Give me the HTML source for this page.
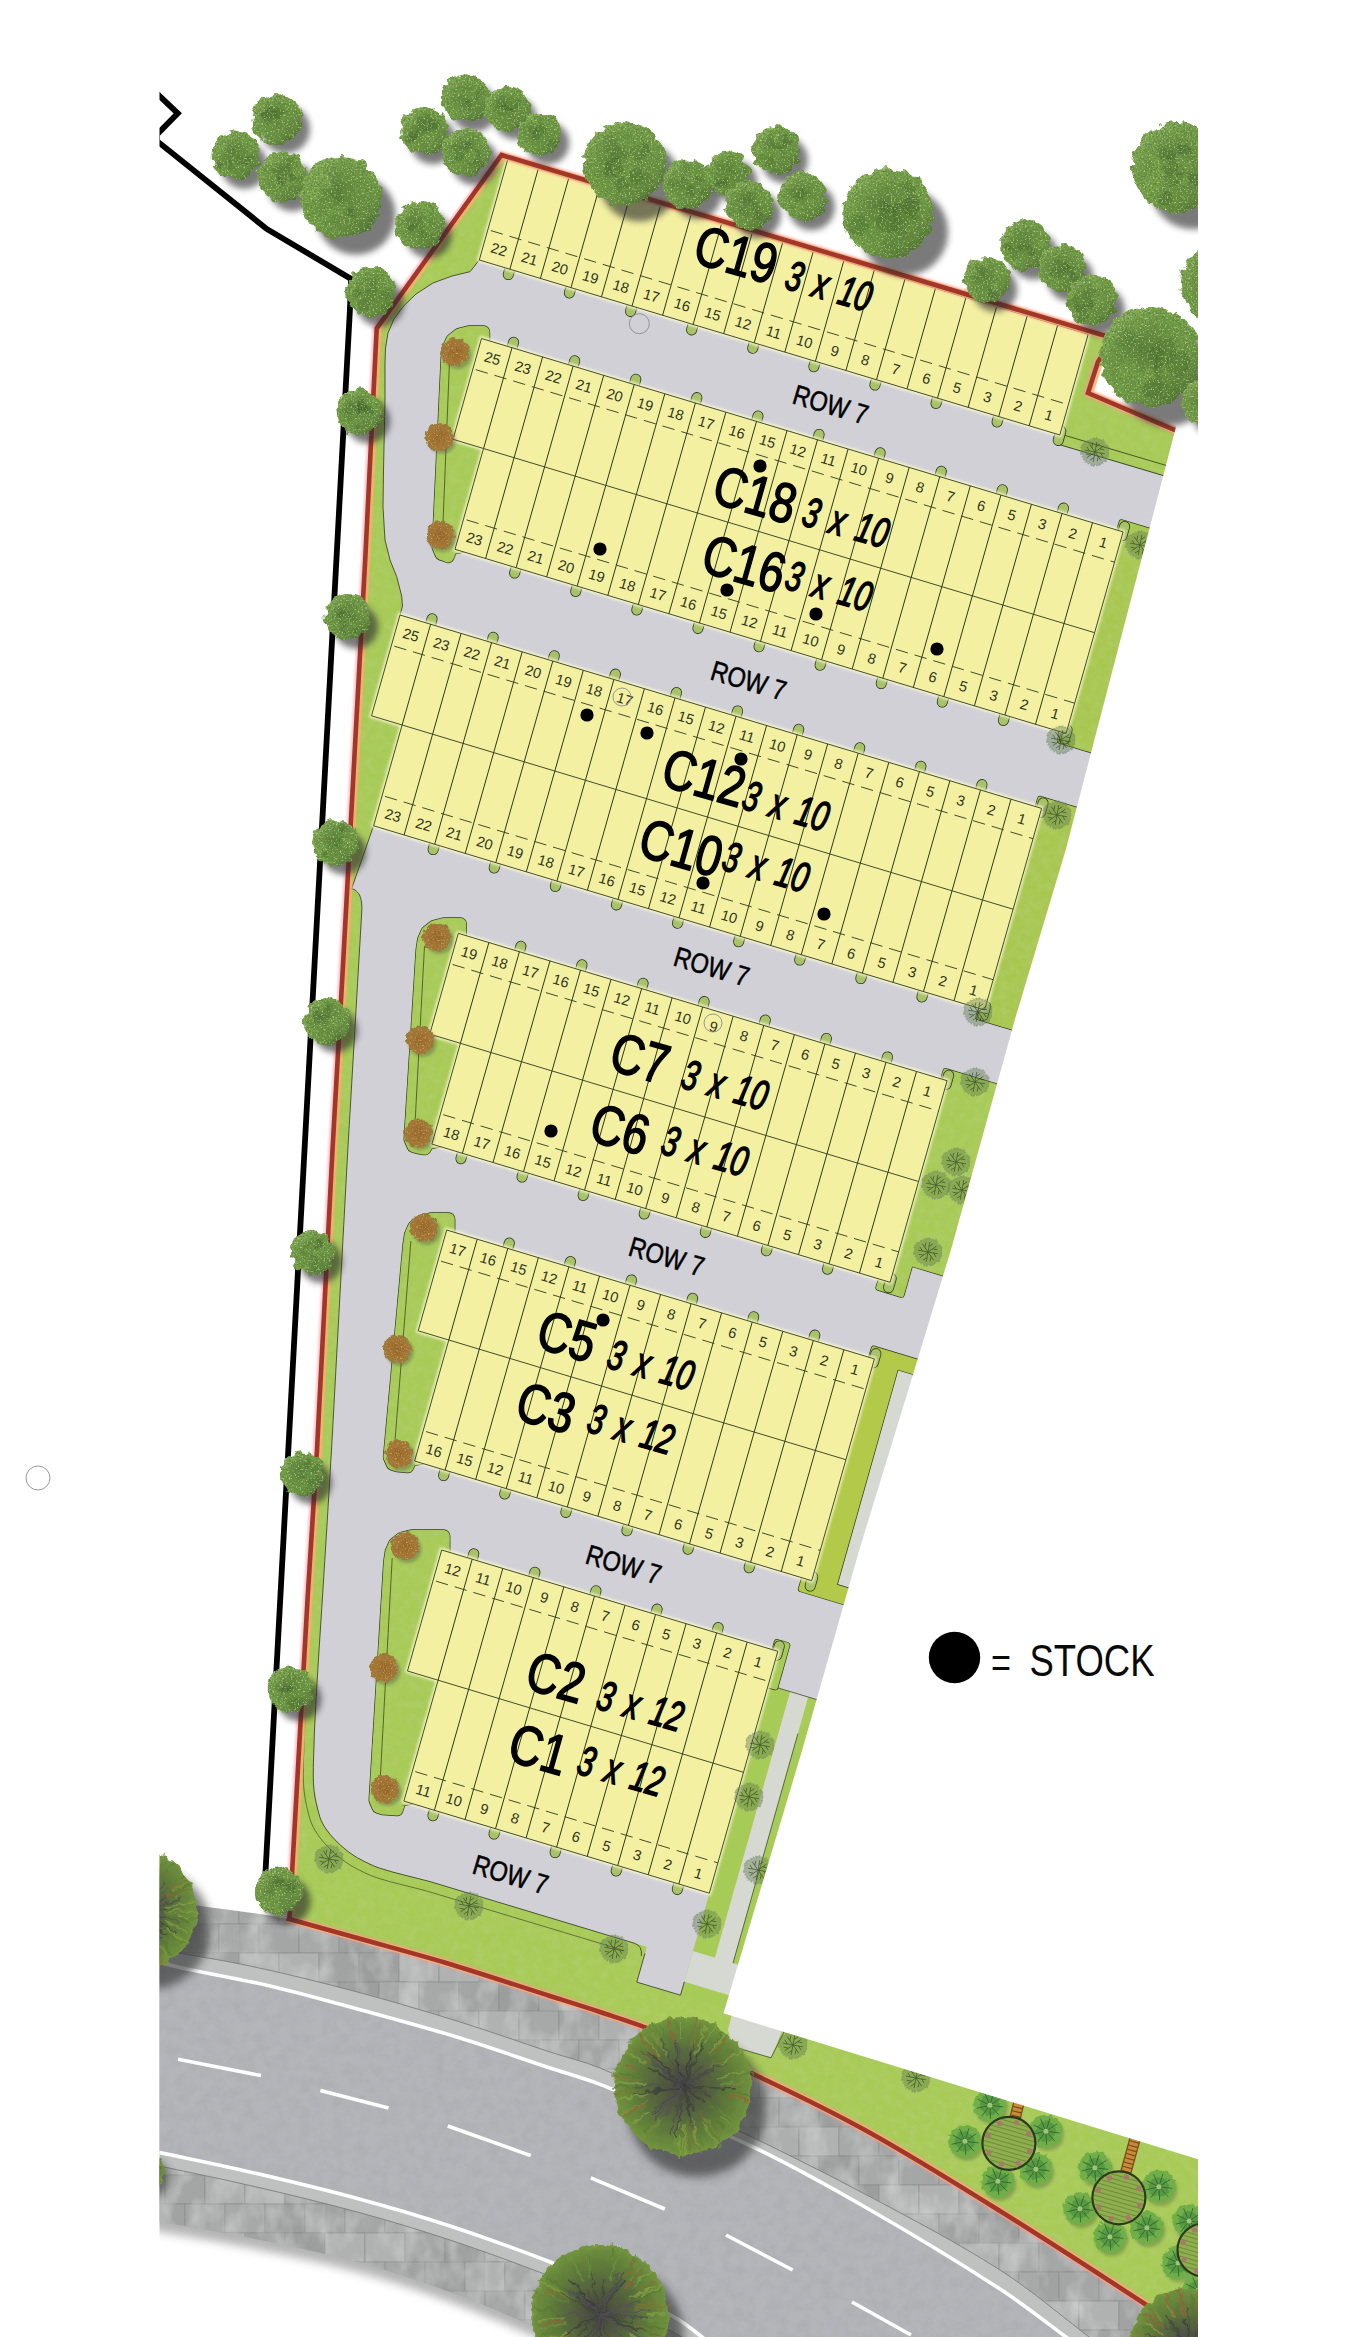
<!DOCTYPE html>
<html><head><meta charset="utf-8"><title>Site plan</title>
<style>
html,body{margin:0;padding:0;background:#fff;}
body{width:1350px;height:2337px;overflow:hidden;}
svg{display:block;}
.ln{font-family:"Liberation Sans",sans-serif;font-size:14.6px;fill:#30361b;}
</style></head><body>
<svg width="1350" height="2337" viewBox="0 0 1350 2337">
<defs>
<clipPath id="clipx"><rect x="159.5" y="0" width="1038.5" height="2337"/></clipPath>
<filter id="rough" x="-20%" y="-20%" width="140%" height="140%">
  <feTurbulence type="fractalNoise" baseFrequency="0.11" numOctaves="2" seed="3" result="n"/>
  <feDisplacementMap in="SourceGraphic" in2="n" scale="9" xChannelSelector="R" yChannelSelector="G"/>
</filter>
<filter id="rough2" x="-20%" y="-20%" width="140%" height="140%">
  <feTurbulence type="fractalNoise" baseFrequency="0.2" numOctaves="2" seed="8" result="n"/>
  <feDisplacementMap in="SourceGraphic" in2="n" scale="6" xChannelSelector="R" yChannelSelector="G"/>
</filter>
<filter id="leaf" x="-25%" y="-25%" width="150%" height="150%">
  <feTurbulence type="fractalNoise" baseFrequency="0.12" numOctaves="2" seed="3" result="n1"/>
  <feDisplacementMap in="SourceGraphic" in2="n1" scale="10" xChannelSelector="R" yChannelSelector="G" result="d"/>
  <feTurbulence type="fractalNoise" baseFrequency="0.55" numOctaves="2" seed="11" result="n2"/>
  <feColorMatrix in="n2" type="matrix" values="0 0 0 0 0.13  0 0 0 0 0.22  0 0 0 0 0.07  3.2 0 0 0 -1.35" result="dk"/>
  <feComposite in="dk" in2="d" operator="in" result="dk2"/>
  <feColorMatrix in="n2" type="matrix" values="0 0 0 0 0.56  0 0 0 0 0.74  0 0 0 0 0.32  0 2.6 0 0 -1.5" result="lt"/>
  <feComposite in="lt" in2="d" operator="in" result="lt2"/>
  <feMerge><feMergeNode in="d"/><feMergeNode in="dk2"/><feMergeNode in="lt2"/></feMerge>
</filter>
<filter id="lawn" x="-15%" y="-15%" width="130%" height="130%">
  <feTurbulence type="fractalNoise" baseFrequency="0.12" numOctaves="3" seed="21" result="n"/>
  <feColorMatrix in="n" type="matrix" values="0 0 0 0 0.45  0 0 0 0 0.62  0 0 0 0 0.16  1.1 0 0 0 -0.36" result="dk"/>
  <feComposite in="dk" in2="SourceGraphic" operator="in" result="dk2"/>
  <feColorMatrix in="n" type="matrix" values="0 0 0 0 0.74  0 0 0 0 0.86  0 0 0 0 0.40  0 1.0 0 0 -0.5" result="lt"/>
  <feComposite in="lt" in2="SourceGraphic" operator="in" result="lt2"/>
  <feMerge><feMergeNode in="SourceGraphic"/><feMergeNode in="dk2"/></feMerge>
</filter>
<filter id="bushf" x="-25%" y="-25%" width="150%" height="150%">
  <feTurbulence type="fractalNoise" baseFrequency="0.2" numOctaves="2" seed="8" result="n1"/>
  <feDisplacementMap in="SourceGraphic" in2="n1" scale="6" xChannelSelector="R" yChannelSelector="G" result="d"/>
  <feTurbulence type="fractalNoise" baseFrequency="0.6" numOctaves="2" seed="4" result="n2"/>
  <feColorMatrix in="n2" type="matrix" values="0 0 0 0 0.33  0 0 0 0 0.20  0 0 0 0 0.06  3.4 0 0 0 -1.4" result="dk"/>
  <feComposite in="dk" in2="d" operator="in" result="dk2"/>
  <feColorMatrix in="n2" type="matrix" values="0 0 0 0 0.78  0 0 0 0 0.56  0 0 0 0 0.22  0 2.4 0 0 -1.45" result="lt"/>
  <feComposite in="lt" in2="d" operator="in" result="lt2"/>
  <feMerge><feMergeNode in="d"/><feMergeNode in="dk2"/><feMergeNode in="lt2"/></feMerge>
</filter>
<filter id="marble" x="0" y="0" width="100%" height="100%">
  <feTurbulence type="fractalNoise" baseFrequency="0.045 0.03" numOctaves="3" seed="9" result="n"/>
  <feColorMatrix in="n" type="matrix" values="0 0 0 0 0.80  0 0 0 0 0.81  0 0 0 0 0.81  0.9 0 0 0 -0.36" result="lt"/>
  <feComposite in="lt" in2="SourceGraphic" operator="in" result="lt2"/>
  <feColorMatrix in="n" type="matrix" values="0 0 0 0 0.45  0 0 0 0 0.46  0 0 0 0 0.46  0 0.8 0 0 -0.36" result="dk"/>
  <feComposite in="dk" in2="SourceGraphic" operator="in" result="dk2"/>
  <feMerge><feMergeNode in="SourceGraphic"/><feMergeNode in="lt2"/><feMergeNode in="dk2"/></feMerge>
</filter>
<filter id="blur3" x="-30%" y="-30%" width="160%" height="160%"><feGaussianBlur stdDeviation="3.2"/></filter>
<filter id="blur5" x="-30%" y="-30%" width="160%" height="160%"><feGaussianBlur stdDeviation="5"/></filter>
<filter id="blur2" x="-30%" y="-30%" width="160%" height="160%"><feGaussianBlur stdDeviation="1.6"/></filter>
<filter id="blur1" x="-30%" y="-30%" width="160%" height="160%"><feGaussianBlur stdDeviation="0.9"/></filter>
<filter id="grain" x="0" y="0" width="100%" height="100%">
  <feTurbulence type="fractalNoise" baseFrequency="0.09" numOctaves="3" seed="5" result="n"/>
  <feColorMatrix in="n" type="matrix" values="0 0 0 0 0.35  0 0 0 0 0.35  0 0 0 0 0.37  0.45 0.45 0 0 -0.36" result="a"/>
  <feComposite in="a" in2="SourceGraphic" operator="in" result="b"/>
  <feMerge><feMergeNode in="SourceGraphic"/><feMergeNode in="b"/></feMerge>
</filter>
<radialGradient id="tg" cx="0.42" cy="0.40" r="0.62">
  <stop offset="0" stop-color="#527b30"/><stop offset="0.4" stop-color="#66933a"/><stop offset="0.85" stop-color="#76a544"/><stop offset="1" stop-color="#6a983c"/>
</radialGradient>
<linearGradient id="tsh" x1="0.2" y1="0.12" x2="0.85" y2="0.92">
  <stop offset="0" stop-color="#bfe486" stop-opacity="0.30"/><stop offset="0.45" stop-color="#6a983c" stop-opacity="0"/><stop offset="1" stop-color="#1c3510" stop-opacity="0.5"/>
</linearGradient>
<radialGradient id="tg2" cx="0.5" cy="0.5" r="0.55">
  <stop offset="0" stop-color="#43443f"/><stop offset="0.3" stop-color="#525c3e"/><stop offset="0.6" stop-color="#5d773a"/><stop offset="0.85" stop-color="#6c8e3c"/><stop offset="1" stop-color="#82a244"/>
</radialGradient>
<radialGradient id="bg" cx="0.5" cy="0.5" r="0.55">
  <stop offset="0" stop-color="#96601f"/><stop offset="0.7" stop-color="#a8742c"/><stop offset="1" stop-color="#927c3c"/>
</radialGradient>
</defs>
<defs><pattern id="tile" x="239" y="1895" width="160" height="116" patternUnits="userSpaceOnUse"><rect x="0.0" y="0.0" width="40" height="29" fill="#a3a6a5" stroke="#858886" stroke-width="0.6"/><rect x="40.0" y="0.0" width="40" height="29" fill="#adafae" stroke="#858886" stroke-width="0.6"/><rect x="80.0" y="0.0" width="40" height="29" fill="#b0b2b1" stroke="#858886" stroke-width="0.6"/><rect x="120.0" y="0.0" width="40" height="29" fill="#a6a9a8" stroke="#858886" stroke-width="0.6"/><rect x="160.0" y="0.0" width="40" height="29" fill="#a0a3a2" stroke="#858886" stroke-width="0.6"/><rect x="-20.0" y="29.0" width="40" height="29" fill="#a0a3a2" stroke="#858886" stroke-width="0.6"/><rect x="20.0" y="29.0" width="40" height="29" fill="#a3a6a5" stroke="#858886" stroke-width="0.6"/><rect x="60.0" y="29.0" width="40" height="29" fill="#a6a9a8" stroke="#858886" stroke-width="0.6"/><rect x="100.0" y="29.0" width="40" height="29" fill="#9b9e9d" stroke="#858886" stroke-width="0.6"/><rect x="140.0" y="29.0" width="40" height="29" fill="#a6a9a8" stroke="#858886" stroke-width="0.6"/><rect x="180.0" y="29.0" width="40" height="29" fill="#a0a3a2" stroke="#858886" stroke-width="0.6"/><rect x="0.0" y="58.0" width="40" height="29" fill="#b0b2b1" stroke="#858886" stroke-width="0.6"/><rect x="40.0" y="58.0" width="40" height="29" fill="#b0b2b1" stroke="#858886" stroke-width="0.6"/><rect x="80.0" y="58.0" width="40" height="29" fill="#a0a3a2" stroke="#858886" stroke-width="0.6"/><rect x="120.0" y="58.0" width="40" height="29" fill="#9b9e9d" stroke="#858886" stroke-width="0.6"/><rect x="160.0" y="58.0" width="40" height="29" fill="#a0a3a2" stroke="#858886" stroke-width="0.6"/><rect x="-20.0" y="87.0" width="40" height="29" fill="#b0b2b1" stroke="#858886" stroke-width="0.6"/><rect x="20.0" y="87.0" width="40" height="29" fill="#a6a9a8" stroke="#858886" stroke-width="0.6"/><rect x="60.0" y="87.0" width="40" height="29" fill="#a0a3a2" stroke="#858886" stroke-width="0.6"/><rect x="100.0" y="87.0" width="40" height="29" fill="#9b9e9d" stroke="#858886" stroke-width="0.6"/><rect x="140.0" y="87.0" width="40" height="29" fill="#a6a9a8" stroke="#858886" stroke-width="0.6"/><rect x="180.0" y="87.0" width="40" height="29" fill="#b0b2b1" stroke="#858886" stroke-width="0.6"/></pattern>
<pattern id="tile2" x="165" y="2175" width="160" height="116" patternUnits="userSpaceOnUse"><rect x="0.0" y="0.0" width="40" height="29" fill="#a3a6a5" stroke="#858886" stroke-width="0.6"/><rect x="40.0" y="0.0" width="40" height="29" fill="#adafae" stroke="#858886" stroke-width="0.6"/><rect x="80.0" y="0.0" width="40" height="29" fill="#b0b2b1" stroke="#858886" stroke-width="0.6"/><rect x="120.0" y="0.0" width="40" height="29" fill="#a6a9a8" stroke="#858886" stroke-width="0.6"/><rect x="160.0" y="0.0" width="40" height="29" fill="#a0a3a2" stroke="#858886" stroke-width="0.6"/><rect x="-20.0" y="29.0" width="40" height="29" fill="#a0a3a2" stroke="#858886" stroke-width="0.6"/><rect x="20.0" y="29.0" width="40" height="29" fill="#a3a6a5" stroke="#858886" stroke-width="0.6"/><rect x="60.0" y="29.0" width="40" height="29" fill="#a6a9a8" stroke="#858886" stroke-width="0.6"/><rect x="100.0" y="29.0" width="40" height="29" fill="#9b9e9d" stroke="#858886" stroke-width="0.6"/><rect x="140.0" y="29.0" width="40" height="29" fill="#a6a9a8" stroke="#858886" stroke-width="0.6"/><rect x="180.0" y="29.0" width="40" height="29" fill="#a0a3a2" stroke="#858886" stroke-width="0.6"/><rect x="0.0" y="58.0" width="40" height="29" fill="#b0b2b1" stroke="#858886" stroke-width="0.6"/><rect x="40.0" y="58.0" width="40" height="29" fill="#b0b2b1" stroke="#858886" stroke-width="0.6"/><rect x="80.0" y="58.0" width="40" height="29" fill="#a0a3a2" stroke="#858886" stroke-width="0.6"/><rect x="120.0" y="58.0" width="40" height="29" fill="#9b9e9d" stroke="#858886" stroke-width="0.6"/><rect x="160.0" y="58.0" width="40" height="29" fill="#a0a3a2" stroke="#858886" stroke-width="0.6"/><rect x="-20.0" y="87.0" width="40" height="29" fill="#b0b2b1" stroke="#858886" stroke-width="0.6"/><rect x="20.0" y="87.0" width="40" height="29" fill="#a6a9a8" stroke="#858886" stroke-width="0.6"/><rect x="60.0" y="87.0" width="40" height="29" fill="#a0a3a2" stroke="#858886" stroke-width="0.6"/><rect x="100.0" y="87.0" width="40" height="29" fill="#9b9e9d" stroke="#858886" stroke-width="0.6"/><rect x="140.0" y="87.0" width="40" height="29" fill="#a6a9a8" stroke="#858886" stroke-width="0.6"/><rect x="180.0" y="87.0" width="40" height="29" fill="#b0b2b1" stroke="#858886" stroke-width="0.6"/></pattern></defs>
<g clip-path="url(#clipx)">
<path d="M150.0,2170.0C183.3,2177.2 216.8,2183.8 250.0,2191.5C285.9,2199.8 321.8,2208.3 357.4,2218.0C388.5,2226.5 419.4,2235.8 450.0,2246.0C482.6,2256.8 514.9,2268.7 547.0,2281.0C568.3,2289.2 589.2,2298.1 610.0,2307.5C631.9,2317.4 653.8,2327.6 675.0,2339.0C683.9,2343.8 691.8,2350.2 700.0,2356.0C710.1,2363.2 720.0,2370.7 730.0,2378.0L600.0,2372.0C586.7,2364.7 573.4,2357.1 560.0,2350.0C549.8,2344.6 539.6,2339.0 529.0,2334.4C502.9,2323.0 476.7,2311.7 450.0,2302.0C419.5,2290.9 388.7,2280.5 357.4,2272.0C322.0,2262.4 286.0,2255.3 250.0,2248.0C216.8,2241.3 183.3,2236.0 150.0,2230.0Z" fill="#777" filter="url(#blur5)" opacity="0.55"/>
<path d="M150.0,1899.5C176.7,1903.0 203.4,1906.3 230.0,1910.0C249.7,1912.8 269.6,1914.7 289.0,1919.0C312.1,1924.1 334.6,1931.6 357.4,1938.0C387.0,1946.3 416.8,1954.1 446.3,1963.0C481.0,1973.5 515.4,1985.0 550.0,1996.0C566.7,2001.3 583.4,2006.5 600.0,2012.0C617.4,2017.8 635.0,2023.1 652.0,2030.0C685.4,2043.5 718.4,2057.7 751.0,2073.0C790.0,2091.4 829.0,2110.1 866.7,2131.0C912.0,2156.1 956.0,2183.6 1000.0,2211.0C1052.3,2243.6 1104.1,2277.2 1155.6,2311.0C1180.7,2327.5 1205.2,2345.0 1230.0,2362.0L1125.0,2366.0C1113.0,2356.3 1101.2,2346.4 1089.0,2337.0C1059.5,2314.4 1031.3,2290.0 1000.0,2270.0C957.0,2242.6 911.7,2218.9 866.7,2195.0C822.7,2171.6 778.0,2149.4 733.0,2128.0C689.1,2107.1 644.9,2086.7 600.0,2068.0C583.8,2061.3 566.6,2057.5 550.0,2052.0C520.0,2042.1 490.2,2031.4 460.0,2022.0C426.0,2011.4 391.8,2001.2 357.4,1992.0C321.8,1982.5 286.0,1973.6 250.0,1966.0C216.9,1959.0 183.3,1954.0 150.0,1948.0Z" fill="url(#tile)" filter="url(#marble)"/>
<path d="M150.0,2164.0C183.3,2171.2 216.8,2177.8 250.0,2185.5C285.9,2193.8 321.8,2202.3 357.4,2212.0C388.5,2220.5 419.4,2229.8 450.0,2240.0C482.6,2250.8 514.9,2262.7 547.0,2275.0C568.3,2283.2 589.2,2292.1 610.0,2301.5C631.9,2311.4 653.8,2321.6 675.0,2333.0C683.9,2337.8 691.8,2344.2 700.0,2350.0C710.1,2357.2 720.0,2364.7 730.0,2372.0L600.0,2362.0C586.7,2354.7 573.4,2347.1 560.0,2340.0C549.8,2334.6 539.6,2329.0 529.0,2324.4C502.9,2313.0 476.7,2301.7 450.0,2292.0C419.5,2280.9 388.7,2270.5 357.4,2262.0C322.0,2252.4 286.0,2245.3 250.0,2238.0C216.8,2231.3 183.3,2226.0 150.0,2220.0Z" fill="url(#tile2)" filter="url(#marble)"/>
<path d="M150.0,1948.0C183.3,1954.0 216.9,1959.0 250.0,1966.0C286.0,1973.6 321.8,1982.5 357.4,1992.0C391.8,2001.2 426.0,2011.4 460.0,2022.0C490.2,2031.4 520.0,2042.1 550.0,2052.0C566.6,2057.5 583.8,2061.3 600.0,2068.0C644.9,2086.7 689.1,2107.1 733.0,2128.0C778.0,2149.4 822.7,2171.6 866.7,2195.0C911.7,2218.9 957.0,2242.6 1000.0,2270.0C1031.3,2290.0 1059.5,2314.4 1089.0,2337.0C1101.2,2346.4 1113.0,2356.3 1125.0,2366.0L730.0,2372.0C720.0,2364.7 710.1,2357.2 700.0,2350.0C691.8,2344.2 683.9,2337.8 675.0,2333.0C653.8,2321.6 631.9,2311.4 610.0,2301.5C589.2,2292.1 568.3,2283.2 547.0,2275.0C514.9,2262.7 482.6,2250.8 450.0,2240.0C419.4,2229.8 388.5,2220.5 357.4,2212.0C321.8,2202.3 285.9,2193.8 250.0,2185.5C216.8,2177.8 183.3,2171.2 150.0,2164.0Z" fill="#bfc1c1" />
<path d="M150.0,1960.0C159.9,1962.5 169.7,1965.2 179.6,1967.4C209.7,1973.9 240.0,1979.0 270.0,1986.0C299.3,1992.9 328.3,2001.0 357.4,2009.0C391.7,2018.4 426.0,2027.6 460.0,2038.0C490.2,2047.3 520.0,2058.1 550.0,2068.0C566.6,2073.5 583.6,2078.1 600.0,2084.4C649.2,2103.4 698.8,2121.8 746.7,2144.0C787.8,2163.1 827.4,2185.5 866.7,2208.0C911.8,2233.8 956.4,2260.7 1000.0,2289.0C1022.8,2303.8 1044.2,2320.7 1066.0,2337.0C1077.6,2345.7 1088.7,2355.0 1100.0,2364.0L740.0,2366.0C727.3,2356.3 714.8,2346.5 702.0,2337.0C693.3,2330.5 685.2,2323.0 675.6,2317.8C654.4,2306.3 632.1,2296.8 610.0,2287.0C589.2,2277.8 568.3,2268.8 547.0,2260.7C514.9,2248.5 482.6,2236.7 450.0,2226.0C419.4,2216.0 388.5,2206.9 357.4,2198.5C321.8,2188.9 285.9,2180.3 250.0,2172.0C216.8,2164.3 183.3,2157.7 150.0,2150.5Z" fill="#b3b5b9" filter="url(#grain)"/>
<path d="M150.0,1960.0C159.9,1962.5 169.7,1965.2 179.6,1967.4C209.7,1973.9 240.0,1979.0 270.0,1986.0C299.3,1992.9 328.3,2001.0 357.4,2009.0C391.7,2018.4 426.0,2027.6 460.0,2038.0C490.2,2047.3 520.0,2058.1 550.0,2068.0C566.6,2073.5 583.6,2078.1 600.0,2084.4C649.2,2103.4 698.8,2121.8 746.7,2144.0C787.8,2163.1 827.4,2185.5 866.7,2208.0C911.8,2233.8 956.4,2260.7 1000.0,2289.0C1022.8,2303.8 1044.2,2320.7 1066.0,2337.0C1077.6,2345.7 1088.7,2355.0 1100.0,2364.0" fill="none" stroke="#fff" stroke-width="3.6"/>
<path d="M150.0,2150.5C183.3,2157.7 216.8,2164.3 250.0,2172.0C285.9,2180.3 321.8,2188.9 357.4,2198.5C388.5,2206.9 419.4,2216.0 450.0,2226.0C482.6,2236.7 514.9,2248.5 547.0,2260.7C568.3,2268.8 589.2,2277.8 610.0,2287.0C632.1,2296.8 654.4,2306.3 675.6,2317.8C685.2,2323.0 693.3,2330.5 702.0,2337.0C714.8,2346.5 727.3,2356.3 740.0,2366.0" fill="none" stroke="#fff" stroke-width="3.6"/>
<path d="M150.0,1948.0C183.3,1954.0 216.9,1959.0 250.0,1966.0C286.0,1973.6 321.8,1982.5 357.4,1992.0C391.8,2001.2 426.0,2011.4 460.0,2022.0C490.2,2031.4 520.0,2042.1 550.0,2052.0C566.6,2057.5 583.8,2061.3 600.0,2068.0C644.9,2086.7 689.1,2107.1 733.0,2128.0C778.0,2149.4 822.7,2171.6 866.7,2195.0C911.7,2218.9 957.0,2242.6 1000.0,2270.0C1031.3,2290.0 1059.5,2314.4 1089.0,2337.0C1101.2,2346.4 1113.0,2356.3 1125.0,2366.0" fill="none" stroke="#6e706f" stroke-width="0.8"/>
<path d="M150.0,2164.0C183.3,2171.2 216.8,2177.8 250.0,2185.5C285.9,2193.8 321.8,2202.3 357.4,2212.0C388.5,2220.5 419.4,2229.8 450.0,2240.0C482.6,2250.8 514.9,2262.7 547.0,2275.0C568.3,2283.2 589.2,2292.1 610.0,2301.5C631.9,2311.4 653.8,2321.6 675.0,2333.0C683.9,2337.8 691.8,2344.2 700.0,2350.0C710.1,2357.2 720.0,2364.7 730.0,2372.0" fill="none" stroke="#6e706f" stroke-width="0.8"/>
<line x1="178.0" y1="2059.3" x2="261.0" y2="2075.6" stroke="#fff" stroke-width="3.6"/>
<line x1="320.4" y1="2090.4" x2="388.5" y2="2108.0" stroke="#fff" stroke-width="3.6"/>
<line x1="447.8" y1="2126.0" x2="530.7" y2="2155.6" stroke="#fff" stroke-width="3.6"/>
<line x1="590.7" y1="2177.8" x2="664.8" y2="2209.0" stroke="#fff" stroke-width="3.6"/>
<line x1="726.0" y1="2235.0" x2="792.6" y2="2270.0" stroke="#fff" stroke-width="3.6"/>
<line x1="852.0" y1="2302.0" x2="911.0" y2="2335.0" stroke="#fff" stroke-width="3.6"/>
</g>
<g clip-path="url(#clipx)">
<path d="M501.5,155 L1113.3,338.3 L1098,361.7 L1088,393 L1175,430 L1320,470 L1320,2400 L1230,2362 L1230.0,2362.0C1205.2,2345.0 1180.7,2327.5 1155.6,2311.0C1104.1,2277.2 1052.3,2243.6 1000.0,2211.0C956.0,2183.6 912.0,2156.1 866.7,2131.0C829.0,2110.1 790.0,2091.4 751.0,2073.0C718.4,2057.7 685.4,2043.5 652.0,2030.0C635.0,2023.1 617.4,2017.8 600.0,2012.0C583.4,2006.5 566.7,2001.3 550.0,1996.0C515.4,1985.0 481.0,1973.5 446.3,1963.0C416.8,1954.1 387.0,1946.3 357.4,1938.0C334.6,1931.6 311.8,1925.3 289.0,1919.0 L289.5,1918.0 L307.5,1600.0 L317.0,1450.0 L332.5,1150.0 L343.3,960.0 L365.2,560.0 L376.7,328.3Z" fill="#d0d0d6"/>
<polygon points="501.5,155.0 507.8,159.2 479.3,260.0 470.0,271.7 452.0,276.0 433.0,283.0 416.0,294.0 403.0,306.7 394.0,319.0 388.0,333.0 385.5,348.0 385.0,363.0 385.0,400.0 383.5,470.0 383.0,507.0 385.0,540.0 390.0,560.0 396.7,576.7 401.7,596.0 402.5,606.0 400.0,615.0 371.5,715.8 402.1,725.0 373.6,825.8 351.5,889.0 347.0,889.0 365.2,560.0 376.7,328.3" fill="#a7cb57" filter="url(#lawn)"/>
<polyline points="479.3,260.0 470.0,271.7 452.0,276.0 433.0,283.0 416.0,294.0 403.0,306.7 394.0,319.0 388.0,333.0 385.5,348.0 385.0,363.0 385.0,400.0 383.5,470.0 383.0,507.0 385.0,540.0 390.0,560.0 396.7,576.7 401.7,596.0 402.5,606.0 400.0,615.0" fill="none" stroke="#2f3a1a" stroke-width="0.8"/>
<polyline points="373.6,825.8 351.5,889.0" fill="none" stroke="#2f3a1a" stroke-width="0.8"/>
<path d="M350.2,888.5 L355.0,890.0 L359.5,895.0 L361.6,903.0 L361.7,913.0 L347.8,1150.0 L331.5,1450.0 L322.3,1600.0 L316.0,1700.0 L313.5,1760.0 L314.0,1790.0 L319.9,1817.2 L326.0,1829.0 L334.9,1839.7 L345.0,1849.0 L357.3,1857.7 L379.8,1868.2 L430.0,1881.6 L1320,2150 L1320,2400 L1230,2362 L1230.0,2362.0C1205.2,2345.0 1180.7,2327.5 1155.6,2311.0C1104.1,2277.2 1052.3,2243.6 1000.0,2211.0C956.0,2183.6 912.0,2156.1 866.7,2131.0C829.0,2110.1 790.0,2091.4 751.0,2073.0C718.4,2057.7 685.4,2043.5 652.0,2030.0C635.0,2023.1 617.4,2017.8 600.0,2012.0C583.4,2006.5 566.7,2001.3 550.0,1996.0C515.4,1985.0 481.0,1973.5 446.3,1963.0C416.8,1954.1 387.0,1946.3 357.4,1938.0C334.6,1931.6 311.8,1925.3 289.0,1919.0 L307.5,1600.0 L317.0,1450.0 L332.5,1150.0 L343.3,960.0 L346.5,900.0Z" fill="#a7cb57" filter="url(#lawn)"/>
<path d="M350.2,888.5C351.8,889.0 353.6,889.0 355.0,890.0C356.8,891.3 358.5,893.0 359.5,895.0C360.7,897.5 361.3,900.3 361.6,903.0C362.0,906.3 361.9,909.7 361.7,913.0C357.3,992.0 352.2,1071.0 347.8,1150.0C342.2,1250.0 337.2,1350.0 331.5,1450.0C328.7,1500.0 325.4,1550.0 322.3,1600.0C320.2,1633.3 317.8,1666.7 316.0,1700.0C314.9,1720.0 313.9,1740.0 313.5,1760.0C313.3,1770.0 312.9,1780.1 314.0,1790.0C315.0,1799.2 317.2,1808.3 319.9,1817.2C321.2,1821.4 323.5,1825.3 326.0,1829.0C328.6,1832.9 331.7,1836.3 334.9,1839.7C338.1,1843.0 341.4,1846.1 345.0,1849.0C348.9,1852.1 352.9,1855.3 357.3,1857.7C364.5,1861.7 371.9,1865.6 379.8,1868.2C396.3,1873.6 413.3,1877.1 430.0,1881.6 L634,1943.1 Q642.8,1945.8 641.3,1956" fill="none" stroke="#2f3a1a" stroke-width="0.8"/>
<path d="M306.0,1699.6C305.2,1719.6 303.9,1739.7 303.5,1759.8C303.3,1770.2 302.9,1780.7 304.1,1791.1C305.2,1800.9 307.4,1810.7 310.3,1820.1C312.0,1825.3 314.7,1830.0 317.7,1834.5C320.5,1838.9 324.1,1842.8 327.7,1846.6C331.1,1850.2 334.8,1853.7 338.7,1856.8C343.1,1860.3 347.6,1863.8 352.5,1866.5C360.3,1870.7 368.2,1874.9 376.7,1877.7C393.2,1883.2 410.5,1886.4 427.3,1891.2C447.7,1897.1 467.9,1903.5 488.2,1909.6C508.6,1915.7 528.9,1921.9 549.3,1928.0C569.7,1934.2 590.0,1940.3 610.4,1946.4C615.0,1947.8 619.6,1949.2 624.2,1950.6" fill="none" stroke="#2f3a1a" stroke-width="0.7" opacity="0.85"/>
<polygon points="1088.2,334.2 1113.3,338.3 1098.0,361.7 1088.0,393.0 1175.0,430.0 1250.0,455.0 1250.0,500.0 1163.0,475.5 1058.0,444.0 1054.5,440.0 1054.0,435.0 1059.8,435.0" fill="#a7cb57" filter="url(#lawn)"/>
<polyline points="1250.0,489.5 1163.0,464.5 1062.0,434.5" fill="none" stroke="#2f3a1a" stroke-width="0.8"/>
<path d="M1250,500.5 L1163,475.5 L1059,444.5 Q1054,443 1054,436" fill="none" stroke="#2f3a1a" stroke-width="0.9"/>
<polygon points="1121.7,522.6 1366.1,596.3 1304.5,814.3 1060.1,740.6" fill="#2f3a1a" stroke="#2f3a1a" stroke-width="6.4" stroke-linejoin="round"/>
<polygon points="1121.7,522.6 1366.1,596.3 1304.5,814.3 1060.1,740.6" fill="#a8c750" stroke="#a8c750" stroke-width="5.0" stroke-linejoin="round" filter="url(#lawn)"/>
<polygon points="1040.2,799.1 1284.6,872.8 1223.0,1090.8 978.6,1017.1" fill="#2f3a1a" stroke="#2f3a1a" stroke-width="6.4" stroke-linejoin="round"/>
<polygon points="1040.2,799.1 1284.6,872.8 1223.0,1090.8 978.6,1017.1" fill="#a8c750" stroke="#a8c750" stroke-width="5.0" stroke-linejoin="round" filter="url(#lawn)"/>
<polygon points="945.7,1071.4 1190.1,1145.1 1141.0,1332.8 910.4,1263.3 901.5,1294.6 878.6,1287.7" fill="#2f3a1a" stroke="#2f3a1a" stroke-width="6.4" stroke-linejoin="round"/>
<polygon points="945.7,1071.4 1190.1,1145.1 1141.0,1332.8 910.4,1263.3 901.5,1294.6 878.6,1287.7" fill="#a7cb57" stroke="#a7cb57" stroke-width="5.0" stroke-linejoin="round" filter="url(#lawn)"/>
<polygon points="874.4,1358.9 1118.8,1432.6 1056.1,1654.4 811.7,1580.7" fill="#d6d8d2" />
<polygon points="873.9,1348.9 1118.3,1422.6 1118.5,1433.6 896.1,1366.5 834.0,1586.4 1056.4,1653.4 1045.5,1662.7 801.1,1589.0" fill="#2f3a1a" stroke="#2f3a1a" stroke-width="6.4" stroke-linejoin="round"/>
<polygon points="873.9,1348.9 1118.3,1422.6 1118.5,1433.6 896.1,1366.5 834.0,1586.4 1056.4,1653.4 1045.5,1662.7 801.1,1589.0" fill="#b3c94a" stroke="#b3c94a" stroke-width="5.0" stroke-linejoin="round" />
<polygon points="765.2,1684.1 1012.6,1758.7 925.0,2068.5 677.6,1993.9" fill="#a7cb57" />
<polygon points="790.2,1691.6 808.2,1697.1 732.1,1966.5 714.0,1961.1" fill="#d6d8d2" />
<polyline points="766.7,1684.5 1012.6,1758.7" fill="none" stroke="#2f3a1a" stroke-width="0.7"/>
<polyline points="797.9,1733.6 732.6,1964.6" fill="none" stroke="#2f3a1a" stroke-width="0.7"/>
<polygon points="777.0,1642.2 787.1,1645.2 775.3,1687.1 765.2,1684.1" fill="#2f3a1a" stroke="#2f3a1a" stroke-width="6.4" stroke-linejoin="round"/>
<polygon points="777.0,1642.2 787.1,1645.2 775.3,1687.1 765.2,1684.1" fill="#a7cb57" stroke="#a7cb57" stroke-width="5.0" stroke-linejoin="round" />
<polygon points="693.0,1951.0 876.3,2006.2 867.6,2037.0 684.3,1981.8" fill="#d6d8d2" />
<polygon points="709.9,1891.3 680.5,1995.2 636.8,1982.1 646.9,1946.5 642.3,1935.7 622.4,1919.2 636.6,1869.2" fill="#d0d0d6" />
<polyline points="684.3,1981.8 680.5,1995.2 636.8,1982.1 645.0,1953.2" fill="none" stroke="#2f3a1a" stroke-width="0.8"/>
<polygon points="733.0,2010.0 785.0,2024.0 771.0,2057.8 733.0,2046.7 728.0,2030.0" fill="#d6d8d2" />
<polyline points="785,2030 771,2057.8 733,2046.7" fill="none" stroke="#2f3a1a" stroke-width="0.7"/>
<polygon points="483.5,341.5 483.5,332.0 469.2,332.0 459.2,334.5 452.2,340.0 448.7,348.0 447.2,358.0 438.3,547.0 441.3,554.0 446.3,555.5 448.0,556.5 451.0,548.3 462.6,546.1 483.5,448.5 453.0,439.3" fill="#2f3a1a" stroke="#2f3a1a" stroke-width="13.4" stroke-linejoin="round"/>
<polygon points="483.5,341.5 483.5,332.0 469.2,332.0 459.2,334.5 452.2,340.0 448.7,348.0 447.2,358.0 438.3,547.0 441.3,554.0 446.3,555.5 448.0,556.5 451.0,548.3 462.6,546.1 483.5,448.5 453.0,439.3" fill="#a7cb57" stroke="#a7cb57" stroke-width="12.0" stroke-linejoin="round" filter="url(#lawn)"/>
<line x1="449.8" y1="354.0" x2="442.2" y2="543.0" stroke="#2f3a1a" stroke-width="0.7"/>
<polygon points="460.3,936.3 460.3,924.0 444.2,924.0 434.2,926.5 427.2,932.0 423.7,940.0 422.2,950.0 410.2,1139.0 413.2,1146.0 418.2,1147.5 424.9,1148.5 427.9,1143.1 439.4,1140.9 460.4,1043.3 429.8,1034.1" fill="#2f3a1a" stroke="#2f3a1a" stroke-width="13.4" stroke-linejoin="round"/>
<polygon points="460.3,936.3 460.3,924.0 444.2,924.0 434.2,926.5 427.2,932.0 423.7,940.0 422.2,950.0 410.2,1139.0 413.2,1146.0 418.2,1147.5 424.9,1148.5 427.9,1143.1 439.4,1140.9 460.4,1043.3 429.8,1034.1" fill="#a7cb57" stroke="#a7cb57" stroke-width="12.0" stroke-linejoin="round" filter="url(#lawn)"/>
<line x1="424.5" y1="946.0" x2="414.4" y2="1135.0" stroke="#2f3a1a" stroke-width="0.7"/>
<polygon points="448.7,1233.0 448.7,1219.0 431.1,1219.0 421.1,1221.5 414.1,1227.0 410.6,1235.0 409.1,1245.0 389.5,1457.0 392.5,1464.0 397.5,1465.5 407.6,1466.5 410.6,1460.0 422.1,1457.8 448.8,1340.0 418.2,1330.8" fill="#2f3a1a" stroke="#2f3a1a" stroke-width="13.4" stroke-linejoin="round"/>
<polygon points="448.7,1233.0 448.7,1219.0 431.1,1219.0 421.1,1221.5 414.1,1227.0 410.6,1235.0 409.1,1245.0 389.5,1457.0 392.5,1464.0 397.5,1465.5 407.6,1466.5 410.6,1460.0 422.1,1457.8 448.8,1340.0 418.2,1330.8" fill="#a7cb57" stroke="#a7cb57" stroke-width="12.0" stroke-linejoin="round" filter="url(#lawn)"/>
<line x1="410.9" y1="1241.0" x2="394.0" y2="1453.0" stroke="#2f3a1a" stroke-width="0.7"/>
<polygon points="443.7,1553.0 443.7,1536.0 411.8,1536.0 401.8,1538.5 394.8,1544.0 391.3,1552.0 389.8,1562.0 375.2,1800.0 378.2,1807.0 383.2,1808.5 396.9,1809.5 399.9,1800.1 411.4,1797.9 438.1,1680.2 407.5,1671.0" fill="#2f3a1a" stroke="#2f3a1a" stroke-width="13.4" stroke-linejoin="round"/>
<polygon points="443.7,1553.0 443.7,1536.0 411.8,1536.0 401.8,1538.5 394.8,1544.0 391.3,1552.0 389.8,1562.0 375.2,1800.0 378.2,1807.0 383.2,1808.5 396.9,1809.5 399.9,1800.1 411.4,1797.9 438.1,1680.2 407.5,1671.0" fill="#a7cb57" stroke="#a7cb57" stroke-width="12.0" stroke-linejoin="round" filter="url(#lawn)"/>
<line x1="392.2" y1="1558.0" x2="379.3" y2="1796.0" stroke="#2f3a1a" stroke-width="0.7"/>
<line x1="510.9" y1="265.4" x2="508.3" y2="274.6" stroke="#2f3a1a" stroke-width="11" stroke-linecap="round"/>
<line x1="510.9" y1="265.4" x2="508.3" y2="274.6" stroke="#a7c268" stroke-width="9.4" stroke-linecap="round"/>
<line x1="572.0" y1="283.8" x2="569.4" y2="293.0" stroke="#2f3a1a" stroke-width="11" stroke-linecap="round"/>
<line x1="572.0" y1="283.8" x2="569.4" y2="293.0" stroke="#a7c268" stroke-width="9.4" stroke-linecap="round"/>
<line x1="633.1" y1="302.2" x2="630.5" y2="311.4" stroke="#2f3a1a" stroke-width="11" stroke-linecap="round"/>
<line x1="633.1" y1="302.2" x2="630.5" y2="311.4" stroke="#a7c268" stroke-width="9.4" stroke-linecap="round"/>
<line x1="694.2" y1="320.6" x2="691.6" y2="329.9" stroke="#2f3a1a" stroke-width="11" stroke-linecap="round"/>
<line x1="694.2" y1="320.6" x2="691.6" y2="329.9" stroke="#a7c268" stroke-width="9.4" stroke-linecap="round"/>
<line x1="755.3" y1="339.0" x2="752.7" y2="348.3" stroke="#2f3a1a" stroke-width="11" stroke-linecap="round"/>
<line x1="755.3" y1="339.0" x2="752.7" y2="348.3" stroke="#a7c268" stroke-width="9.4" stroke-linecap="round"/>
<line x1="816.4" y1="357.5" x2="813.8" y2="366.7" stroke="#2f3a1a" stroke-width="11" stroke-linecap="round"/>
<line x1="816.4" y1="357.5" x2="813.8" y2="366.7" stroke="#a7c268" stroke-width="9.4" stroke-linecap="round"/>
<line x1="877.5" y1="375.9" x2="874.9" y2="385.1" stroke="#2f3a1a" stroke-width="11" stroke-linecap="round"/>
<line x1="877.5" y1="375.9" x2="874.9" y2="385.1" stroke="#a7c268" stroke-width="9.4" stroke-linecap="round"/>
<line x1="938.6" y1="394.3" x2="936.0" y2="403.5" stroke="#2f3a1a" stroke-width="11" stroke-linecap="round"/>
<line x1="938.6" y1="394.3" x2="936.0" y2="403.5" stroke="#a7c268" stroke-width="9.4" stroke-linecap="round"/>
<line x1="999.7" y1="412.7" x2="997.1" y2="422.0" stroke="#2f3a1a" stroke-width="11" stroke-linecap="round"/>
<line x1="999.7" y1="412.7" x2="997.1" y2="422.0" stroke="#a7c268" stroke-width="9.4" stroke-linecap="round"/>
<line x1="1060.8" y1="431.1" x2="1058.2" y2="440.4" stroke="#2f3a1a" stroke-width="11" stroke-linecap="round"/>
<line x1="1060.8" y1="431.1" x2="1058.2" y2="440.4" stroke="#a7c268" stroke-width="9.4" stroke-linecap="round"/>
<line x1="511.0" y1="351.6" x2="513.6" y2="342.3" stroke="#2f3a1a" stroke-width="11" stroke-linecap="round"/>
<line x1="511.0" y1="351.6" x2="513.6" y2="342.3" stroke="#a7c268" stroke-width="9.4" stroke-linecap="round"/>
<line x1="572.1" y1="370.0" x2="574.7" y2="360.7" stroke="#2f3a1a" stroke-width="11" stroke-linecap="round"/>
<line x1="572.1" y1="370.0" x2="574.7" y2="360.7" stroke="#a7c268" stroke-width="9.4" stroke-linecap="round"/>
<line x1="633.2" y1="388.4" x2="635.8" y2="379.2" stroke="#2f3a1a" stroke-width="11" stroke-linecap="round"/>
<line x1="633.2" y1="388.4" x2="635.8" y2="379.2" stroke="#a7c268" stroke-width="9.4" stroke-linecap="round"/>
<line x1="694.3" y1="406.8" x2="696.9" y2="397.6" stroke="#2f3a1a" stroke-width="11" stroke-linecap="round"/>
<line x1="694.3" y1="406.8" x2="696.9" y2="397.6" stroke="#a7c268" stroke-width="9.4" stroke-linecap="round"/>
<line x1="755.4" y1="425.2" x2="758.0" y2="416.0" stroke="#2f3a1a" stroke-width="11" stroke-linecap="round"/>
<line x1="755.4" y1="425.2" x2="758.0" y2="416.0" stroke="#a7c268" stroke-width="9.4" stroke-linecap="round"/>
<line x1="816.5" y1="443.7" x2="819.1" y2="434.4" stroke="#2f3a1a" stroke-width="11" stroke-linecap="round"/>
<line x1="816.5" y1="443.7" x2="819.1" y2="434.4" stroke="#a7c268" stroke-width="9.4" stroke-linecap="round"/>
<line x1="877.6" y1="462.1" x2="880.2" y2="452.8" stroke="#2f3a1a" stroke-width="11" stroke-linecap="round"/>
<line x1="877.6" y1="462.1" x2="880.2" y2="452.8" stroke="#a7c268" stroke-width="9.4" stroke-linecap="round"/>
<line x1="938.7" y1="480.5" x2="941.3" y2="471.3" stroke="#2f3a1a" stroke-width="11" stroke-linecap="round"/>
<line x1="938.7" y1="480.5" x2="941.3" y2="471.3" stroke="#a7c268" stroke-width="9.4" stroke-linecap="round"/>
<line x1="999.8" y1="498.9" x2="1002.4" y2="489.7" stroke="#2f3a1a" stroke-width="11" stroke-linecap="round"/>
<line x1="999.8" y1="498.9" x2="1002.4" y2="489.7" stroke="#a7c268" stroke-width="9.4" stroke-linecap="round"/>
<line x1="1060.9" y1="517.3" x2="1063.5" y2="508.1" stroke="#2f3a1a" stroke-width="11" stroke-linecap="round"/>
<line x1="1060.9" y1="517.3" x2="1063.5" y2="508.1" stroke="#a7c268" stroke-width="9.4" stroke-linecap="round"/>
<line x1="1122.0" y1="535.8" x2="1124.6" y2="526.5" stroke="#2f3a1a" stroke-width="11" stroke-linecap="round"/>
<line x1="1122.0" y1="535.8" x2="1124.6" y2="526.5" stroke="#a7c268" stroke-width="9.4" stroke-linecap="round"/>
<line x1="517.2" y1="563.9" x2="514.6" y2="573.1" stroke="#2f3a1a" stroke-width="11" stroke-linecap="round"/>
<line x1="517.2" y1="563.9" x2="514.6" y2="573.1" stroke="#a7c268" stroke-width="9.4" stroke-linecap="round"/>
<line x1="578.3" y1="582.3" x2="575.7" y2="591.5" stroke="#2f3a1a" stroke-width="11" stroke-linecap="round"/>
<line x1="578.3" y1="582.3" x2="575.7" y2="591.5" stroke="#a7c268" stroke-width="9.4" stroke-linecap="round"/>
<line x1="639.4" y1="600.7" x2="636.8" y2="610.0" stroke="#2f3a1a" stroke-width="11" stroke-linecap="round"/>
<line x1="639.4" y1="600.7" x2="636.8" y2="610.0" stroke="#a7c268" stroke-width="9.4" stroke-linecap="round"/>
<line x1="700.5" y1="619.1" x2="697.9" y2="628.4" stroke="#2f3a1a" stroke-width="11" stroke-linecap="round"/>
<line x1="700.5" y1="619.1" x2="697.9" y2="628.4" stroke="#a7c268" stroke-width="9.4" stroke-linecap="round"/>
<line x1="761.6" y1="637.6" x2="759.0" y2="646.8" stroke="#2f3a1a" stroke-width="11" stroke-linecap="round"/>
<line x1="761.6" y1="637.6" x2="759.0" y2="646.8" stroke="#a7c268" stroke-width="9.4" stroke-linecap="round"/>
<line x1="822.7" y1="656.0" x2="820.1" y2="665.2" stroke="#2f3a1a" stroke-width="11" stroke-linecap="round"/>
<line x1="822.7" y1="656.0" x2="820.1" y2="665.2" stroke="#a7c268" stroke-width="9.4" stroke-linecap="round"/>
<line x1="883.8" y1="674.4" x2="881.2" y2="683.6" stroke="#2f3a1a" stroke-width="11" stroke-linecap="round"/>
<line x1="883.8" y1="674.4" x2="881.2" y2="683.6" stroke="#a7c268" stroke-width="9.4" stroke-linecap="round"/>
<line x1="944.9" y1="692.8" x2="942.3" y2="702.1" stroke="#2f3a1a" stroke-width="11" stroke-linecap="round"/>
<line x1="944.9" y1="692.8" x2="942.3" y2="702.1" stroke="#a7c268" stroke-width="9.4" stroke-linecap="round"/>
<line x1="1006.0" y1="711.2" x2="1003.4" y2="720.5" stroke="#2f3a1a" stroke-width="11" stroke-linecap="round"/>
<line x1="1006.0" y1="711.2" x2="1003.4" y2="720.5" stroke="#a7c268" stroke-width="9.4" stroke-linecap="round"/>
<line x1="1067.1" y1="729.7" x2="1064.5" y2="738.9" stroke="#2f3a1a" stroke-width="11" stroke-linecap="round"/>
<line x1="1067.1" y1="729.7" x2="1064.5" y2="738.9" stroke="#a7c268" stroke-width="9.4" stroke-linecap="round"/>
<line x1="429.5" y1="628.1" x2="432.1" y2="618.8" stroke="#2f3a1a" stroke-width="11" stroke-linecap="round"/>
<line x1="429.5" y1="628.1" x2="432.1" y2="618.8" stroke="#a7c268" stroke-width="9.4" stroke-linecap="round"/>
<line x1="490.6" y1="646.5" x2="493.2" y2="637.2" stroke="#2f3a1a" stroke-width="11" stroke-linecap="round"/>
<line x1="490.6" y1="646.5" x2="493.2" y2="637.2" stroke="#a7c268" stroke-width="9.4" stroke-linecap="round"/>
<line x1="551.7" y1="664.9" x2="554.3" y2="655.7" stroke="#2f3a1a" stroke-width="11" stroke-linecap="round"/>
<line x1="551.7" y1="664.9" x2="554.3" y2="655.7" stroke="#a7c268" stroke-width="9.4" stroke-linecap="round"/>
<line x1="612.8" y1="683.3" x2="615.4" y2="674.1" stroke="#2f3a1a" stroke-width="11" stroke-linecap="round"/>
<line x1="612.8" y1="683.3" x2="615.4" y2="674.1" stroke="#a7c268" stroke-width="9.4" stroke-linecap="round"/>
<line x1="673.9" y1="701.7" x2="676.5" y2="692.5" stroke="#2f3a1a" stroke-width="11" stroke-linecap="round"/>
<line x1="673.9" y1="701.7" x2="676.5" y2="692.5" stroke="#a7c268" stroke-width="9.4" stroke-linecap="round"/>
<line x1="735.0" y1="720.2" x2="737.6" y2="710.9" stroke="#2f3a1a" stroke-width="11" stroke-linecap="round"/>
<line x1="735.0" y1="720.2" x2="737.6" y2="710.9" stroke="#a7c268" stroke-width="9.4" stroke-linecap="round"/>
<line x1="796.1" y1="738.6" x2="798.7" y2="729.3" stroke="#2f3a1a" stroke-width="11" stroke-linecap="round"/>
<line x1="796.1" y1="738.6" x2="798.7" y2="729.3" stroke="#a7c268" stroke-width="9.4" stroke-linecap="round"/>
<line x1="857.2" y1="757.0" x2="859.8" y2="747.8" stroke="#2f3a1a" stroke-width="11" stroke-linecap="round"/>
<line x1="857.2" y1="757.0" x2="859.8" y2="747.8" stroke="#a7c268" stroke-width="9.4" stroke-linecap="round"/>
<line x1="918.3" y1="775.4" x2="920.9" y2="766.2" stroke="#2f3a1a" stroke-width="11" stroke-linecap="round"/>
<line x1="918.3" y1="775.4" x2="920.9" y2="766.2" stroke="#a7c268" stroke-width="9.4" stroke-linecap="round"/>
<line x1="979.4" y1="793.8" x2="982.0" y2="784.6" stroke="#2f3a1a" stroke-width="11" stroke-linecap="round"/>
<line x1="979.4" y1="793.8" x2="982.0" y2="784.6" stroke="#a7c268" stroke-width="9.4" stroke-linecap="round"/>
<line x1="1040.5" y1="812.3" x2="1043.1" y2="803.0" stroke="#2f3a1a" stroke-width="11" stroke-linecap="round"/>
<line x1="1040.5" y1="812.3" x2="1043.1" y2="803.0" stroke="#a7c268" stroke-width="9.4" stroke-linecap="round"/>
<line x1="435.7" y1="840.4" x2="433.1" y2="849.6" stroke="#2f3a1a" stroke-width="11" stroke-linecap="round"/>
<line x1="435.7" y1="840.4" x2="433.1" y2="849.6" stroke="#a7c268" stroke-width="9.4" stroke-linecap="round"/>
<line x1="496.8" y1="858.8" x2="494.2" y2="868.0" stroke="#2f3a1a" stroke-width="11" stroke-linecap="round"/>
<line x1="496.8" y1="858.8" x2="494.2" y2="868.0" stroke="#a7c268" stroke-width="9.4" stroke-linecap="round"/>
<line x1="557.9" y1="877.2" x2="555.3" y2="886.5" stroke="#2f3a1a" stroke-width="11" stroke-linecap="round"/>
<line x1="557.9" y1="877.2" x2="555.3" y2="886.5" stroke="#a7c268" stroke-width="9.4" stroke-linecap="round"/>
<line x1="619.0" y1="895.6" x2="616.4" y2="904.9" stroke="#2f3a1a" stroke-width="11" stroke-linecap="round"/>
<line x1="619.0" y1="895.6" x2="616.4" y2="904.9" stroke="#a7c268" stroke-width="9.4" stroke-linecap="round"/>
<line x1="680.1" y1="914.1" x2="677.5" y2="923.3" stroke="#2f3a1a" stroke-width="11" stroke-linecap="round"/>
<line x1="680.1" y1="914.1" x2="677.5" y2="923.3" stroke="#a7c268" stroke-width="9.4" stroke-linecap="round"/>
<line x1="741.2" y1="932.5" x2="738.6" y2="941.7" stroke="#2f3a1a" stroke-width="11" stroke-linecap="round"/>
<line x1="741.2" y1="932.5" x2="738.6" y2="941.7" stroke="#a7c268" stroke-width="9.4" stroke-linecap="round"/>
<line x1="802.3" y1="950.9" x2="799.7" y2="960.1" stroke="#2f3a1a" stroke-width="11" stroke-linecap="round"/>
<line x1="802.3" y1="950.9" x2="799.7" y2="960.1" stroke="#a7c268" stroke-width="9.4" stroke-linecap="round"/>
<line x1="863.4" y1="969.3" x2="860.8" y2="978.6" stroke="#2f3a1a" stroke-width="11" stroke-linecap="round"/>
<line x1="863.4" y1="969.3" x2="860.8" y2="978.6" stroke="#a7c268" stroke-width="9.4" stroke-linecap="round"/>
<line x1="924.5" y1="987.7" x2="921.9" y2="997.0" stroke="#2f3a1a" stroke-width="11" stroke-linecap="round"/>
<line x1="924.5" y1="987.7" x2="921.9" y2="997.0" stroke="#a7c268" stroke-width="9.4" stroke-linecap="round"/>
<line x1="985.6" y1="1006.2" x2="983.0" y2="1015.4" stroke="#2f3a1a" stroke-width="11" stroke-linecap="round"/>
<line x1="985.6" y1="1006.2" x2="983.0" y2="1015.4" stroke="#a7c268" stroke-width="9.4" stroke-linecap="round"/>
<line x1="518.3" y1="955.6" x2="520.9" y2="946.3" stroke="#2f3a1a" stroke-width="11" stroke-linecap="round"/>
<line x1="518.3" y1="955.6" x2="520.9" y2="946.3" stroke="#a7c268" stroke-width="9.4" stroke-linecap="round"/>
<line x1="579.4" y1="974.0" x2="582.0" y2="964.8" stroke="#2f3a1a" stroke-width="11" stroke-linecap="round"/>
<line x1="579.4" y1="974.0" x2="582.0" y2="964.8" stroke="#a7c268" stroke-width="9.4" stroke-linecap="round"/>
<line x1="640.5" y1="992.4" x2="643.1" y2="983.2" stroke="#2f3a1a" stroke-width="11" stroke-linecap="round"/>
<line x1="640.5" y1="992.4" x2="643.1" y2="983.2" stroke="#a7c268" stroke-width="9.4" stroke-linecap="round"/>
<line x1="701.6" y1="1010.8" x2="704.2" y2="1001.6" stroke="#2f3a1a" stroke-width="11" stroke-linecap="round"/>
<line x1="701.6" y1="1010.8" x2="704.2" y2="1001.6" stroke="#a7c268" stroke-width="9.4" stroke-linecap="round"/>
<line x1="762.7" y1="1029.2" x2="765.3" y2="1020.0" stroke="#2f3a1a" stroke-width="11" stroke-linecap="round"/>
<line x1="762.7" y1="1029.2" x2="765.3" y2="1020.0" stroke="#a7c268" stroke-width="9.4" stroke-linecap="round"/>
<line x1="823.8" y1="1047.7" x2="826.4" y2="1038.4" stroke="#2f3a1a" stroke-width="11" stroke-linecap="round"/>
<line x1="823.8" y1="1047.7" x2="826.4" y2="1038.4" stroke="#a7c268" stroke-width="9.4" stroke-linecap="round"/>
<line x1="884.9" y1="1066.1" x2="887.5" y2="1056.9" stroke="#2f3a1a" stroke-width="11" stroke-linecap="round"/>
<line x1="884.9" y1="1066.1" x2="887.5" y2="1056.9" stroke="#a7c268" stroke-width="9.4" stroke-linecap="round"/>
<line x1="946.0" y1="1084.5" x2="948.6" y2="1075.3" stroke="#2f3a1a" stroke-width="11" stroke-linecap="round"/>
<line x1="946.0" y1="1084.5" x2="948.6" y2="1075.3" stroke="#a7c268" stroke-width="9.4" stroke-linecap="round"/>
<line x1="463.5" y1="1149.5" x2="460.9" y2="1158.7" stroke="#2f3a1a" stroke-width="11" stroke-linecap="round"/>
<line x1="463.5" y1="1149.5" x2="460.9" y2="1158.7" stroke="#a7c268" stroke-width="9.4" stroke-linecap="round"/>
<line x1="524.6" y1="1167.9" x2="522.0" y2="1177.1" stroke="#2f3a1a" stroke-width="11" stroke-linecap="round"/>
<line x1="524.6" y1="1167.9" x2="522.0" y2="1177.1" stroke="#a7c268" stroke-width="9.4" stroke-linecap="round"/>
<line x1="585.7" y1="1186.3" x2="583.1" y2="1195.5" stroke="#2f3a1a" stroke-width="11" stroke-linecap="round"/>
<line x1="585.7" y1="1186.3" x2="583.1" y2="1195.5" stroke="#a7c268" stroke-width="9.4" stroke-linecap="round"/>
<line x1="646.8" y1="1204.7" x2="644.2" y2="1214.0" stroke="#2f3a1a" stroke-width="11" stroke-linecap="round"/>
<line x1="646.8" y1="1204.7" x2="644.2" y2="1214.0" stroke="#a7c268" stroke-width="9.4" stroke-linecap="round"/>
<line x1="707.9" y1="1223.2" x2="705.3" y2="1232.4" stroke="#2f3a1a" stroke-width="11" stroke-linecap="round"/>
<line x1="707.9" y1="1223.2" x2="705.3" y2="1232.4" stroke="#a7c268" stroke-width="9.4" stroke-linecap="round"/>
<line x1="769.0" y1="1241.6" x2="766.4" y2="1250.8" stroke="#2f3a1a" stroke-width="11" stroke-linecap="round"/>
<line x1="769.0" y1="1241.6" x2="766.4" y2="1250.8" stroke="#a7c268" stroke-width="9.4" stroke-linecap="round"/>
<line x1="830.1" y1="1260.0" x2="827.5" y2="1269.2" stroke="#2f3a1a" stroke-width="11" stroke-linecap="round"/>
<line x1="830.1" y1="1260.0" x2="827.5" y2="1269.2" stroke="#a7c268" stroke-width="9.4" stroke-linecap="round"/>
<line x1="891.2" y1="1278.4" x2="888.6" y2="1287.6" stroke="#2f3a1a" stroke-width="11" stroke-linecap="round"/>
<line x1="891.2" y1="1278.4" x2="888.6" y2="1287.6" stroke="#a7c268" stroke-width="9.4" stroke-linecap="round"/>
<line x1="506.7" y1="1252.3" x2="509.3" y2="1243.0" stroke="#2f3a1a" stroke-width="11" stroke-linecap="round"/>
<line x1="506.7" y1="1252.3" x2="509.3" y2="1243.0" stroke="#a7c268" stroke-width="9.4" stroke-linecap="round"/>
<line x1="567.8" y1="1270.7" x2="570.4" y2="1261.5" stroke="#2f3a1a" stroke-width="11" stroke-linecap="round"/>
<line x1="567.8" y1="1270.7" x2="570.4" y2="1261.5" stroke="#a7c268" stroke-width="9.4" stroke-linecap="round"/>
<line x1="628.9" y1="1289.1" x2="631.5" y2="1279.9" stroke="#2f3a1a" stroke-width="11" stroke-linecap="round"/>
<line x1="628.9" y1="1289.1" x2="631.5" y2="1279.9" stroke="#a7c268" stroke-width="9.4" stroke-linecap="round"/>
<line x1="690.0" y1="1307.5" x2="692.6" y2="1298.3" stroke="#2f3a1a" stroke-width="11" stroke-linecap="round"/>
<line x1="690.0" y1="1307.5" x2="692.6" y2="1298.3" stroke="#a7c268" stroke-width="9.4" stroke-linecap="round"/>
<line x1="751.1" y1="1325.9" x2="753.7" y2="1316.7" stroke="#2f3a1a" stroke-width="11" stroke-linecap="round"/>
<line x1="751.1" y1="1325.9" x2="753.7" y2="1316.7" stroke="#a7c268" stroke-width="9.4" stroke-linecap="round"/>
<line x1="812.2" y1="1344.4" x2="814.8" y2="1335.1" stroke="#2f3a1a" stroke-width="11" stroke-linecap="round"/>
<line x1="812.2" y1="1344.4" x2="814.8" y2="1335.1" stroke="#a7c268" stroke-width="9.4" stroke-linecap="round"/>
<line x1="873.3" y1="1362.8" x2="875.9" y2="1353.6" stroke="#2f3a1a" stroke-width="11" stroke-linecap="round"/>
<line x1="873.3" y1="1362.8" x2="875.9" y2="1353.6" stroke="#a7c268" stroke-width="9.4" stroke-linecap="round"/>
<line x1="446.2" y1="1466.3" x2="443.6" y2="1475.6" stroke="#2f3a1a" stroke-width="11" stroke-linecap="round"/>
<line x1="446.2" y1="1466.3" x2="443.6" y2="1475.6" stroke="#a7c268" stroke-width="9.4" stroke-linecap="round"/>
<line x1="507.3" y1="1484.8" x2="504.7" y2="1494.0" stroke="#2f3a1a" stroke-width="11" stroke-linecap="round"/>
<line x1="507.3" y1="1484.8" x2="504.7" y2="1494.0" stroke="#a7c268" stroke-width="9.4" stroke-linecap="round"/>
<line x1="568.4" y1="1503.2" x2="565.8" y2="1512.4" stroke="#2f3a1a" stroke-width="11" stroke-linecap="round"/>
<line x1="568.4" y1="1503.2" x2="565.8" y2="1512.4" stroke="#a7c268" stroke-width="9.4" stroke-linecap="round"/>
<line x1="629.5" y1="1521.6" x2="626.9" y2="1530.8" stroke="#2f3a1a" stroke-width="11" stroke-linecap="round"/>
<line x1="629.5" y1="1521.6" x2="626.9" y2="1530.8" stroke="#a7c268" stroke-width="9.4" stroke-linecap="round"/>
<line x1="690.6" y1="1540.0" x2="688.0" y2="1549.2" stroke="#2f3a1a" stroke-width="11" stroke-linecap="round"/>
<line x1="690.6" y1="1540.0" x2="688.0" y2="1549.2" stroke="#a7c268" stroke-width="9.4" stroke-linecap="round"/>
<line x1="751.7" y1="1558.4" x2="749.1" y2="1567.7" stroke="#2f3a1a" stroke-width="11" stroke-linecap="round"/>
<line x1="751.7" y1="1558.4" x2="749.1" y2="1567.7" stroke="#a7c268" stroke-width="9.4" stroke-linecap="round"/>
<line x1="812.8" y1="1576.9" x2="810.2" y2="1586.1" stroke="#2f3a1a" stroke-width="11" stroke-linecap="round"/>
<line x1="812.8" y1="1576.9" x2="810.2" y2="1586.1" stroke="#a7c268" stroke-width="9.4" stroke-linecap="round"/>
<line x1="471.2" y1="1563.1" x2="473.8" y2="1553.8" stroke="#2f3a1a" stroke-width="11" stroke-linecap="round"/>
<line x1="471.2" y1="1563.1" x2="473.8" y2="1553.8" stroke="#a7c268" stroke-width="9.4" stroke-linecap="round"/>
<line x1="532.3" y1="1581.5" x2="534.9" y2="1572.2" stroke="#2f3a1a" stroke-width="11" stroke-linecap="round"/>
<line x1="532.3" y1="1581.5" x2="534.9" y2="1572.2" stroke="#a7c268" stroke-width="9.4" stroke-linecap="round"/>
<line x1="593.4" y1="1599.9" x2="596.0" y2="1590.7" stroke="#2f3a1a" stroke-width="11" stroke-linecap="round"/>
<line x1="593.4" y1="1599.9" x2="596.0" y2="1590.7" stroke="#a7c268" stroke-width="9.4" stroke-linecap="round"/>
<line x1="654.5" y1="1618.3" x2="657.1" y2="1609.1" stroke="#2f3a1a" stroke-width="11" stroke-linecap="round"/>
<line x1="654.5" y1="1618.3" x2="657.1" y2="1609.1" stroke="#a7c268" stroke-width="9.4" stroke-linecap="round"/>
<line x1="715.6" y1="1636.7" x2="718.2" y2="1627.5" stroke="#2f3a1a" stroke-width="11" stroke-linecap="round"/>
<line x1="715.6" y1="1636.7" x2="718.2" y2="1627.5" stroke="#a7c268" stroke-width="9.4" stroke-linecap="round"/>
<line x1="776.7" y1="1655.2" x2="779.3" y2="1645.9" stroke="#2f3a1a" stroke-width="11" stroke-linecap="round"/>
<line x1="776.7" y1="1655.2" x2="779.3" y2="1645.9" stroke="#a7c268" stroke-width="9.4" stroke-linecap="round"/>
<line x1="435.5" y1="1806.5" x2="432.9" y2="1815.7" stroke="#2f3a1a" stroke-width="11" stroke-linecap="round"/>
<line x1="435.5" y1="1806.5" x2="432.9" y2="1815.7" stroke="#a7c268" stroke-width="9.4" stroke-linecap="round"/>
<line x1="496.6" y1="1824.9" x2="494.0" y2="1834.1" stroke="#2f3a1a" stroke-width="11" stroke-linecap="round"/>
<line x1="496.6" y1="1824.9" x2="494.0" y2="1834.1" stroke="#a7c268" stroke-width="9.4" stroke-linecap="round"/>
<line x1="557.7" y1="1843.3" x2="555.1" y2="1852.6" stroke="#2f3a1a" stroke-width="11" stroke-linecap="round"/>
<line x1="557.7" y1="1843.3" x2="555.1" y2="1852.6" stroke="#a7c268" stroke-width="9.4" stroke-linecap="round"/>
<line x1="618.8" y1="1861.8" x2="616.2" y2="1871.0" stroke="#2f3a1a" stroke-width="11" stroke-linecap="round"/>
<line x1="618.8" y1="1861.8" x2="616.2" y2="1871.0" stroke="#a7c268" stroke-width="9.4" stroke-linecap="round"/>
<line x1="679.9" y1="1880.2" x2="677.3" y2="1889.4" stroke="#2f3a1a" stroke-width="11" stroke-linecap="round"/>
<line x1="679.9" y1="1880.2" x2="677.3" y2="1889.4" stroke="#a7c268" stroke-width="9.4" stroke-linecap="round"/>
<polygon points="507.8,159.2 1088.2,334.2 1059.8,435.0 479.3,260.0" fill="#fffbd0" filter="url(#blur2)" opacity="0.9" stroke="#fffbd0" stroke-width="4"/>
<polygon points="507.8,159.2 1088.2,334.2 1059.8,435.0 479.3,260.0" fill="#f3f0a2" stroke="#2f3a1a" stroke-width="0.9"/>
<line x1="538.4" y1="168.4" x2="509.9" y2="269.2" stroke="#2f3a1a" stroke-width="1"/>
<line x1="568.9" y1="177.6" x2="540.4" y2="278.4" stroke="#2f3a1a" stroke-width="1"/>
<line x1="599.5" y1="186.8" x2="571.0" y2="287.6" stroke="#2f3a1a" stroke-width="1"/>
<line x1="630.0" y1="196.0" x2="601.5" y2="296.8" stroke="#2f3a1a" stroke-width="1"/>
<line x1="660.5" y1="205.2" x2="632.0" y2="306.1" stroke="#2f3a1a" stroke-width="1"/>
<line x1="691.1" y1="214.5" x2="662.6" y2="315.3" stroke="#2f3a1a" stroke-width="1"/>
<line x1="721.6" y1="223.7" x2="693.1" y2="324.5" stroke="#2f3a1a" stroke-width="1"/>
<line x1="752.2" y1="232.9" x2="723.7" y2="333.7" stroke="#2f3a1a" stroke-width="1"/>
<line x1="782.8" y1="242.1" x2="754.2" y2="342.9" stroke="#2f3a1a" stroke-width="1"/>
<line x1="813.3" y1="251.3" x2="784.8" y2="352.1" stroke="#2f3a1a" stroke-width="1"/>
<line x1="843.9" y1="260.5" x2="815.4" y2="361.3" stroke="#2f3a1a" stroke-width="1"/>
<line x1="874.4" y1="269.7" x2="845.9" y2="370.5" stroke="#2f3a1a" stroke-width="1"/>
<line x1="905.0" y1="278.9" x2="876.5" y2="379.7" stroke="#2f3a1a" stroke-width="1"/>
<line x1="935.5" y1="288.1" x2="907.0" y2="388.9" stroke="#2f3a1a" stroke-width="1"/>
<line x1="966.0" y1="297.4" x2="937.5" y2="398.1" stroke="#2f3a1a" stroke-width="1"/>
<line x1="996.6" y1="306.6" x2="968.1" y2="407.4" stroke="#2f3a1a" stroke-width="1"/>
<line x1="1027.2" y1="315.8" x2="998.7" y2="416.6" stroke="#2f3a1a" stroke-width="1"/>
<line x1="1057.7" y1="325.0" x2="1029.2" y2="425.8" stroke="#2f3a1a" stroke-width="1"/>
<line x1="487.9" y1="229.7" x2="1068.3" y2="404.7" stroke="#2f3a1a" stroke-width="0.9" stroke-dasharray="12.5 7" stroke-dashoffset="-3"/>
<text transform="translate(498.9,249.4) rotate(16.6)" text-anchor="middle" y="5.2" class="ln">22</text>
<text transform="translate(529.4,258.7) rotate(16.6)" text-anchor="middle" y="5.2" class="ln">21</text>
<text transform="translate(560.0,267.9) rotate(16.6)" text-anchor="middle" y="5.2" class="ln">20</text>
<text transform="translate(590.5,277.1) rotate(16.6)" text-anchor="middle" y="5.2" class="ln">19</text>
<text transform="translate(621.1,286.3) rotate(16.6)" text-anchor="middle" y="5.2" class="ln">18</text>
<text transform="translate(651.6,295.5) rotate(16.6)" text-anchor="middle" y="5.2" class="ln">17</text>
<text transform="translate(682.2,304.7) rotate(16.6)" text-anchor="middle" y="5.2" class="ln">16</text>
<text transform="translate(712.7,313.9) rotate(16.6)" text-anchor="middle" y="5.2" class="ln">15</text>
<text transform="translate(743.3,323.1) rotate(16.6)" text-anchor="middle" y="5.2" class="ln">12</text>
<text transform="translate(773.8,332.3) rotate(16.6)" text-anchor="middle" y="5.2" class="ln">11</text>
<text transform="translate(804.4,341.5) rotate(16.6)" text-anchor="middle" y="5.2" class="ln">10</text>
<text transform="translate(834.9,350.8) rotate(16.6)" text-anchor="middle" y="5.2" class="ln">9</text>
<text transform="translate(865.5,360.0) rotate(16.6)" text-anchor="middle" y="5.2" class="ln">8</text>
<text transform="translate(896.0,369.2) rotate(16.6)" text-anchor="middle" y="5.2" class="ln">7</text>
<text transform="translate(926.6,378.4) rotate(16.6)" text-anchor="middle" y="5.2" class="ln">6</text>
<text transform="translate(957.1,387.6) rotate(16.6)" text-anchor="middle" y="5.2" class="ln">5</text>
<text transform="translate(987.7,396.8) rotate(16.6)" text-anchor="middle" y="5.2" class="ln">3</text>
<text transform="translate(1018.2,406.0) rotate(16.6)" text-anchor="middle" y="5.2" class="ln">2</text>
<text transform="translate(1048.8,415.2) rotate(16.6)" text-anchor="middle" y="5.2" class="ln">1</text>
<polygon points="481.5,338.5 1123.1,531.9 1094.6,632.7 1066.1,733.5 455.0,549.3 483.5,448.5 453.0,439.3" fill="#fffbd0" filter="url(#blur2)" opacity="0.9" stroke="#fffbd0" stroke-width="4"/>
<polygon points="481.5,338.5 1123.1,531.9 1094.6,632.7 1066.1,733.5 455.0,549.3 483.5,448.5 453.0,439.3" fill="#f3f0a2" stroke="#2f3a1a" stroke-width="0.9"/>
<line x1="512.0" y1="347.7" x2="483.6" y2="448.5" stroke="#2f3a1a" stroke-width="1"/>
<line x1="542.6" y1="356.9" x2="514.1" y2="457.7" stroke="#2f3a1a" stroke-width="1"/>
<line x1="573.1" y1="366.1" x2="544.6" y2="466.9" stroke="#2f3a1a" stroke-width="1"/>
<line x1="603.7" y1="375.3" x2="575.2" y2="476.1" stroke="#2f3a1a" stroke-width="1"/>
<line x1="634.2" y1="384.6" x2="605.8" y2="485.4" stroke="#2f3a1a" stroke-width="1"/>
<line x1="664.8" y1="393.8" x2="636.3" y2="494.6" stroke="#2f3a1a" stroke-width="1"/>
<line x1="695.4" y1="403.0" x2="666.9" y2="503.8" stroke="#2f3a1a" stroke-width="1"/>
<line x1="725.9" y1="412.2" x2="697.4" y2="513.0" stroke="#2f3a1a" stroke-width="1"/>
<line x1="756.5" y1="421.4" x2="728.0" y2="522.2" stroke="#2f3a1a" stroke-width="1"/>
<line x1="787.0" y1="430.6" x2="758.5" y2="531.4" stroke="#2f3a1a" stroke-width="1"/>
<line x1="817.5" y1="439.8" x2="789.0" y2="540.6" stroke="#2f3a1a" stroke-width="1"/>
<line x1="848.1" y1="449.0" x2="819.6" y2="549.8" stroke="#2f3a1a" stroke-width="1"/>
<line x1="878.7" y1="458.2" x2="850.2" y2="559.0" stroke="#2f3a1a" stroke-width="1"/>
<line x1="909.2" y1="467.4" x2="880.7" y2="568.2" stroke="#2f3a1a" stroke-width="1"/>
<line x1="939.8" y1="476.6" x2="911.2" y2="577.5" stroke="#2f3a1a" stroke-width="1"/>
<line x1="970.3" y1="485.9" x2="941.8" y2="586.7" stroke="#2f3a1a" stroke-width="1"/>
<line x1="1000.9" y1="495.1" x2="972.4" y2="595.9" stroke="#2f3a1a" stroke-width="1"/>
<line x1="1031.4" y1="504.3" x2="1002.9" y2="605.1" stroke="#2f3a1a" stroke-width="1"/>
<line x1="1062.0" y1="513.5" x2="1033.5" y2="614.3" stroke="#2f3a1a" stroke-width="1"/>
<line x1="1092.5" y1="522.7" x2="1064.0" y2="623.5" stroke="#2f3a1a" stroke-width="1"/>
<line x1="472.9" y1="368.8" x2="1114.5" y2="562.2" stroke="#2f3a1a" stroke-width="0.9" stroke-dasharray="12.5 7" stroke-dashoffset="-3"/>
<text transform="translate(492.5,358.3) rotate(16.6)" text-anchor="middle" y="5.2" class="ln">25</text>
<text transform="translate(523.0,367.5) rotate(16.6)" text-anchor="middle" y="5.2" class="ln">23</text>
<text transform="translate(553.6,376.7) rotate(16.6)" text-anchor="middle" y="5.2" class="ln">22</text>
<text transform="translate(584.1,385.9) rotate(16.6)" text-anchor="middle" y="5.2" class="ln">21</text>
<text transform="translate(614.7,395.1) rotate(16.6)" text-anchor="middle" y="5.2" class="ln">20</text>
<text transform="translate(645.2,404.3) rotate(16.6)" text-anchor="middle" y="5.2" class="ln">19</text>
<text transform="translate(675.8,413.5) rotate(16.6)" text-anchor="middle" y="5.2" class="ln">18</text>
<text transform="translate(706.3,422.7) rotate(16.6)" text-anchor="middle" y="5.2" class="ln">17</text>
<text transform="translate(736.9,431.9) rotate(16.6)" text-anchor="middle" y="5.2" class="ln">16</text>
<text transform="translate(767.4,441.2) rotate(16.6)" text-anchor="middle" y="5.2" class="ln">15</text>
<text transform="translate(798.0,450.4) rotate(16.6)" text-anchor="middle" y="5.2" class="ln">12</text>
<text transform="translate(828.5,459.6) rotate(16.6)" text-anchor="middle" y="5.2" class="ln">11</text>
<text transform="translate(859.1,468.8) rotate(16.6)" text-anchor="middle" y="5.2" class="ln">10</text>
<text transform="translate(889.6,478.0) rotate(16.6)" text-anchor="middle" y="5.2" class="ln">9</text>
<text transform="translate(920.2,487.2) rotate(16.6)" text-anchor="middle" y="5.2" class="ln">8</text>
<text transform="translate(950.7,496.4) rotate(16.6)" text-anchor="middle" y="5.2" class="ln">7</text>
<text transform="translate(981.3,505.6) rotate(16.6)" text-anchor="middle" y="5.2" class="ln">6</text>
<text transform="translate(1011.8,514.8) rotate(16.6)" text-anchor="middle" y="5.2" class="ln">5</text>
<text transform="translate(1042.4,524.0) rotate(16.6)" text-anchor="middle" y="5.2" class="ln">3</text>
<text transform="translate(1072.9,533.3) rotate(16.6)" text-anchor="middle" y="5.2" class="ln">2</text>
<text transform="translate(1103.5,542.5) rotate(16.6)" text-anchor="middle" y="5.2" class="ln">1</text>
<line x1="514.1" y1="457.7" x2="485.6" y2="558.5" stroke="#2f3a1a" stroke-width="1"/>
<line x1="544.6" y1="466.9" x2="516.1" y2="567.7" stroke="#2f3a1a" stroke-width="1"/>
<line x1="575.2" y1="476.1" x2="546.7" y2="576.9" stroke="#2f3a1a" stroke-width="1"/>
<line x1="605.8" y1="485.4" x2="577.2" y2="586.1" stroke="#2f3a1a" stroke-width="1"/>
<line x1="636.3" y1="494.6" x2="607.8" y2="595.4" stroke="#2f3a1a" stroke-width="1"/>
<line x1="666.8" y1="503.8" x2="638.3" y2="604.6" stroke="#2f3a1a" stroke-width="1"/>
<line x1="697.4" y1="513.0" x2="668.9" y2="613.8" stroke="#2f3a1a" stroke-width="1"/>
<line x1="727.9" y1="522.2" x2="699.4" y2="623.0" stroke="#2f3a1a" stroke-width="1"/>
<line x1="758.5" y1="531.4" x2="730.0" y2="632.2" stroke="#2f3a1a" stroke-width="1"/>
<line x1="789.0" y1="540.6" x2="760.5" y2="641.4" stroke="#2f3a1a" stroke-width="1"/>
<line x1="819.6" y1="549.8" x2="791.1" y2="650.6" stroke="#2f3a1a" stroke-width="1"/>
<line x1="850.1" y1="559.0" x2="821.6" y2="659.8" stroke="#2f3a1a" stroke-width="1"/>
<line x1="880.7" y1="568.2" x2="852.2" y2="669.0" stroke="#2f3a1a" stroke-width="1"/>
<line x1="911.2" y1="577.5" x2="882.8" y2="678.2" stroke="#2f3a1a" stroke-width="1"/>
<line x1="941.8" y1="586.7" x2="913.3" y2="687.5" stroke="#2f3a1a" stroke-width="1"/>
<line x1="972.3" y1="595.9" x2="943.8" y2="696.7" stroke="#2f3a1a" stroke-width="1"/>
<line x1="1002.9" y1="605.1" x2="974.4" y2="705.9" stroke="#2f3a1a" stroke-width="1"/>
<line x1="1033.4" y1="614.3" x2="1004.9" y2="715.1" stroke="#2f3a1a" stroke-width="1"/>
<line x1="1064.0" y1="623.5" x2="1035.5" y2="724.3" stroke="#2f3a1a" stroke-width="1"/>
<line x1="483.5" y1="448.5" x2="1094.6" y2="632.7" stroke="#2f3a1a" stroke-width="0.9"/>
<line x1="463.6" y1="519.0" x2="1074.6" y2="703.2" stroke="#2f3a1a" stroke-width="0.9" stroke-dasharray="12.5 7" stroke-dashoffset="-3"/>
<text transform="translate(474.6,538.8) rotate(16.6)" text-anchor="middle" y="5.2" class="ln">23</text>
<text transform="translate(505.2,548.0) rotate(16.6)" text-anchor="middle" y="5.2" class="ln">22</text>
<text transform="translate(535.7,557.2) rotate(16.6)" text-anchor="middle" y="5.2" class="ln">21</text>
<text transform="translate(566.3,566.4) rotate(16.6)" text-anchor="middle" y="5.2" class="ln">20</text>
<text transform="translate(596.8,575.6) rotate(16.6)" text-anchor="middle" y="5.2" class="ln">19</text>
<text transform="translate(627.4,584.8) rotate(16.6)" text-anchor="middle" y="5.2" class="ln">18</text>
<text transform="translate(657.9,594.0) rotate(16.6)" text-anchor="middle" y="5.2" class="ln">17</text>
<text transform="translate(688.5,603.2) rotate(16.6)" text-anchor="middle" y="5.2" class="ln">16</text>
<text transform="translate(719.0,612.4) rotate(16.6)" text-anchor="middle" y="5.2" class="ln">15</text>
<text transform="translate(749.6,621.6) rotate(16.6)" text-anchor="middle" y="5.2" class="ln">12</text>
<text transform="translate(780.1,630.9) rotate(16.6)" text-anchor="middle" y="5.2" class="ln">11</text>
<text transform="translate(810.7,640.1) rotate(16.6)" text-anchor="middle" y="5.2" class="ln">10</text>
<text transform="translate(841.2,649.3) rotate(16.6)" text-anchor="middle" y="5.2" class="ln">9</text>
<text transform="translate(871.8,658.5) rotate(16.6)" text-anchor="middle" y="5.2" class="ln">8</text>
<text transform="translate(902.3,667.7) rotate(16.6)" text-anchor="middle" y="5.2" class="ln">7</text>
<text transform="translate(932.9,676.9) rotate(16.6)" text-anchor="middle" y="5.2" class="ln">6</text>
<text transform="translate(963.4,686.1) rotate(16.6)" text-anchor="middle" y="5.2" class="ln">5</text>
<text transform="translate(994.0,695.3) rotate(16.6)" text-anchor="middle" y="5.2" class="ln">3</text>
<text transform="translate(1024.5,704.5) rotate(16.6)" text-anchor="middle" y="5.2" class="ln">2</text>
<text transform="translate(1055.1,713.7) rotate(16.6)" text-anchor="middle" y="5.2" class="ln">1</text>
<polygon points="400.0,615.0 1041.6,808.4 1013.1,909.2 984.6,1010.0 373.6,825.8 402.1,725.0 371.5,715.8" fill="#fffbd0" filter="url(#blur2)" opacity="0.9" stroke="#fffbd0" stroke-width="4"/>
<polygon points="400.0,615.0 1041.6,808.4 1013.1,909.2 984.6,1010.0 373.6,825.8 402.1,725.0 371.5,715.8" fill="#f3f0a2" stroke="#2f3a1a" stroke-width="0.9"/>
<line x1="430.6" y1="624.2" x2="402.1" y2="725.0" stroke="#2f3a1a" stroke-width="1"/>
<line x1="461.1" y1="633.4" x2="432.6" y2="734.2" stroke="#2f3a1a" stroke-width="1"/>
<line x1="491.6" y1="642.6" x2="463.1" y2="743.4" stroke="#2f3a1a" stroke-width="1"/>
<line x1="522.2" y1="651.8" x2="493.7" y2="752.6" stroke="#2f3a1a" stroke-width="1"/>
<line x1="552.8" y1="661.0" x2="524.2" y2="761.8" stroke="#2f3a1a" stroke-width="1"/>
<line x1="583.3" y1="670.3" x2="554.8" y2="771.1" stroke="#2f3a1a" stroke-width="1"/>
<line x1="613.9" y1="679.5" x2="585.4" y2="780.3" stroke="#2f3a1a" stroke-width="1"/>
<line x1="644.4" y1="688.7" x2="615.9" y2="789.5" stroke="#2f3a1a" stroke-width="1"/>
<line x1="675.0" y1="697.9" x2="646.5" y2="798.7" stroke="#2f3a1a" stroke-width="1"/>
<line x1="705.5" y1="707.1" x2="677.0" y2="807.9" stroke="#2f3a1a" stroke-width="1"/>
<line x1="736.0" y1="716.3" x2="707.5" y2="817.1" stroke="#2f3a1a" stroke-width="1"/>
<line x1="766.6" y1="725.5" x2="738.1" y2="826.3" stroke="#2f3a1a" stroke-width="1"/>
<line x1="797.2" y1="734.7" x2="768.7" y2="835.5" stroke="#2f3a1a" stroke-width="1"/>
<line x1="827.7" y1="743.9" x2="799.2" y2="844.7" stroke="#2f3a1a" stroke-width="1"/>
<line x1="858.2" y1="753.1" x2="829.8" y2="853.9" stroke="#2f3a1a" stroke-width="1"/>
<line x1="888.8" y1="762.4" x2="860.3" y2="863.2" stroke="#2f3a1a" stroke-width="1"/>
<line x1="919.4" y1="771.6" x2="890.9" y2="872.4" stroke="#2f3a1a" stroke-width="1"/>
<line x1="949.9" y1="780.8" x2="921.4" y2="881.6" stroke="#2f3a1a" stroke-width="1"/>
<line x1="980.5" y1="790.0" x2="952.0" y2="890.8" stroke="#2f3a1a" stroke-width="1"/>
<line x1="1011.0" y1="799.2" x2="982.5" y2="900.0" stroke="#2f3a1a" stroke-width="1"/>
<line x1="391.4" y1="645.3" x2="1033.0" y2="838.7" stroke="#2f3a1a" stroke-width="0.9" stroke-dasharray="12.5 7" stroke-dashoffset="-3"/>
<text transform="translate(411.0,634.8) rotate(16.6)" text-anchor="middle" y="5.2" class="ln">25</text>
<text transform="translate(441.5,644.0) rotate(16.6)" text-anchor="middle" y="5.2" class="ln">23</text>
<text transform="translate(472.1,653.2) rotate(16.6)" text-anchor="middle" y="5.2" class="ln">22</text>
<text transform="translate(502.6,662.4) rotate(16.6)" text-anchor="middle" y="5.2" class="ln">21</text>
<text transform="translate(533.2,671.6) rotate(16.6)" text-anchor="middle" y="5.2" class="ln">20</text>
<text transform="translate(563.7,680.8) rotate(16.6)" text-anchor="middle" y="5.2" class="ln">19</text>
<text transform="translate(594.3,690.0) rotate(16.6)" text-anchor="middle" y="5.2" class="ln">18</text>
<text transform="translate(624.8,699.2) rotate(16.6)" text-anchor="middle" y="5.2" class="ln">17</text>
<text transform="translate(655.4,708.4) rotate(16.6)" text-anchor="middle" y="5.2" class="ln">16</text>
<text transform="translate(685.9,717.7) rotate(16.6)" text-anchor="middle" y="5.2" class="ln">15</text>
<text transform="translate(716.5,726.9) rotate(16.6)" text-anchor="middle" y="5.2" class="ln">12</text>
<text transform="translate(747.0,736.1) rotate(16.6)" text-anchor="middle" y="5.2" class="ln">11</text>
<text transform="translate(777.6,745.3) rotate(16.6)" text-anchor="middle" y="5.2" class="ln">10</text>
<text transform="translate(808.1,754.5) rotate(16.6)" text-anchor="middle" y="5.2" class="ln">9</text>
<text transform="translate(838.7,763.7) rotate(16.6)" text-anchor="middle" y="5.2" class="ln">8</text>
<text transform="translate(869.2,772.9) rotate(16.6)" text-anchor="middle" y="5.2" class="ln">7</text>
<text transform="translate(899.8,782.1) rotate(16.6)" text-anchor="middle" y="5.2" class="ln">6</text>
<text transform="translate(930.3,791.3) rotate(16.6)" text-anchor="middle" y="5.2" class="ln">5</text>
<text transform="translate(960.9,800.5) rotate(16.6)" text-anchor="middle" y="5.2" class="ln">3</text>
<text transform="translate(991.4,809.8) rotate(16.6)" text-anchor="middle" y="5.2" class="ln">2</text>
<text transform="translate(1022.0,819.0) rotate(16.6)" text-anchor="middle" y="5.2" class="ln">1</text>
<line x1="432.6" y1="734.2" x2="404.1" y2="835.0" stroke="#2f3a1a" stroke-width="1"/>
<line x1="463.2" y1="743.4" x2="434.7" y2="844.2" stroke="#2f3a1a" stroke-width="1"/>
<line x1="493.7" y1="752.6" x2="465.2" y2="853.4" stroke="#2f3a1a" stroke-width="1"/>
<line x1="524.2" y1="761.9" x2="495.8" y2="862.6" stroke="#2f3a1a" stroke-width="1"/>
<line x1="554.8" y1="771.1" x2="526.3" y2="871.9" stroke="#2f3a1a" stroke-width="1"/>
<line x1="585.4" y1="780.3" x2="556.9" y2="881.1" stroke="#2f3a1a" stroke-width="1"/>
<line x1="615.9" y1="789.5" x2="587.4" y2="890.3" stroke="#2f3a1a" stroke-width="1"/>
<line x1="646.5" y1="798.7" x2="618.0" y2="899.5" stroke="#2f3a1a" stroke-width="1"/>
<line x1="677.0" y1="807.9" x2="648.5" y2="908.7" stroke="#2f3a1a" stroke-width="1"/>
<line x1="707.5" y1="817.1" x2="679.0" y2="917.9" stroke="#2f3a1a" stroke-width="1"/>
<line x1="738.1" y1="826.3" x2="709.6" y2="927.1" stroke="#2f3a1a" stroke-width="1"/>
<line x1="768.7" y1="835.5" x2="740.2" y2="936.3" stroke="#2f3a1a" stroke-width="1"/>
<line x1="799.2" y1="844.7" x2="770.7" y2="945.5" stroke="#2f3a1a" stroke-width="1"/>
<line x1="829.8" y1="854.0" x2="801.2" y2="954.8" stroke="#2f3a1a" stroke-width="1"/>
<line x1="860.3" y1="863.2" x2="831.8" y2="964.0" stroke="#2f3a1a" stroke-width="1"/>
<line x1="890.9" y1="872.4" x2="862.4" y2="973.2" stroke="#2f3a1a" stroke-width="1"/>
<line x1="921.4" y1="881.6" x2="892.9" y2="982.4" stroke="#2f3a1a" stroke-width="1"/>
<line x1="952.0" y1="890.8" x2="923.5" y2="991.6" stroke="#2f3a1a" stroke-width="1"/>
<line x1="982.5" y1="900.0" x2="954.0" y2="1000.8" stroke="#2f3a1a" stroke-width="1"/>
<line x1="402.1" y1="725.0" x2="1013.1" y2="909.2" stroke="#2f3a1a" stroke-width="0.9"/>
<line x1="382.1" y1="795.5" x2="993.1" y2="979.7" stroke="#2f3a1a" stroke-width="0.9" stroke-dasharray="12.5 7" stroke-dashoffset="-3"/>
<text transform="translate(393.1,815.3) rotate(16.6)" text-anchor="middle" y="5.2" class="ln">23</text>
<text transform="translate(423.7,824.5) rotate(16.6)" text-anchor="middle" y="5.2" class="ln">22</text>
<text transform="translate(454.2,833.7) rotate(16.6)" text-anchor="middle" y="5.2" class="ln">21</text>
<text transform="translate(484.8,842.9) rotate(16.6)" text-anchor="middle" y="5.2" class="ln">20</text>
<text transform="translate(515.3,852.1) rotate(16.6)" text-anchor="middle" y="5.2" class="ln">19</text>
<text transform="translate(545.9,861.3) rotate(16.6)" text-anchor="middle" y="5.2" class="ln">18</text>
<text transform="translate(576.4,870.5) rotate(16.6)" text-anchor="middle" y="5.2" class="ln">17</text>
<text transform="translate(607.0,879.7) rotate(16.6)" text-anchor="middle" y="5.2" class="ln">16</text>
<text transform="translate(637.5,888.9) rotate(16.6)" text-anchor="middle" y="5.2" class="ln">15</text>
<text transform="translate(668.1,898.1) rotate(16.6)" text-anchor="middle" y="5.2" class="ln">12</text>
<text transform="translate(698.6,907.4) rotate(16.6)" text-anchor="middle" y="5.2" class="ln">11</text>
<text transform="translate(729.2,916.6) rotate(16.6)" text-anchor="middle" y="5.2" class="ln">10</text>
<text transform="translate(759.7,925.8) rotate(16.6)" text-anchor="middle" y="5.2" class="ln">9</text>
<text transform="translate(790.3,935.0) rotate(16.6)" text-anchor="middle" y="5.2" class="ln">8</text>
<text transform="translate(820.8,944.2) rotate(16.6)" text-anchor="middle" y="5.2" class="ln">7</text>
<text transform="translate(851.4,953.4) rotate(16.6)" text-anchor="middle" y="5.2" class="ln">6</text>
<text transform="translate(881.9,962.6) rotate(16.6)" text-anchor="middle" y="5.2" class="ln">5</text>
<text transform="translate(912.5,971.8) rotate(16.6)" text-anchor="middle" y="5.2" class="ln">3</text>
<text transform="translate(943.0,981.0) rotate(16.6)" text-anchor="middle" y="5.2" class="ln">2</text>
<text transform="translate(973.6,990.2) rotate(16.6)" text-anchor="middle" y="5.2" class="ln">1</text>
<polygon points="458.3,933.3 947.1,1080.7 918.6,1181.5 890.1,1282.3 431.9,1144.1 460.4,1043.3 429.8,1034.1" fill="#fffbd0" filter="url(#blur2)" opacity="0.9" stroke="#fffbd0" stroke-width="4"/>
<polygon points="458.3,933.3 947.1,1080.7 918.6,1181.5 890.1,1282.3 431.9,1144.1 460.4,1043.3 429.8,1034.1" fill="#f3f0a2" stroke="#2f3a1a" stroke-width="0.9"/>
<line x1="488.9" y1="942.5" x2="460.4" y2="1043.3" stroke="#2f3a1a" stroke-width="1"/>
<line x1="519.4" y1="951.7" x2="490.9" y2="1052.5" stroke="#2f3a1a" stroke-width="1"/>
<line x1="550.0" y1="960.9" x2="521.5" y2="1061.7" stroke="#2f3a1a" stroke-width="1"/>
<line x1="580.5" y1="970.1" x2="552.0" y2="1070.9" stroke="#2f3a1a" stroke-width="1"/>
<line x1="611.0" y1="979.3" x2="582.5" y2="1080.1" stroke="#2f3a1a" stroke-width="1"/>
<line x1="641.6" y1="988.6" x2="613.1" y2="1089.4" stroke="#2f3a1a" stroke-width="1"/>
<line x1="672.1" y1="997.8" x2="643.6" y2="1098.6" stroke="#2f3a1a" stroke-width="1"/>
<line x1="702.7" y1="1007.0" x2="674.2" y2="1107.8" stroke="#2f3a1a" stroke-width="1"/>
<line x1="733.2" y1="1016.2" x2="704.8" y2="1117.0" stroke="#2f3a1a" stroke-width="1"/>
<line x1="763.8" y1="1025.4" x2="735.3" y2="1126.2" stroke="#2f3a1a" stroke-width="1"/>
<line x1="794.4" y1="1034.6" x2="765.9" y2="1135.4" stroke="#2f3a1a" stroke-width="1"/>
<line x1="824.9" y1="1043.8" x2="796.4" y2="1144.6" stroke="#2f3a1a" stroke-width="1"/>
<line x1="855.5" y1="1053.0" x2="827.0" y2="1153.8" stroke="#2f3a1a" stroke-width="1"/>
<line x1="886.0" y1="1062.2" x2="857.5" y2="1163.0" stroke="#2f3a1a" stroke-width="1"/>
<line x1="916.5" y1="1071.5" x2="888.0" y2="1172.2" stroke="#2f3a1a" stroke-width="1"/>
<line x1="449.7" y1="963.6" x2="938.5" y2="1111.0" stroke="#2f3a1a" stroke-width="0.9" stroke-dasharray="12.5 7" stroke-dashoffset="-3"/>
<text transform="translate(469.3,953.1) rotate(16.6)" text-anchor="middle" y="5.2" class="ln">19</text>
<text transform="translate(499.8,962.3) rotate(16.6)" text-anchor="middle" y="5.2" class="ln">18</text>
<text transform="translate(530.4,971.5) rotate(16.6)" text-anchor="middle" y="5.2" class="ln">17</text>
<text transform="translate(560.9,980.7) rotate(16.6)" text-anchor="middle" y="5.2" class="ln">16</text>
<text transform="translate(591.5,989.9) rotate(16.6)" text-anchor="middle" y="5.2" class="ln">15</text>
<text transform="translate(622.0,999.1) rotate(16.6)" text-anchor="middle" y="5.2" class="ln">12</text>
<text transform="translate(652.6,1008.3) rotate(16.6)" text-anchor="middle" y="5.2" class="ln">11</text>
<text transform="translate(683.1,1017.5) rotate(16.6)" text-anchor="middle" y="5.2" class="ln">10</text>
<text transform="translate(713.7,1026.7) rotate(16.6)" text-anchor="middle" y="5.2" class="ln">9</text>
<text transform="translate(744.2,1036.0) rotate(16.6)" text-anchor="middle" y="5.2" class="ln">8</text>
<text transform="translate(774.8,1045.2) rotate(16.6)" text-anchor="middle" y="5.2" class="ln">7</text>
<text transform="translate(805.3,1054.4) rotate(16.6)" text-anchor="middle" y="5.2" class="ln">6</text>
<text transform="translate(835.9,1063.6) rotate(16.6)" text-anchor="middle" y="5.2" class="ln">5</text>
<text transform="translate(866.4,1072.8) rotate(16.6)" text-anchor="middle" y="5.2" class="ln">3</text>
<text transform="translate(897.0,1082.0) rotate(16.6)" text-anchor="middle" y="5.2" class="ln">2</text>
<text transform="translate(927.5,1091.2) rotate(16.6)" text-anchor="middle" y="5.2" class="ln">1</text>
<line x1="490.9" y1="1052.5" x2="462.4" y2="1153.3" stroke="#2f3a1a" stroke-width="1"/>
<line x1="521.5" y1="1061.7" x2="493.0" y2="1162.5" stroke="#2f3a1a" stroke-width="1"/>
<line x1="552.0" y1="1070.9" x2="523.5" y2="1171.7" stroke="#2f3a1a" stroke-width="1"/>
<line x1="582.6" y1="1080.1" x2="554.1" y2="1180.9" stroke="#2f3a1a" stroke-width="1"/>
<line x1="613.1" y1="1089.4" x2="584.6" y2="1190.2" stroke="#2f3a1a" stroke-width="1"/>
<line x1="643.7" y1="1098.6" x2="615.2" y2="1199.4" stroke="#2f3a1a" stroke-width="1"/>
<line x1="674.2" y1="1107.8" x2="645.7" y2="1208.6" stroke="#2f3a1a" stroke-width="1"/>
<line x1="704.8" y1="1117.0" x2="676.2" y2="1217.8" stroke="#2f3a1a" stroke-width="1"/>
<line x1="735.3" y1="1126.2" x2="706.8" y2="1227.0" stroke="#2f3a1a" stroke-width="1"/>
<line x1="765.9" y1="1135.4" x2="737.4" y2="1236.2" stroke="#2f3a1a" stroke-width="1"/>
<line x1="796.4" y1="1144.6" x2="767.9" y2="1245.4" stroke="#2f3a1a" stroke-width="1"/>
<line x1="827.0" y1="1153.8" x2="798.5" y2="1254.6" stroke="#2f3a1a" stroke-width="1"/>
<line x1="857.5" y1="1163.0" x2="829.0" y2="1263.8" stroke="#2f3a1a" stroke-width="1"/>
<line x1="888.0" y1="1172.2" x2="859.5" y2="1273.0" stroke="#2f3a1a" stroke-width="1"/>
<line x1="460.4" y1="1043.3" x2="918.6" y2="1181.5" stroke="#2f3a1a" stroke-width="0.9"/>
<line x1="440.4" y1="1113.8" x2="898.7" y2="1251.9" stroke="#2f3a1a" stroke-width="0.9" stroke-dasharray="12.5 7" stroke-dashoffset="-3"/>
<text transform="translate(451.4,1133.6) rotate(16.6)" text-anchor="middle" y="5.2" class="ln">18</text>
<text transform="translate(482.0,1142.8) rotate(16.6)" text-anchor="middle" y="5.2" class="ln">17</text>
<text transform="translate(512.5,1152.0) rotate(16.6)" text-anchor="middle" y="5.2" class="ln">16</text>
<text transform="translate(543.1,1161.2) rotate(16.6)" text-anchor="middle" y="5.2" class="ln">15</text>
<text transform="translate(573.6,1170.4) rotate(16.6)" text-anchor="middle" y="5.2" class="ln">12</text>
<text transform="translate(604.2,1179.6) rotate(16.6)" text-anchor="middle" y="5.2" class="ln">11</text>
<text transform="translate(634.7,1188.8) rotate(16.6)" text-anchor="middle" y="5.2" class="ln">10</text>
<text transform="translate(665.3,1198.0) rotate(16.6)" text-anchor="middle" y="5.2" class="ln">9</text>
<text transform="translate(695.8,1207.2) rotate(16.6)" text-anchor="middle" y="5.2" class="ln">8</text>
<text transform="translate(726.4,1216.4) rotate(16.6)" text-anchor="middle" y="5.2" class="ln">7</text>
<text transform="translate(756.9,1225.7) rotate(16.6)" text-anchor="middle" y="5.2" class="ln">6</text>
<text transform="translate(787.5,1234.9) rotate(16.6)" text-anchor="middle" y="5.2" class="ln">5</text>
<text transform="translate(818.0,1244.1) rotate(16.6)" text-anchor="middle" y="5.2" class="ln">3</text>
<text transform="translate(848.6,1253.3) rotate(16.6)" text-anchor="middle" y="5.2" class="ln">2</text>
<text transform="translate(879.1,1262.5) rotate(16.6)" text-anchor="middle" y="5.2" class="ln">1</text>
<polygon points="446.7,1230.0 874.4,1358.9 845.9,1459.7 811.7,1580.7 414.6,1461.0 448.8,1340.0 418.2,1330.8" fill="#fffbd0" filter="url(#blur2)" opacity="0.9" stroke="#fffbd0" stroke-width="4"/>
<polygon points="446.7,1230.0 874.4,1358.9 845.9,1459.7 811.7,1580.7 414.6,1461.0 448.8,1340.0 418.2,1330.8" fill="#f3f0a2" stroke="#2f3a1a" stroke-width="0.9"/>
<line x1="477.2" y1="1239.2" x2="448.8" y2="1340.0" stroke="#2f3a1a" stroke-width="1"/>
<line x1="507.8" y1="1248.4" x2="479.3" y2="1349.2" stroke="#2f3a1a" stroke-width="1"/>
<line x1="538.4" y1="1257.6" x2="509.9" y2="1358.4" stroke="#2f3a1a" stroke-width="1"/>
<line x1="568.9" y1="1266.8" x2="540.4" y2="1367.6" stroke="#2f3a1a" stroke-width="1"/>
<line x1="599.5" y1="1276.0" x2="571.0" y2="1376.8" stroke="#2f3a1a" stroke-width="1"/>
<line x1="630.0" y1="1285.3" x2="601.5" y2="1386.1" stroke="#2f3a1a" stroke-width="1"/>
<line x1="660.5" y1="1294.5" x2="632.0" y2="1395.3" stroke="#2f3a1a" stroke-width="1"/>
<line x1="691.1" y1="1303.7" x2="662.6" y2="1404.5" stroke="#2f3a1a" stroke-width="1"/>
<line x1="721.6" y1="1312.9" x2="693.1" y2="1413.7" stroke="#2f3a1a" stroke-width="1"/>
<line x1="752.2" y1="1322.1" x2="723.7" y2="1422.9" stroke="#2f3a1a" stroke-width="1"/>
<line x1="782.8" y1="1331.3" x2="754.2" y2="1432.1" stroke="#2f3a1a" stroke-width="1"/>
<line x1="813.3" y1="1340.5" x2="784.8" y2="1441.3" stroke="#2f3a1a" stroke-width="1"/>
<line x1="843.9" y1="1349.7" x2="815.4" y2="1450.5" stroke="#2f3a1a" stroke-width="1"/>
<line x1="438.1" y1="1260.3" x2="865.8" y2="1389.3" stroke="#2f3a1a" stroke-width="0.9" stroke-dasharray="12.5 7" stroke-dashoffset="-3"/>
<text transform="translate(457.7,1249.8) rotate(16.6)" text-anchor="middle" y="5.2" class="ln">17</text>
<text transform="translate(488.2,1259.0) rotate(16.6)" text-anchor="middle" y="5.2" class="ln">16</text>
<text transform="translate(518.8,1268.2) rotate(16.6)" text-anchor="middle" y="5.2" class="ln">15</text>
<text transform="translate(549.3,1277.4) rotate(16.6)" text-anchor="middle" y="5.2" class="ln">12</text>
<text transform="translate(579.9,1286.6) rotate(16.6)" text-anchor="middle" y="5.2" class="ln">11</text>
<text transform="translate(610.4,1295.8) rotate(16.6)" text-anchor="middle" y="5.2" class="ln">10</text>
<text transform="translate(641.0,1305.0) rotate(16.6)" text-anchor="middle" y="5.2" class="ln">9</text>
<text transform="translate(671.5,1314.2) rotate(16.6)" text-anchor="middle" y="5.2" class="ln">8</text>
<text transform="translate(702.1,1323.4) rotate(16.6)" text-anchor="middle" y="5.2" class="ln">7</text>
<text transform="translate(732.6,1332.7) rotate(16.6)" text-anchor="middle" y="5.2" class="ln">6</text>
<text transform="translate(763.2,1341.9) rotate(16.6)" text-anchor="middle" y="5.2" class="ln">5</text>
<text transform="translate(793.7,1351.1) rotate(16.6)" text-anchor="middle" y="5.2" class="ln">3</text>
<text transform="translate(824.3,1360.3) rotate(16.6)" text-anchor="middle" y="5.2" class="ln">2</text>
<text transform="translate(854.8,1369.5) rotate(16.6)" text-anchor="middle" y="5.2" class="ln">1</text>
<line x1="479.3" y1="1349.2" x2="445.1" y2="1470.2" stroke="#2f3a1a" stroke-width="1"/>
<line x1="509.9" y1="1358.4" x2="475.7" y2="1479.4" stroke="#2f3a1a" stroke-width="1"/>
<line x1="540.4" y1="1367.6" x2="506.2" y2="1488.6" stroke="#2f3a1a" stroke-width="1"/>
<line x1="571.0" y1="1376.8" x2="536.8" y2="1497.8" stroke="#2f3a1a" stroke-width="1"/>
<line x1="601.5" y1="1386.1" x2="567.3" y2="1507.0" stroke="#2f3a1a" stroke-width="1"/>
<line x1="632.0" y1="1395.3" x2="597.9" y2="1516.2" stroke="#2f3a1a" stroke-width="1"/>
<line x1="662.6" y1="1404.5" x2="628.4" y2="1525.4" stroke="#2f3a1a" stroke-width="1"/>
<line x1="693.1" y1="1413.7" x2="659.0" y2="1534.7" stroke="#2f3a1a" stroke-width="1"/>
<line x1="723.7" y1="1422.9" x2="689.5" y2="1543.9" stroke="#2f3a1a" stroke-width="1"/>
<line x1="754.2" y1="1432.1" x2="720.0" y2="1553.1" stroke="#2f3a1a" stroke-width="1"/>
<line x1="784.8" y1="1441.3" x2="750.6" y2="1562.3" stroke="#2f3a1a" stroke-width="1"/>
<line x1="815.4" y1="1450.5" x2="781.2" y2="1571.5" stroke="#2f3a1a" stroke-width="1"/>
<line x1="448.8" y1="1340.0" x2="845.9" y2="1459.7" stroke="#2f3a1a" stroke-width="0.9"/>
<line x1="423.1" y1="1430.7" x2="820.3" y2="1550.4" stroke="#2f3a1a" stroke-width="0.9" stroke-dasharray="12.5 7" stroke-dashoffset="-3"/>
<text transform="translate(434.1,1450.4) rotate(16.6)" text-anchor="middle" y="5.2" class="ln">16</text>
<text transform="translate(464.7,1459.6) rotate(16.6)" text-anchor="middle" y="5.2" class="ln">15</text>
<text transform="translate(495.2,1468.8) rotate(16.6)" text-anchor="middle" y="5.2" class="ln">12</text>
<text transform="translate(525.8,1478.0) rotate(16.6)" text-anchor="middle" y="5.2" class="ln">11</text>
<text transform="translate(556.3,1487.3) rotate(16.6)" text-anchor="middle" y="5.2" class="ln">10</text>
<text transform="translate(586.9,1496.5) rotate(16.6)" text-anchor="middle" y="5.2" class="ln">9</text>
<text transform="translate(617.4,1505.7) rotate(16.6)" text-anchor="middle" y="5.2" class="ln">8</text>
<text transform="translate(648.0,1514.9) rotate(16.6)" text-anchor="middle" y="5.2" class="ln">7</text>
<text transform="translate(678.5,1524.1) rotate(16.6)" text-anchor="middle" y="5.2" class="ln">6</text>
<text transform="translate(709.1,1533.3) rotate(16.6)" text-anchor="middle" y="5.2" class="ln">5</text>
<text transform="translate(739.6,1542.5) rotate(16.6)" text-anchor="middle" y="5.2" class="ln">3</text>
<text transform="translate(770.2,1551.7) rotate(16.6)" text-anchor="middle" y="5.2" class="ln">2</text>
<text transform="translate(800.7,1560.9) rotate(16.6)" text-anchor="middle" y="5.2" class="ln">1</text>
<polygon points="441.7,1550.0 777.8,1651.3 743.5,1772.3 709.3,1893.2 403.9,1801.1 438.1,1680.2 407.5,1671.0" fill="#fffbd0" filter="url(#blur2)" opacity="0.9" stroke="#fffbd0" stroke-width="4"/>
<polygon points="441.7,1550.0 777.8,1651.3 743.5,1772.3 709.3,1893.2 403.9,1801.1 438.1,1680.2 407.5,1671.0" fill="#f3f0a2" stroke="#2f3a1a" stroke-width="0.9"/>
<line x1="472.2" y1="1559.2" x2="438.1" y2="1680.2" stroke="#2f3a1a" stroke-width="1"/>
<line x1="502.8" y1="1568.4" x2="468.6" y2="1689.4" stroke="#2f3a1a" stroke-width="1"/>
<line x1="533.4" y1="1577.6" x2="499.1" y2="1698.6" stroke="#2f3a1a" stroke-width="1"/>
<line x1="563.9" y1="1586.8" x2="529.7" y2="1707.8" stroke="#2f3a1a" stroke-width="1"/>
<line x1="594.5" y1="1596.0" x2="560.2" y2="1717.0" stroke="#2f3a1a" stroke-width="1"/>
<line x1="625.0" y1="1605.3" x2="590.8" y2="1726.2" stroke="#2f3a1a" stroke-width="1"/>
<line x1="655.5" y1="1614.5" x2="621.4" y2="1735.4" stroke="#2f3a1a" stroke-width="1"/>
<line x1="686.1" y1="1623.7" x2="651.9" y2="1744.6" stroke="#2f3a1a" stroke-width="1"/>
<line x1="716.6" y1="1632.9" x2="682.5" y2="1753.9" stroke="#2f3a1a" stroke-width="1"/>
<line x1="747.2" y1="1642.1" x2="713.0" y2="1763.1" stroke="#2f3a1a" stroke-width="1"/>
<line x1="433.1" y1="1580.3" x2="769.2" y2="1681.6" stroke="#2f3a1a" stroke-width="0.9" stroke-dasharray="12.5 7" stroke-dashoffset="-3"/>
<text transform="translate(452.7,1569.8) rotate(16.6)" text-anchor="middle" y="5.2" class="ln">12</text>
<text transform="translate(483.2,1579.0) rotate(16.6)" text-anchor="middle" y="5.2" class="ln">11</text>
<text transform="translate(513.8,1588.2) rotate(16.6)" text-anchor="middle" y="5.2" class="ln">10</text>
<text transform="translate(544.3,1597.4) rotate(16.6)" text-anchor="middle" y="5.2" class="ln">9</text>
<text transform="translate(574.9,1606.6) rotate(16.6)" text-anchor="middle" y="5.2" class="ln">8</text>
<text transform="translate(605.4,1615.8) rotate(16.6)" text-anchor="middle" y="5.2" class="ln">7</text>
<text transform="translate(636.0,1625.0) rotate(16.6)" text-anchor="middle" y="5.2" class="ln">6</text>
<text transform="translate(666.5,1634.2) rotate(16.6)" text-anchor="middle" y="5.2" class="ln">5</text>
<text transform="translate(697.1,1643.4) rotate(16.6)" text-anchor="middle" y="5.2" class="ln">3</text>
<text transform="translate(727.6,1652.7) rotate(16.6)" text-anchor="middle" y="5.2" class="ln">2</text>
<text transform="translate(758.2,1661.9) rotate(16.6)" text-anchor="middle" y="5.2" class="ln">1</text>
<line x1="468.6" y1="1689.4" x2="434.4" y2="1810.3" stroke="#2f3a1a" stroke-width="1"/>
<line x1="499.2" y1="1698.6" x2="465.0" y2="1819.6" stroke="#2f3a1a" stroke-width="1"/>
<line x1="529.7" y1="1707.8" x2="495.5" y2="1828.8" stroke="#2f3a1a" stroke-width="1"/>
<line x1="560.2" y1="1717.0" x2="526.1" y2="1838.0" stroke="#2f3a1a" stroke-width="1"/>
<line x1="590.8" y1="1726.2" x2="556.6" y2="1847.2" stroke="#2f3a1a" stroke-width="1"/>
<line x1="621.4" y1="1735.4" x2="587.2" y2="1856.4" stroke="#2f3a1a" stroke-width="1"/>
<line x1="651.9" y1="1744.6" x2="617.7" y2="1865.6" stroke="#2f3a1a" stroke-width="1"/>
<line x1="682.5" y1="1753.9" x2="648.2" y2="1874.8" stroke="#2f3a1a" stroke-width="1"/>
<line x1="713.0" y1="1763.1" x2="678.8" y2="1884.0" stroke="#2f3a1a" stroke-width="1"/>
<line x1="438.1" y1="1680.2" x2="743.5" y2="1772.3" stroke="#2f3a1a" stroke-width="0.9"/>
<line x1="412.4" y1="1770.8" x2="717.9" y2="1862.9" stroke="#2f3a1a" stroke-width="0.9" stroke-dasharray="12.5 7" stroke-dashoffset="-3"/>
<text transform="translate(423.4,1790.6) rotate(16.6)" text-anchor="middle" y="5.2" class="ln">11</text>
<text transform="translate(454.0,1799.8) rotate(16.6)" text-anchor="middle" y="5.2" class="ln">10</text>
<text transform="translate(484.5,1809.0) rotate(16.6)" text-anchor="middle" y="5.2" class="ln">9</text>
<text transform="translate(515.1,1818.2) rotate(16.6)" text-anchor="middle" y="5.2" class="ln">8</text>
<text transform="translate(545.6,1827.4) rotate(16.6)" text-anchor="middle" y="5.2" class="ln">7</text>
<text transform="translate(576.2,1836.6) rotate(16.6)" text-anchor="middle" y="5.2" class="ln">6</text>
<text transform="translate(606.7,1845.8) rotate(16.6)" text-anchor="middle" y="5.2" class="ln">5</text>
<text transform="translate(637.3,1855.0) rotate(16.6)" text-anchor="middle" y="5.2" class="ln">3</text>
<text transform="translate(667.8,1864.3) rotate(16.6)" text-anchor="middle" y="5.2" class="ln">2</text>
<text transform="translate(698.4,1873.5) rotate(16.6)" text-anchor="middle" y="5.2" class="ln">1</text>
<g transform="translate(1095.0,452.0)" opacity="0.8">
<circle r="14.0" fill="#5d7a45" opacity="0.5" filter="url(#rough2)"/>
<circle r="13.3" fill="none" stroke="#7d8c80" stroke-width="2.2" stroke-dasharray="1.5 1.5" opacity="0.6"/>
<path d="M0,0 L9.9,1.8 M5.5,1.0 L8.1,5.1" stroke="#2f4426" stroke-width="1" fill="none" opacity="0.85"/>
<path d="M0,0 L5.8,8.3 M3.2,4.5 L2.2,9.3" stroke="#2f4426" stroke-width="1" fill="none" opacity="0.85"/>
<path d="M0,0 L-1.8,9.9 M-1.0,5.5 L-5.1,8.1" stroke="#2f4426" stroke-width="1" fill="none" opacity="0.85"/>
<path d="M0,0 L-8.3,5.8 M-4.5,3.2 L-9.3,2.2" stroke="#2f4426" stroke-width="1" fill="none" opacity="0.85"/>
<path d="M0,0 L-9.9,-1.8 M-5.5,-1.0 L-8.1,-5.1" stroke="#2f4426" stroke-width="1" fill="none" opacity="0.85"/>
<path d="M0,0 L-5.8,-8.3 M-3.2,-4.5 L-2.2,-9.3" stroke="#2f4426" stroke-width="1" fill="none" opacity="0.85"/>
<path d="M0,0 L1.8,-9.9 M1.0,-5.5 L5.1,-8.1" stroke="#2f4426" stroke-width="1" fill="none" opacity="0.85"/>
<path d="M0,0 L8.3,-5.8 M4.5,-3.2 L9.3,-2.2" stroke="#2f4426" stroke-width="1" fill="none" opacity="0.85"/>
</g>
<g transform="translate(1140.0,545.0)" opacity="0.8">
<circle r="14.0" fill="#5d7a45" opacity="0.5" filter="url(#rough2)"/>
<circle r="13.3" fill="none" stroke="#7d8c80" stroke-width="2.2" stroke-dasharray="1.5 1.5" opacity="0.6"/>
<path d="M0,0 L9.9,1.8 M5.5,1.0 L8.1,5.1" stroke="#2f4426" stroke-width="1" fill="none" opacity="0.85"/>
<path d="M0,0 L5.8,8.3 M3.2,4.5 L2.2,9.3" stroke="#2f4426" stroke-width="1" fill="none" opacity="0.85"/>
<path d="M0,0 L-1.8,9.9 M-1.0,5.5 L-5.1,8.1" stroke="#2f4426" stroke-width="1" fill="none" opacity="0.85"/>
<path d="M0,0 L-8.3,5.8 M-4.5,3.2 L-9.3,2.2" stroke="#2f4426" stroke-width="1" fill="none" opacity="0.85"/>
<path d="M0,0 L-9.9,-1.8 M-5.5,-1.0 L-8.1,-5.1" stroke="#2f4426" stroke-width="1" fill="none" opacity="0.85"/>
<path d="M0,0 L-5.8,-8.3 M-3.2,-4.5 L-2.2,-9.3" stroke="#2f4426" stroke-width="1" fill="none" opacity="0.85"/>
<path d="M0,0 L1.8,-9.9 M1.0,-5.5 L5.1,-8.1" stroke="#2f4426" stroke-width="1" fill="none" opacity="0.85"/>
<path d="M0,0 L8.3,-5.8 M4.5,-3.2 L9.3,-2.2" stroke="#2f4426" stroke-width="1" fill="none" opacity="0.85"/>
</g>
<g transform="translate(1061.0,740.0)" opacity="0.8">
<circle r="14.0" fill="#5d7a45" opacity="0.5" filter="url(#rough2)"/>
<circle r="13.3" fill="none" stroke="#7d8c80" stroke-width="2.2" stroke-dasharray="1.5 1.5" opacity="0.6"/>
<path d="M0,0 L9.9,1.8 M5.5,1.0 L8.1,5.1" stroke="#2f4426" stroke-width="1" fill="none" opacity="0.85"/>
<path d="M0,0 L5.8,8.3 M3.2,4.5 L2.2,9.3" stroke="#2f4426" stroke-width="1" fill="none" opacity="0.85"/>
<path d="M0,0 L-1.8,9.9 M-1.0,5.5 L-5.1,8.1" stroke="#2f4426" stroke-width="1" fill="none" opacity="0.85"/>
<path d="M0,0 L-8.3,5.8 M-4.5,3.2 L-9.3,2.2" stroke="#2f4426" stroke-width="1" fill="none" opacity="0.85"/>
<path d="M0,0 L-9.9,-1.8 M-5.5,-1.0 L-8.1,-5.1" stroke="#2f4426" stroke-width="1" fill="none" opacity="0.85"/>
<path d="M0,0 L-5.8,-8.3 M-3.2,-4.5 L-2.2,-9.3" stroke="#2f4426" stroke-width="1" fill="none" opacity="0.85"/>
<path d="M0,0 L1.8,-9.9 M1.0,-5.5 L5.1,-8.1" stroke="#2f4426" stroke-width="1" fill="none" opacity="0.85"/>
<path d="M0,0 L8.3,-5.8 M4.5,-3.2 L9.3,-2.2" stroke="#2f4426" stroke-width="1" fill="none" opacity="0.85"/>
</g>
<g transform="translate(1057.0,815.0)" opacity="0.8">
<circle r="14.0" fill="#5d7a45" opacity="0.5" filter="url(#rough2)"/>
<circle r="13.3" fill="none" stroke="#7d8c80" stroke-width="2.2" stroke-dasharray="1.5 1.5" opacity="0.6"/>
<path d="M0,0 L9.9,1.8 M5.5,1.0 L8.1,5.1" stroke="#2f4426" stroke-width="1" fill="none" opacity="0.85"/>
<path d="M0,0 L5.8,8.3 M3.2,4.5 L2.2,9.3" stroke="#2f4426" stroke-width="1" fill="none" opacity="0.85"/>
<path d="M0,0 L-1.8,9.9 M-1.0,5.5 L-5.1,8.1" stroke="#2f4426" stroke-width="1" fill="none" opacity="0.85"/>
<path d="M0,0 L-8.3,5.8 M-4.5,3.2 L-9.3,2.2" stroke="#2f4426" stroke-width="1" fill="none" opacity="0.85"/>
<path d="M0,0 L-9.9,-1.8 M-5.5,-1.0 L-8.1,-5.1" stroke="#2f4426" stroke-width="1" fill="none" opacity="0.85"/>
<path d="M0,0 L-5.8,-8.3 M-3.2,-4.5 L-2.2,-9.3" stroke="#2f4426" stroke-width="1" fill="none" opacity="0.85"/>
<path d="M0,0 L1.8,-9.9 M1.0,-5.5 L5.1,-8.1" stroke="#2f4426" stroke-width="1" fill="none" opacity="0.85"/>
<path d="M0,0 L8.3,-5.8 M4.5,-3.2 L9.3,-2.2" stroke="#2f4426" stroke-width="1" fill="none" opacity="0.85"/>
</g>
<g transform="translate(978.0,1012.0)" opacity="0.8">
<circle r="14.0" fill="#5d7a45" opacity="0.5" filter="url(#rough2)"/>
<circle r="13.3" fill="none" stroke="#7d8c80" stroke-width="2.2" stroke-dasharray="1.5 1.5" opacity="0.6"/>
<path d="M0,0 L9.9,1.8 M5.5,1.0 L8.1,5.1" stroke="#2f4426" stroke-width="1" fill="none" opacity="0.85"/>
<path d="M0,0 L5.8,8.3 M3.2,4.5 L2.2,9.3" stroke="#2f4426" stroke-width="1" fill="none" opacity="0.85"/>
<path d="M0,0 L-1.8,9.9 M-1.0,5.5 L-5.1,8.1" stroke="#2f4426" stroke-width="1" fill="none" opacity="0.85"/>
<path d="M0,0 L-8.3,5.8 M-4.5,3.2 L-9.3,2.2" stroke="#2f4426" stroke-width="1" fill="none" opacity="0.85"/>
<path d="M0,0 L-9.9,-1.8 M-5.5,-1.0 L-8.1,-5.1" stroke="#2f4426" stroke-width="1" fill="none" opacity="0.85"/>
<path d="M0,0 L-5.8,-8.3 M-3.2,-4.5 L-2.2,-9.3" stroke="#2f4426" stroke-width="1" fill="none" opacity="0.85"/>
<path d="M0,0 L1.8,-9.9 M1.0,-5.5 L5.1,-8.1" stroke="#2f4426" stroke-width="1" fill="none" opacity="0.85"/>
<path d="M0,0 L8.3,-5.8 M4.5,-3.2 L9.3,-2.2" stroke="#2f4426" stroke-width="1" fill="none" opacity="0.85"/>
</g>
<g transform="translate(975.0,1082.0)" opacity="0.8">
<circle r="14.0" fill="#5d7a45" opacity="0.5" filter="url(#rough2)"/>
<circle r="13.3" fill="none" stroke="#7d8c80" stroke-width="2.2" stroke-dasharray="1.5 1.5" opacity="0.6"/>
<path d="M0,0 L9.9,1.8 M5.5,1.0 L8.1,5.1" stroke="#2f4426" stroke-width="1" fill="none" opacity="0.85"/>
<path d="M0,0 L5.8,8.3 M3.2,4.5 L2.2,9.3" stroke="#2f4426" stroke-width="1" fill="none" opacity="0.85"/>
<path d="M0,0 L-1.8,9.9 M-1.0,5.5 L-5.1,8.1" stroke="#2f4426" stroke-width="1" fill="none" opacity="0.85"/>
<path d="M0,0 L-8.3,5.8 M-4.5,3.2 L-9.3,2.2" stroke="#2f4426" stroke-width="1" fill="none" opacity="0.85"/>
<path d="M0,0 L-9.9,-1.8 M-5.5,-1.0 L-8.1,-5.1" stroke="#2f4426" stroke-width="1" fill="none" opacity="0.85"/>
<path d="M0,0 L-5.8,-8.3 M-3.2,-4.5 L-2.2,-9.3" stroke="#2f4426" stroke-width="1" fill="none" opacity="0.85"/>
<path d="M0,0 L1.8,-9.9 M1.0,-5.5 L5.1,-8.1" stroke="#2f4426" stroke-width="1" fill="none" opacity="0.85"/>
<path d="M0,0 L8.3,-5.8 M4.5,-3.2 L9.3,-2.2" stroke="#2f4426" stroke-width="1" fill="none" opacity="0.85"/>
</g>
<g transform="translate(956.0,1162.0)" opacity="0.8">
<circle r="14.0" fill="#5d7a45" opacity="0.5" filter="url(#rough2)"/>
<circle r="13.3" fill="none" stroke="#7d8c80" stroke-width="2.2" stroke-dasharray="1.5 1.5" opacity="0.6"/>
<path d="M0,0 L9.9,1.8 M5.5,1.0 L8.1,5.1" stroke="#2f4426" stroke-width="1" fill="none" opacity="0.85"/>
<path d="M0,0 L5.8,8.3 M3.2,4.5 L2.2,9.3" stroke="#2f4426" stroke-width="1" fill="none" opacity="0.85"/>
<path d="M0,0 L-1.8,9.9 M-1.0,5.5 L-5.1,8.1" stroke="#2f4426" stroke-width="1" fill="none" opacity="0.85"/>
<path d="M0,0 L-8.3,5.8 M-4.5,3.2 L-9.3,2.2" stroke="#2f4426" stroke-width="1" fill="none" opacity="0.85"/>
<path d="M0,0 L-9.9,-1.8 M-5.5,-1.0 L-8.1,-5.1" stroke="#2f4426" stroke-width="1" fill="none" opacity="0.85"/>
<path d="M0,0 L-5.8,-8.3 M-3.2,-4.5 L-2.2,-9.3" stroke="#2f4426" stroke-width="1" fill="none" opacity="0.85"/>
<path d="M0,0 L1.8,-9.9 M1.0,-5.5 L5.1,-8.1" stroke="#2f4426" stroke-width="1" fill="none" opacity="0.85"/>
<path d="M0,0 L8.3,-5.8 M4.5,-3.2 L9.3,-2.2" stroke="#2f4426" stroke-width="1" fill="none" opacity="0.85"/>
</g>
<g transform="translate(936.0,1185.0)" opacity="0.8">
<circle r="14.0" fill="#5d7a45" opacity="0.5" filter="url(#rough2)"/>
<circle r="13.3" fill="none" stroke="#7d8c80" stroke-width="2.2" stroke-dasharray="1.5 1.5" opacity="0.6"/>
<path d="M0,0 L9.9,1.8 M5.5,1.0 L8.1,5.1" stroke="#2f4426" stroke-width="1" fill="none" opacity="0.85"/>
<path d="M0,0 L5.8,8.3 M3.2,4.5 L2.2,9.3" stroke="#2f4426" stroke-width="1" fill="none" opacity="0.85"/>
<path d="M0,0 L-1.8,9.9 M-1.0,5.5 L-5.1,8.1" stroke="#2f4426" stroke-width="1" fill="none" opacity="0.85"/>
<path d="M0,0 L-8.3,5.8 M-4.5,3.2 L-9.3,2.2" stroke="#2f4426" stroke-width="1" fill="none" opacity="0.85"/>
<path d="M0,0 L-9.9,-1.8 M-5.5,-1.0 L-8.1,-5.1" stroke="#2f4426" stroke-width="1" fill="none" opacity="0.85"/>
<path d="M0,0 L-5.8,-8.3 M-3.2,-4.5 L-2.2,-9.3" stroke="#2f4426" stroke-width="1" fill="none" opacity="0.85"/>
<path d="M0,0 L1.8,-9.9 M1.0,-5.5 L5.1,-8.1" stroke="#2f4426" stroke-width="1" fill="none" opacity="0.85"/>
<path d="M0,0 L8.3,-5.8 M4.5,-3.2 L9.3,-2.2" stroke="#2f4426" stroke-width="1" fill="none" opacity="0.85"/>
</g>
<g transform="translate(962.0,1190.0)" opacity="0.8">
<circle r="14.0" fill="#5d7a45" opacity="0.5" filter="url(#rough2)"/>
<circle r="13.3" fill="none" stroke="#7d8c80" stroke-width="2.2" stroke-dasharray="1.5 1.5" opacity="0.6"/>
<path d="M0,0 L9.9,1.8 M5.5,1.0 L8.1,5.1" stroke="#2f4426" stroke-width="1" fill="none" opacity="0.85"/>
<path d="M0,0 L5.8,8.3 M3.2,4.5 L2.2,9.3" stroke="#2f4426" stroke-width="1" fill="none" opacity="0.85"/>
<path d="M0,0 L-1.8,9.9 M-1.0,5.5 L-5.1,8.1" stroke="#2f4426" stroke-width="1" fill="none" opacity="0.85"/>
<path d="M0,0 L-8.3,5.8 M-4.5,3.2 L-9.3,2.2" stroke="#2f4426" stroke-width="1" fill="none" opacity="0.85"/>
<path d="M0,0 L-9.9,-1.8 M-5.5,-1.0 L-8.1,-5.1" stroke="#2f4426" stroke-width="1" fill="none" opacity="0.85"/>
<path d="M0,0 L-5.8,-8.3 M-3.2,-4.5 L-2.2,-9.3" stroke="#2f4426" stroke-width="1" fill="none" opacity="0.85"/>
<path d="M0,0 L1.8,-9.9 M1.0,-5.5 L5.1,-8.1" stroke="#2f4426" stroke-width="1" fill="none" opacity="0.85"/>
<path d="M0,0 L8.3,-5.8 M4.5,-3.2 L9.3,-2.2" stroke="#2f4426" stroke-width="1" fill="none" opacity="0.85"/>
</g>
<g transform="translate(928.0,1252.0)" opacity="0.8">
<circle r="14.0" fill="#5d7a45" opacity="0.5" filter="url(#rough2)"/>
<circle r="13.3" fill="none" stroke="#7d8c80" stroke-width="2.2" stroke-dasharray="1.5 1.5" opacity="0.6"/>
<path d="M0,0 L9.9,1.8 M5.5,1.0 L8.1,5.1" stroke="#2f4426" stroke-width="1" fill="none" opacity="0.85"/>
<path d="M0,0 L5.8,8.3 M3.2,4.5 L2.2,9.3" stroke="#2f4426" stroke-width="1" fill="none" opacity="0.85"/>
<path d="M0,0 L-1.8,9.9 M-1.0,5.5 L-5.1,8.1" stroke="#2f4426" stroke-width="1" fill="none" opacity="0.85"/>
<path d="M0,0 L-8.3,5.8 M-4.5,3.2 L-9.3,2.2" stroke="#2f4426" stroke-width="1" fill="none" opacity="0.85"/>
<path d="M0,0 L-9.9,-1.8 M-5.5,-1.0 L-8.1,-5.1" stroke="#2f4426" stroke-width="1" fill="none" opacity="0.85"/>
<path d="M0,0 L-5.8,-8.3 M-3.2,-4.5 L-2.2,-9.3" stroke="#2f4426" stroke-width="1" fill="none" opacity="0.85"/>
<path d="M0,0 L1.8,-9.9 M1.0,-5.5 L5.1,-8.1" stroke="#2f4426" stroke-width="1" fill="none" opacity="0.85"/>
<path d="M0,0 L8.3,-5.8 M4.5,-3.2 L9.3,-2.2" stroke="#2f4426" stroke-width="1" fill="none" opacity="0.85"/>
</g>
<g transform="translate(749.0,1797.0)" opacity="0.8">
<circle r="14.0" fill="#5d7a45" opacity="0.5" filter="url(#rough2)"/>
<circle r="13.3" fill="none" stroke="#7d8c80" stroke-width="2.2" stroke-dasharray="1.5 1.5" opacity="0.6"/>
<path d="M0,0 L9.9,1.8 M5.5,1.0 L8.1,5.1" stroke="#2f4426" stroke-width="1" fill="none" opacity="0.85"/>
<path d="M0,0 L5.8,8.3 M3.2,4.5 L2.2,9.3" stroke="#2f4426" stroke-width="1" fill="none" opacity="0.85"/>
<path d="M0,0 L-1.8,9.9 M-1.0,5.5 L-5.1,8.1" stroke="#2f4426" stroke-width="1" fill="none" opacity="0.85"/>
<path d="M0,0 L-8.3,5.8 M-4.5,3.2 L-9.3,2.2" stroke="#2f4426" stroke-width="1" fill="none" opacity="0.85"/>
<path d="M0,0 L-9.9,-1.8 M-5.5,-1.0 L-8.1,-5.1" stroke="#2f4426" stroke-width="1" fill="none" opacity="0.85"/>
<path d="M0,0 L-5.8,-8.3 M-3.2,-4.5 L-2.2,-9.3" stroke="#2f4426" stroke-width="1" fill="none" opacity="0.85"/>
<path d="M0,0 L1.8,-9.9 M1.0,-5.5 L5.1,-8.1" stroke="#2f4426" stroke-width="1" fill="none" opacity="0.85"/>
<path d="M0,0 L8.3,-5.8 M4.5,-3.2 L9.3,-2.2" stroke="#2f4426" stroke-width="1" fill="none" opacity="0.85"/>
</g>
<g transform="translate(707.0,1924.0)" opacity="0.8">
<circle r="14.0" fill="#5d7a45" opacity="0.5" filter="url(#rough2)"/>
<circle r="13.3" fill="none" stroke="#7d8c80" stroke-width="2.2" stroke-dasharray="1.5 1.5" opacity="0.6"/>
<path d="M0,0 L9.9,1.8 M5.5,1.0 L8.1,5.1" stroke="#2f4426" stroke-width="1" fill="none" opacity="0.85"/>
<path d="M0,0 L5.8,8.3 M3.2,4.5 L2.2,9.3" stroke="#2f4426" stroke-width="1" fill="none" opacity="0.85"/>
<path d="M0,0 L-1.8,9.9 M-1.0,5.5 L-5.1,8.1" stroke="#2f4426" stroke-width="1" fill="none" opacity="0.85"/>
<path d="M0,0 L-8.3,5.8 M-4.5,3.2 L-9.3,2.2" stroke="#2f4426" stroke-width="1" fill="none" opacity="0.85"/>
<path d="M0,0 L-9.9,-1.8 M-5.5,-1.0 L-8.1,-5.1" stroke="#2f4426" stroke-width="1" fill="none" opacity="0.85"/>
<path d="M0,0 L-5.8,-8.3 M-3.2,-4.5 L-2.2,-9.3" stroke="#2f4426" stroke-width="1" fill="none" opacity="0.85"/>
<path d="M0,0 L1.8,-9.9 M1.0,-5.5 L5.1,-8.1" stroke="#2f4426" stroke-width="1" fill="none" opacity="0.85"/>
<path d="M0,0 L8.3,-5.8 M4.5,-3.2 L9.3,-2.2" stroke="#2f4426" stroke-width="1" fill="none" opacity="0.85"/>
</g>
<g transform="translate(614.0,1949.0)" opacity="0.8">
<circle r="14.0" fill="#5d7a45" opacity="0.5" filter="url(#rough2)"/>
<circle r="13.3" fill="none" stroke="#7d8c80" stroke-width="2.2" stroke-dasharray="1.5 1.5" opacity="0.6"/>
<path d="M0,0 L9.9,1.8 M5.5,1.0 L8.1,5.1" stroke="#2f4426" stroke-width="1" fill="none" opacity="0.85"/>
<path d="M0,0 L5.8,8.3 M3.2,4.5 L2.2,9.3" stroke="#2f4426" stroke-width="1" fill="none" opacity="0.85"/>
<path d="M0,0 L-1.8,9.9 M-1.0,5.5 L-5.1,8.1" stroke="#2f4426" stroke-width="1" fill="none" opacity="0.85"/>
<path d="M0,0 L-8.3,5.8 M-4.5,3.2 L-9.3,2.2" stroke="#2f4426" stroke-width="1" fill="none" opacity="0.85"/>
<path d="M0,0 L-9.9,-1.8 M-5.5,-1.0 L-8.1,-5.1" stroke="#2f4426" stroke-width="1" fill="none" opacity="0.85"/>
<path d="M0,0 L-5.8,-8.3 M-3.2,-4.5 L-2.2,-9.3" stroke="#2f4426" stroke-width="1" fill="none" opacity="0.85"/>
<path d="M0,0 L1.8,-9.9 M1.0,-5.5 L5.1,-8.1" stroke="#2f4426" stroke-width="1" fill="none" opacity="0.85"/>
<path d="M0,0 L8.3,-5.8 M4.5,-3.2 L9.3,-2.2" stroke="#2f4426" stroke-width="1" fill="none" opacity="0.85"/>
</g>
<g transform="translate(469.0,1906.0)" opacity="0.8">
<circle r="14.0" fill="#5d7a45" opacity="0.5" filter="url(#rough2)"/>
<circle r="13.3" fill="none" stroke="#7d8c80" stroke-width="2.2" stroke-dasharray="1.5 1.5" opacity="0.6"/>
<path d="M0,0 L9.9,1.8 M5.5,1.0 L8.1,5.1" stroke="#2f4426" stroke-width="1" fill="none" opacity="0.85"/>
<path d="M0,0 L5.8,8.3 M3.2,4.5 L2.2,9.3" stroke="#2f4426" stroke-width="1" fill="none" opacity="0.85"/>
<path d="M0,0 L-1.8,9.9 M-1.0,5.5 L-5.1,8.1" stroke="#2f4426" stroke-width="1" fill="none" opacity="0.85"/>
<path d="M0,0 L-8.3,5.8 M-4.5,3.2 L-9.3,2.2" stroke="#2f4426" stroke-width="1" fill="none" opacity="0.85"/>
<path d="M0,0 L-9.9,-1.8 M-5.5,-1.0 L-8.1,-5.1" stroke="#2f4426" stroke-width="1" fill="none" opacity="0.85"/>
<path d="M0,0 L-5.8,-8.3 M-3.2,-4.5 L-2.2,-9.3" stroke="#2f4426" stroke-width="1" fill="none" opacity="0.85"/>
<path d="M0,0 L1.8,-9.9 M1.0,-5.5 L5.1,-8.1" stroke="#2f4426" stroke-width="1" fill="none" opacity="0.85"/>
<path d="M0,0 L8.3,-5.8 M4.5,-3.2 L9.3,-2.2" stroke="#2f4426" stroke-width="1" fill="none" opacity="0.85"/>
</g>
<g transform="translate(329.0,1859.0)" opacity="0.8">
<circle r="14.0" fill="#5d7a45" opacity="0.5" filter="url(#rough2)"/>
<circle r="13.3" fill="none" stroke="#7d8c80" stroke-width="2.2" stroke-dasharray="1.5 1.5" opacity="0.6"/>
<path d="M0,0 L9.9,1.8 M5.5,1.0 L8.1,5.1" stroke="#2f4426" stroke-width="1" fill="none" opacity="0.85"/>
<path d="M0,0 L5.8,8.3 M3.2,4.5 L2.2,9.3" stroke="#2f4426" stroke-width="1" fill="none" opacity="0.85"/>
<path d="M0,0 L-1.8,9.9 M-1.0,5.5 L-5.1,8.1" stroke="#2f4426" stroke-width="1" fill="none" opacity="0.85"/>
<path d="M0,0 L-8.3,5.8 M-4.5,3.2 L-9.3,2.2" stroke="#2f4426" stroke-width="1" fill="none" opacity="0.85"/>
<path d="M0,0 L-9.9,-1.8 M-5.5,-1.0 L-8.1,-5.1" stroke="#2f4426" stroke-width="1" fill="none" opacity="0.85"/>
<path d="M0,0 L-5.8,-8.3 M-3.2,-4.5 L-2.2,-9.3" stroke="#2f4426" stroke-width="1" fill="none" opacity="0.85"/>
<path d="M0,0 L1.8,-9.9 M1.0,-5.5 L5.1,-8.1" stroke="#2f4426" stroke-width="1" fill="none" opacity="0.85"/>
<path d="M0,0 L8.3,-5.8 M4.5,-3.2 L9.3,-2.2" stroke="#2f4426" stroke-width="1" fill="none" opacity="0.85"/>
</g>
<g transform="translate(793.0,2045.0)" opacity="0.8">
<circle r="14.0" fill="#5d7a45" opacity="0.5" filter="url(#rough2)"/>
<circle r="13.3" fill="none" stroke="#7d8c80" stroke-width="2.2" stroke-dasharray="1.5 1.5" opacity="0.6"/>
<path d="M0,0 L9.9,1.8 M5.5,1.0 L8.1,5.1" stroke="#2f4426" stroke-width="1" fill="none" opacity="0.85"/>
<path d="M0,0 L5.8,8.3 M3.2,4.5 L2.2,9.3" stroke="#2f4426" stroke-width="1" fill="none" opacity="0.85"/>
<path d="M0,0 L-1.8,9.9 M-1.0,5.5 L-5.1,8.1" stroke="#2f4426" stroke-width="1" fill="none" opacity="0.85"/>
<path d="M0,0 L-8.3,5.8 M-4.5,3.2 L-9.3,2.2" stroke="#2f4426" stroke-width="1" fill="none" opacity="0.85"/>
<path d="M0,0 L-9.9,-1.8 M-5.5,-1.0 L-8.1,-5.1" stroke="#2f4426" stroke-width="1" fill="none" opacity="0.85"/>
<path d="M0,0 L-5.8,-8.3 M-3.2,-4.5 L-2.2,-9.3" stroke="#2f4426" stroke-width="1" fill="none" opacity="0.85"/>
<path d="M0,0 L1.8,-9.9 M1.0,-5.5 L5.1,-8.1" stroke="#2f4426" stroke-width="1" fill="none" opacity="0.85"/>
<path d="M0,0 L8.3,-5.8 M4.5,-3.2 L9.3,-2.2" stroke="#2f4426" stroke-width="1" fill="none" opacity="0.85"/>
</g>
<g transform="translate(916.0,2078.0)" opacity="0.8">
<circle r="14.0" fill="#5d7a45" opacity="0.5" filter="url(#rough2)"/>
<circle r="13.3" fill="none" stroke="#7d8c80" stroke-width="2.2" stroke-dasharray="1.5 1.5" opacity="0.6"/>
<path d="M0,0 L9.9,1.8 M5.5,1.0 L8.1,5.1" stroke="#2f4426" stroke-width="1" fill="none" opacity="0.85"/>
<path d="M0,0 L5.8,8.3 M3.2,4.5 L2.2,9.3" stroke="#2f4426" stroke-width="1" fill="none" opacity="0.85"/>
<path d="M0,0 L-1.8,9.9 M-1.0,5.5 L-5.1,8.1" stroke="#2f4426" stroke-width="1" fill="none" opacity="0.85"/>
<path d="M0,0 L-8.3,5.8 M-4.5,3.2 L-9.3,2.2" stroke="#2f4426" stroke-width="1" fill="none" opacity="0.85"/>
<path d="M0,0 L-9.9,-1.8 M-5.5,-1.0 L-8.1,-5.1" stroke="#2f4426" stroke-width="1" fill="none" opacity="0.85"/>
<path d="M0,0 L-5.8,-8.3 M-3.2,-4.5 L-2.2,-9.3" stroke="#2f4426" stroke-width="1" fill="none" opacity="0.85"/>
<path d="M0,0 L1.8,-9.9 M1.0,-5.5 L5.1,-8.1" stroke="#2f4426" stroke-width="1" fill="none" opacity="0.85"/>
<path d="M0,0 L8.3,-5.8 M4.5,-3.2 L9.3,-2.2" stroke="#2f4426" stroke-width="1" fill="none" opacity="0.85"/>
</g>
<g transform="translate(760.0,1745.0)" opacity="0.8">
<circle r="14.0" fill="#5d7a45" opacity="0.5" filter="url(#rough2)"/>
<circle r="13.3" fill="none" stroke="#7d8c80" stroke-width="2.2" stroke-dasharray="1.5 1.5" opacity="0.6"/>
<path d="M0,0 L9.9,1.8 M5.5,1.0 L8.1,5.1" stroke="#2f4426" stroke-width="1" fill="none" opacity="0.85"/>
<path d="M0,0 L5.8,8.3 M3.2,4.5 L2.2,9.3" stroke="#2f4426" stroke-width="1" fill="none" opacity="0.85"/>
<path d="M0,0 L-1.8,9.9 M-1.0,5.5 L-5.1,8.1" stroke="#2f4426" stroke-width="1" fill="none" opacity="0.85"/>
<path d="M0,0 L-8.3,5.8 M-4.5,3.2 L-9.3,2.2" stroke="#2f4426" stroke-width="1" fill="none" opacity="0.85"/>
<path d="M0,0 L-9.9,-1.8 M-5.5,-1.0 L-8.1,-5.1" stroke="#2f4426" stroke-width="1" fill="none" opacity="0.85"/>
<path d="M0,0 L-5.8,-8.3 M-3.2,-4.5 L-2.2,-9.3" stroke="#2f4426" stroke-width="1" fill="none" opacity="0.85"/>
<path d="M0,0 L1.8,-9.9 M1.0,-5.5 L5.1,-8.1" stroke="#2f4426" stroke-width="1" fill="none" opacity="0.85"/>
<path d="M0,0 L8.3,-5.8 M4.5,-3.2 L9.3,-2.2" stroke="#2f4426" stroke-width="1" fill="none" opacity="0.85"/>
</g>
<g transform="translate(758.0,1870.0)" opacity="0.8">
<circle r="14.0" fill="#5d7a45" opacity="0.5" filter="url(#rough2)"/>
<circle r="13.3" fill="none" stroke="#7d8c80" stroke-width="2.2" stroke-dasharray="1.5 1.5" opacity="0.6"/>
<path d="M0,0 L9.9,1.8 M5.5,1.0 L8.1,5.1" stroke="#2f4426" stroke-width="1" fill="none" opacity="0.85"/>
<path d="M0,0 L5.8,8.3 M3.2,4.5 L2.2,9.3" stroke="#2f4426" stroke-width="1" fill="none" opacity="0.85"/>
<path d="M0,0 L-1.8,9.9 M-1.0,5.5 L-5.1,8.1" stroke="#2f4426" stroke-width="1" fill="none" opacity="0.85"/>
<path d="M0,0 L-8.3,5.8 M-4.5,3.2 L-9.3,2.2" stroke="#2f4426" stroke-width="1" fill="none" opacity="0.85"/>
<path d="M0,0 L-9.9,-1.8 M-5.5,-1.0 L-8.1,-5.1" stroke="#2f4426" stroke-width="1" fill="none" opacity="0.85"/>
<path d="M0,0 L-5.8,-8.3 M-3.2,-4.5 L-2.2,-9.3" stroke="#2f4426" stroke-width="1" fill="none" opacity="0.85"/>
<path d="M0,0 L1.8,-9.9 M1.0,-5.5 L5.1,-8.1" stroke="#2f4426" stroke-width="1" fill="none" opacity="0.85"/>
<path d="M0,0 L8.3,-5.8 M4.5,-3.2 L9.3,-2.2" stroke="#2f4426" stroke-width="1" fill="none" opacity="0.85"/>
</g>
<line x1="1011.5" y1="2132.6" x2="1022.0" y2="2090.0" stroke="#7a4a1c" stroke-width="11.5"/>
<line x1="1011.5" y1="2132.6" x2="1022.0" y2="2090.0" stroke="#c98a3a" stroke-width="9" stroke-dasharray="3.2 1.2"/>
<circle cx="991.9" cy="2108.3" r="16.5" fill="#333" opacity="0.25" filter="url(#blur2)"/>
<g filter="url(#rough2)"><circle cx="989.9" cy="2105.3" r="16.5" fill="#6fae4a"/>
<circle cx="989.9" cy="2105.3" r="10.2" fill="#4f9440" opacity="0.8"/></g>
<line x1="989.9" y1="2105.3" x2="1003.3" y2="2106.9" stroke="#2f5a2a" stroke-width="1" opacity="0.75"/>
<line x1="989.9" y1="2105.3" x2="999.1" y2="2115.2" stroke="#2f5a2a" stroke-width="1" opacity="0.75"/>
<line x1="989.9" y1="2105.3" x2="990.6" y2="2118.8" stroke="#2f5a2a" stroke-width="1" opacity="0.75"/>
<line x1="989.9" y1="2105.3" x2="981.8" y2="2116.1" stroke="#2f5a2a" stroke-width="1" opacity="0.75"/>
<line x1="989.9" y1="2105.3" x2="976.7" y2="2108.3" stroke="#2f5a2a" stroke-width="1" opacity="0.75"/>
<line x1="989.9" y1="2105.3" x2="977.8" y2="2099.2" stroke="#2f5a2a" stroke-width="1" opacity="0.75"/>
<line x1="989.9" y1="2105.3" x2="984.6" y2="2092.8" stroke="#2f5a2a" stroke-width="1" opacity="0.75"/>
<line x1="989.9" y1="2105.3" x2="993.9" y2="2092.4" stroke="#2f5a2a" stroke-width="1" opacity="0.75"/>
<line x1="989.9" y1="2105.3" x2="1001.2" y2="2097.9" stroke="#2f5a2a" stroke-width="1" opacity="0.75"/>
<circle cx="989.9" cy="2105.3" r="2.5" fill="#b7dc8a" opacity="0.8"/>
<circle cx="1047.9" cy="2134.3" r="16.5" fill="#333" opacity="0.25" filter="url(#blur2)"/>
<g filter="url(#rough2)"><circle cx="1045.9" cy="2131.3" r="16.5" fill="#6fae4a"/>
<circle cx="1045.9" cy="2131.3" r="10.2" fill="#4f9440" opacity="0.8"/></g>
<line x1="1045.9" y1="2131.3" x2="1059.3" y2="2132.9" stroke="#2f5a2a" stroke-width="1" opacity="0.75"/>
<line x1="1045.9" y1="2131.3" x2="1055.1" y2="2141.2" stroke="#2f5a2a" stroke-width="1" opacity="0.75"/>
<line x1="1045.9" y1="2131.3" x2="1046.6" y2="2144.8" stroke="#2f5a2a" stroke-width="1" opacity="0.75"/>
<line x1="1045.9" y1="2131.3" x2="1037.8" y2="2142.1" stroke="#2f5a2a" stroke-width="1" opacity="0.75"/>
<line x1="1045.9" y1="2131.3" x2="1032.7" y2="2134.3" stroke="#2f5a2a" stroke-width="1" opacity="0.75"/>
<line x1="1045.9" y1="2131.3" x2="1033.8" y2="2125.2" stroke="#2f5a2a" stroke-width="1" opacity="0.75"/>
<line x1="1045.9" y1="2131.3" x2="1040.6" y2="2118.8" stroke="#2f5a2a" stroke-width="1" opacity="0.75"/>
<line x1="1045.9" y1="2131.3" x2="1049.9" y2="2118.4" stroke="#2f5a2a" stroke-width="1" opacity="0.75"/>
<line x1="1045.9" y1="2131.3" x2="1057.2" y2="2123.9" stroke="#2f5a2a" stroke-width="1" opacity="0.75"/>
<circle cx="1045.9" cy="2131.3" r="2.5" fill="#b7dc8a" opacity="0.8"/>
<circle cx="966.9" cy="2144.3" r="16.5" fill="#333" opacity="0.25" filter="url(#blur2)"/>
<g filter="url(#rough2)"><circle cx="964.9" cy="2141.3" r="16.5" fill="#6fae4a"/>
<circle cx="964.9" cy="2141.3" r="10.2" fill="#4f9440" opacity="0.8"/></g>
<line x1="964.9" y1="2141.3" x2="978.3" y2="2142.9" stroke="#2f5a2a" stroke-width="1" opacity="0.75"/>
<line x1="964.9" y1="2141.3" x2="974.1" y2="2151.2" stroke="#2f5a2a" stroke-width="1" opacity="0.75"/>
<line x1="964.9" y1="2141.3" x2="965.6" y2="2154.8" stroke="#2f5a2a" stroke-width="1" opacity="0.75"/>
<line x1="964.9" y1="2141.3" x2="956.8" y2="2152.1" stroke="#2f5a2a" stroke-width="1" opacity="0.75"/>
<line x1="964.9" y1="2141.3" x2="951.7" y2="2144.3" stroke="#2f5a2a" stroke-width="1" opacity="0.75"/>
<line x1="964.9" y1="2141.3" x2="952.8" y2="2135.2" stroke="#2f5a2a" stroke-width="1" opacity="0.75"/>
<line x1="964.9" y1="2141.3" x2="959.6" y2="2128.8" stroke="#2f5a2a" stroke-width="1" opacity="0.75"/>
<line x1="964.9" y1="2141.3" x2="968.9" y2="2128.4" stroke="#2f5a2a" stroke-width="1" opacity="0.75"/>
<line x1="964.9" y1="2141.3" x2="976.2" y2="2133.9" stroke="#2f5a2a" stroke-width="1" opacity="0.75"/>
<circle cx="964.9" cy="2141.3" r="2.5" fill="#b7dc8a" opacity="0.8"/>
<circle cx="1037.9" cy="2172.3" r="16.5" fill="#333" opacity="0.25" filter="url(#blur2)"/>
<g filter="url(#rough2)"><circle cx="1035.9" cy="2169.3" r="16.5" fill="#6fae4a"/>
<circle cx="1035.9" cy="2169.3" r="10.2" fill="#4f9440" opacity="0.8"/></g>
<line x1="1035.9" y1="2169.3" x2="1049.3" y2="2170.9" stroke="#2f5a2a" stroke-width="1" opacity="0.75"/>
<line x1="1035.9" y1="2169.3" x2="1045.1" y2="2179.2" stroke="#2f5a2a" stroke-width="1" opacity="0.75"/>
<line x1="1035.9" y1="2169.3" x2="1036.6" y2="2182.8" stroke="#2f5a2a" stroke-width="1" opacity="0.75"/>
<line x1="1035.9" y1="2169.3" x2="1027.8" y2="2180.1" stroke="#2f5a2a" stroke-width="1" opacity="0.75"/>
<line x1="1035.9" y1="2169.3" x2="1022.7" y2="2172.3" stroke="#2f5a2a" stroke-width="1" opacity="0.75"/>
<line x1="1035.9" y1="2169.3" x2="1023.8" y2="2163.2" stroke="#2f5a2a" stroke-width="1" opacity="0.75"/>
<line x1="1035.9" y1="2169.3" x2="1030.6" y2="2156.8" stroke="#2f5a2a" stroke-width="1" opacity="0.75"/>
<line x1="1035.9" y1="2169.3" x2="1039.9" y2="2156.4" stroke="#2f5a2a" stroke-width="1" opacity="0.75"/>
<line x1="1035.9" y1="2169.3" x2="1047.2" y2="2161.9" stroke="#2f5a2a" stroke-width="1" opacity="0.75"/>
<circle cx="1035.9" cy="2169.3" r="2.5" fill="#b7dc8a" opacity="0.8"/>
<circle cx="999.9" cy="2184.3" r="16.5" fill="#333" opacity="0.25" filter="url(#blur2)"/>
<g filter="url(#rough2)"><circle cx="997.9" cy="2181.3" r="16.5" fill="#6fae4a"/>
<circle cx="997.9" cy="2181.3" r="10.2" fill="#4f9440" opacity="0.8"/></g>
<line x1="997.9" y1="2181.3" x2="1011.3" y2="2182.9" stroke="#2f5a2a" stroke-width="1" opacity="0.75"/>
<line x1="997.9" y1="2181.3" x2="1007.1" y2="2191.2" stroke="#2f5a2a" stroke-width="1" opacity="0.75"/>
<line x1="997.9" y1="2181.3" x2="998.6" y2="2194.8" stroke="#2f5a2a" stroke-width="1" opacity="0.75"/>
<line x1="997.9" y1="2181.3" x2="989.8" y2="2192.1" stroke="#2f5a2a" stroke-width="1" opacity="0.75"/>
<line x1="997.9" y1="2181.3" x2="984.7" y2="2184.3" stroke="#2f5a2a" stroke-width="1" opacity="0.75"/>
<line x1="997.9" y1="2181.3" x2="985.8" y2="2175.2" stroke="#2f5a2a" stroke-width="1" opacity="0.75"/>
<line x1="997.9" y1="2181.3" x2="992.6" y2="2168.8" stroke="#2f5a2a" stroke-width="1" opacity="0.75"/>
<line x1="997.9" y1="2181.3" x2="1001.9" y2="2168.4" stroke="#2f5a2a" stroke-width="1" opacity="0.75"/>
<line x1="997.9" y1="2181.3" x2="1009.2" y2="2173.9" stroke="#2f5a2a" stroke-width="1" opacity="0.75"/>
<circle cx="997.9" cy="2181.3" r="2.5" fill="#b7dc8a" opacity="0.8"/>
<circle cx="1008.9" cy="2143.3" r="26.5" fill="#8fae4e" stroke="#2c3a1c" stroke-width="2.2"/>
<line x1="994.2" y1="2122.3" x2="1023.6" y2="2122.3" stroke="#6f8c3c" stroke-width="1" transform="rotate(16 1008.9 2143.3)"/>
<line x1="989.9" y1="2126.5" x2="1027.9" y2="2126.5" stroke="#6f8c3c" stroke-width="1" transform="rotate(16 1008.9 2143.3)"/>
<line x1="987.1" y1="2130.7" x2="1030.7" y2="2130.7" stroke="#6f8c3c" stroke-width="1" transform="rotate(16 1008.9 2143.3)"/>
<line x1="985.3" y1="2134.9" x2="1032.5" y2="2134.9" stroke="#6f8c3c" stroke-width="1" transform="rotate(16 1008.9 2143.3)"/>
<line x1="984.2" y1="2139.1" x2="1033.6" y2="2139.1" stroke="#6f8c3c" stroke-width="1" transform="rotate(16 1008.9 2143.3)"/>
<line x1="983.9" y1="2143.3" x2="1033.9" y2="2143.3" stroke="#6f8c3c" stroke-width="1" transform="rotate(16 1008.9 2143.3)"/>
<line x1="984.2" y1="2147.5" x2="1033.6" y2="2147.5" stroke="#6f8c3c" stroke-width="1" transform="rotate(16 1008.9 2143.3)"/>
<line x1="985.3" y1="2151.7" x2="1032.5" y2="2151.7" stroke="#6f8c3c" stroke-width="1" transform="rotate(16 1008.9 2143.3)"/>
<line x1="987.1" y1="2155.9" x2="1030.7" y2="2155.9" stroke="#6f8c3c" stroke-width="1" transform="rotate(16 1008.9 2143.3)"/>
<line x1="989.9" y1="2160.1" x2="1027.9" y2="2160.1" stroke="#6f8c3c" stroke-width="1" transform="rotate(16 1008.9 2143.3)"/>
<line x1="994.2" y1="2164.3" x2="1023.6" y2="2164.3" stroke="#6f8c3c" stroke-width="1" transform="rotate(16 1008.9 2143.3)"/>
<circle cx="1029.6" cy="2150.8" r="2.6" fill="#a8786a"/>
<circle cx="1018.2" cy="2163.2" r="2.6" fill="#a8786a"/>
<circle cx="1001.4" cy="2164.0" r="2.6" fill="#a8786a"/>
<circle cx="989.0" cy="2152.6" r="2.6" fill="#a8786a"/>
<circle cx="988.2" cy="2135.8" r="2.6" fill="#a8786a"/>
<circle cx="999.6" cy="2123.4" r="2.6" fill="#a8786a"/>
<circle cx="1016.4" cy="2122.6" r="2.6" fill="#a8786a"/>
<circle cx="1028.8" cy="2134.0" r="2.6" fill="#a8786a"/>
<line x1="1122.7" y1="2183.8" x2="1138.0" y2="2128.0" stroke="#7a4a1c" stroke-width="11.5"/>
<line x1="1122.7" y1="2183.8" x2="1138.0" y2="2128.0" stroke="#c98a3a" stroke-width="9" stroke-dasharray="3.2 1.2"/>
<circle cx="1096.9" cy="2170.8" r="16.5" fill="#333" opacity="0.25" filter="url(#blur2)"/>
<g filter="url(#rough2)"><circle cx="1094.9" cy="2167.8" r="16.5" fill="#6fae4a"/>
<circle cx="1094.9" cy="2167.8" r="10.2" fill="#4f9440" opacity="0.8"/></g>
<line x1="1094.9" y1="2167.8" x2="1108.3" y2="2169.4" stroke="#2f5a2a" stroke-width="1" opacity="0.75"/>
<line x1="1094.9" y1="2167.8" x2="1104.1" y2="2177.7" stroke="#2f5a2a" stroke-width="1" opacity="0.75"/>
<line x1="1094.9" y1="2167.8" x2="1095.6" y2="2181.3" stroke="#2f5a2a" stroke-width="1" opacity="0.75"/>
<line x1="1094.9" y1="2167.8" x2="1086.8" y2="2178.6" stroke="#2f5a2a" stroke-width="1" opacity="0.75"/>
<line x1="1094.9" y1="2167.8" x2="1081.7" y2="2170.8" stroke="#2f5a2a" stroke-width="1" opacity="0.75"/>
<line x1="1094.9" y1="2167.8" x2="1082.8" y2="2161.7" stroke="#2f5a2a" stroke-width="1" opacity="0.75"/>
<line x1="1094.9" y1="2167.8" x2="1089.6" y2="2155.3" stroke="#2f5a2a" stroke-width="1" opacity="0.75"/>
<line x1="1094.9" y1="2167.8" x2="1098.9" y2="2154.9" stroke="#2f5a2a" stroke-width="1" opacity="0.75"/>
<line x1="1094.9" y1="2167.8" x2="1106.2" y2="2160.4" stroke="#2f5a2a" stroke-width="1" opacity="0.75"/>
<circle cx="1094.9" cy="2167.8" r="2.5" fill="#b7dc8a" opacity="0.8"/>
<circle cx="1160.9" cy="2189.8" r="16.5" fill="#333" opacity="0.25" filter="url(#blur2)"/>
<g filter="url(#rough2)"><circle cx="1158.9" cy="2186.8" r="16.5" fill="#6fae4a"/>
<circle cx="1158.9" cy="2186.8" r="10.2" fill="#4f9440" opacity="0.8"/></g>
<line x1="1158.9" y1="2186.8" x2="1172.3" y2="2188.4" stroke="#2f5a2a" stroke-width="1" opacity="0.75"/>
<line x1="1158.9" y1="2186.8" x2="1168.1" y2="2196.7" stroke="#2f5a2a" stroke-width="1" opacity="0.75"/>
<line x1="1158.9" y1="2186.8" x2="1159.6" y2="2200.3" stroke="#2f5a2a" stroke-width="1" opacity="0.75"/>
<line x1="1158.9" y1="2186.8" x2="1150.8" y2="2197.6" stroke="#2f5a2a" stroke-width="1" opacity="0.75"/>
<line x1="1158.9" y1="2186.8" x2="1145.7" y2="2189.8" stroke="#2f5a2a" stroke-width="1" opacity="0.75"/>
<line x1="1158.9" y1="2186.8" x2="1146.8" y2="2180.7" stroke="#2f5a2a" stroke-width="1" opacity="0.75"/>
<line x1="1158.9" y1="2186.8" x2="1153.6" y2="2174.3" stroke="#2f5a2a" stroke-width="1" opacity="0.75"/>
<line x1="1158.9" y1="2186.8" x2="1162.9" y2="2173.9" stroke="#2f5a2a" stroke-width="1" opacity="0.75"/>
<line x1="1158.9" y1="2186.8" x2="1170.2" y2="2179.4" stroke="#2f5a2a" stroke-width="1" opacity="0.75"/>
<circle cx="1158.9" cy="2186.8" r="2.5" fill="#b7dc8a" opacity="0.8"/>
<circle cx="1081.9" cy="2211.8" r="16.5" fill="#333" opacity="0.25" filter="url(#blur2)"/>
<g filter="url(#rough2)"><circle cx="1079.9" cy="2208.8" r="16.5" fill="#6fae4a"/>
<circle cx="1079.9" cy="2208.8" r="10.2" fill="#4f9440" opacity="0.8"/></g>
<line x1="1079.9" y1="2208.8" x2="1093.3" y2="2210.4" stroke="#2f5a2a" stroke-width="1" opacity="0.75"/>
<line x1="1079.9" y1="2208.8" x2="1089.1" y2="2218.7" stroke="#2f5a2a" stroke-width="1" opacity="0.75"/>
<line x1="1079.9" y1="2208.8" x2="1080.6" y2="2222.3" stroke="#2f5a2a" stroke-width="1" opacity="0.75"/>
<line x1="1079.9" y1="2208.8" x2="1071.8" y2="2219.6" stroke="#2f5a2a" stroke-width="1" opacity="0.75"/>
<line x1="1079.9" y1="2208.8" x2="1066.7" y2="2211.8" stroke="#2f5a2a" stroke-width="1" opacity="0.75"/>
<line x1="1079.9" y1="2208.8" x2="1067.8" y2="2202.7" stroke="#2f5a2a" stroke-width="1" opacity="0.75"/>
<line x1="1079.9" y1="2208.8" x2="1074.6" y2="2196.3" stroke="#2f5a2a" stroke-width="1" opacity="0.75"/>
<line x1="1079.9" y1="2208.8" x2="1083.9" y2="2195.9" stroke="#2f5a2a" stroke-width="1" opacity="0.75"/>
<line x1="1079.9" y1="2208.8" x2="1091.2" y2="2201.4" stroke="#2f5a2a" stroke-width="1" opacity="0.75"/>
<circle cx="1079.9" cy="2208.8" r="2.5" fill="#b7dc8a" opacity="0.8"/>
<circle cx="1148.9" cy="2230.8" r="16.5" fill="#333" opacity="0.25" filter="url(#blur2)"/>
<g filter="url(#rough2)"><circle cx="1146.9" cy="2227.8" r="16.5" fill="#6fae4a"/>
<circle cx="1146.9" cy="2227.8" r="10.2" fill="#4f9440" opacity="0.8"/></g>
<line x1="1146.9" y1="2227.8" x2="1160.3" y2="2229.4" stroke="#2f5a2a" stroke-width="1" opacity="0.75"/>
<line x1="1146.9" y1="2227.8" x2="1156.1" y2="2237.7" stroke="#2f5a2a" stroke-width="1" opacity="0.75"/>
<line x1="1146.9" y1="2227.8" x2="1147.6" y2="2241.3" stroke="#2f5a2a" stroke-width="1" opacity="0.75"/>
<line x1="1146.9" y1="2227.8" x2="1138.8" y2="2238.6" stroke="#2f5a2a" stroke-width="1" opacity="0.75"/>
<line x1="1146.9" y1="2227.8" x2="1133.7" y2="2230.8" stroke="#2f5a2a" stroke-width="1" opacity="0.75"/>
<line x1="1146.9" y1="2227.8" x2="1134.8" y2="2221.7" stroke="#2f5a2a" stroke-width="1" opacity="0.75"/>
<line x1="1146.9" y1="2227.8" x2="1141.6" y2="2215.3" stroke="#2f5a2a" stroke-width="1" opacity="0.75"/>
<line x1="1146.9" y1="2227.8" x2="1150.9" y2="2214.9" stroke="#2f5a2a" stroke-width="1" opacity="0.75"/>
<line x1="1146.9" y1="2227.8" x2="1158.2" y2="2220.4" stroke="#2f5a2a" stroke-width="1" opacity="0.75"/>
<circle cx="1146.9" cy="2227.8" r="2.5" fill="#b7dc8a" opacity="0.8"/>
<circle cx="1111.9" cy="2239.8" r="16.5" fill="#333" opacity="0.25" filter="url(#blur2)"/>
<g filter="url(#rough2)"><circle cx="1109.9" cy="2236.8" r="16.5" fill="#6fae4a"/>
<circle cx="1109.9" cy="2236.8" r="10.2" fill="#4f9440" opacity="0.8"/></g>
<line x1="1109.9" y1="2236.8" x2="1123.3" y2="2238.4" stroke="#2f5a2a" stroke-width="1" opacity="0.75"/>
<line x1="1109.9" y1="2236.8" x2="1119.1" y2="2246.7" stroke="#2f5a2a" stroke-width="1" opacity="0.75"/>
<line x1="1109.9" y1="2236.8" x2="1110.6" y2="2250.3" stroke="#2f5a2a" stroke-width="1" opacity="0.75"/>
<line x1="1109.9" y1="2236.8" x2="1101.8" y2="2247.6" stroke="#2f5a2a" stroke-width="1" opacity="0.75"/>
<line x1="1109.9" y1="2236.8" x2="1096.7" y2="2239.8" stroke="#2f5a2a" stroke-width="1" opacity="0.75"/>
<line x1="1109.9" y1="2236.8" x2="1097.8" y2="2230.7" stroke="#2f5a2a" stroke-width="1" opacity="0.75"/>
<line x1="1109.9" y1="2236.8" x2="1104.6" y2="2224.3" stroke="#2f5a2a" stroke-width="1" opacity="0.75"/>
<line x1="1109.9" y1="2236.8" x2="1113.9" y2="2223.9" stroke="#2f5a2a" stroke-width="1" opacity="0.75"/>
<line x1="1109.9" y1="2236.8" x2="1121.2" y2="2229.4" stroke="#2f5a2a" stroke-width="1" opacity="0.75"/>
<circle cx="1109.9" cy="2236.8" r="2.5" fill="#b7dc8a" opacity="0.8"/>
<circle cx="1118.9" cy="2197.8" r="26.5" fill="#8fae4e" stroke="#2c3a1c" stroke-width="2.2"/>
<line x1="1104.2" y1="2176.8" x2="1133.6" y2="2176.8" stroke="#6f8c3c" stroke-width="1" transform="rotate(16 1118.9 2197.8)"/>
<line x1="1099.9" y1="2181.0" x2="1137.9" y2="2181.0" stroke="#6f8c3c" stroke-width="1" transform="rotate(16 1118.9 2197.8)"/>
<line x1="1097.1" y1="2185.2" x2="1140.7" y2="2185.2" stroke="#6f8c3c" stroke-width="1" transform="rotate(16 1118.9 2197.8)"/>
<line x1="1095.3" y1="2189.4" x2="1142.5" y2="2189.4" stroke="#6f8c3c" stroke-width="1" transform="rotate(16 1118.9 2197.8)"/>
<line x1="1094.2" y1="2193.6" x2="1143.6" y2="2193.6" stroke="#6f8c3c" stroke-width="1" transform="rotate(16 1118.9 2197.8)"/>
<line x1="1093.9" y1="2197.8" x2="1143.9" y2="2197.8" stroke="#6f8c3c" stroke-width="1" transform="rotate(16 1118.9 2197.8)"/>
<line x1="1094.2" y1="2202.0" x2="1143.6" y2="2202.0" stroke="#6f8c3c" stroke-width="1" transform="rotate(16 1118.9 2197.8)"/>
<line x1="1095.3" y1="2206.2" x2="1142.5" y2="2206.2" stroke="#6f8c3c" stroke-width="1" transform="rotate(16 1118.9 2197.8)"/>
<line x1="1097.1" y1="2210.4" x2="1140.7" y2="2210.4" stroke="#6f8c3c" stroke-width="1" transform="rotate(16 1118.9 2197.8)"/>
<line x1="1099.9" y1="2214.6" x2="1137.9" y2="2214.6" stroke="#6f8c3c" stroke-width="1" transform="rotate(16 1118.9 2197.8)"/>
<line x1="1104.2" y1="2218.8" x2="1133.6" y2="2218.8" stroke="#6f8c3c" stroke-width="1" transform="rotate(16 1118.9 2197.8)"/>
<circle cx="1139.6" cy="2205.3" r="2.6" fill="#a8786a"/>
<circle cx="1128.2" cy="2217.7" r="2.6" fill="#a8786a"/>
<circle cx="1111.4" cy="2218.5" r="2.6" fill="#a8786a"/>
<circle cx="1099.0" cy="2207.1" r="2.6" fill="#a8786a"/>
<circle cx="1098.2" cy="2190.3" r="2.6" fill="#a8786a"/>
<circle cx="1109.6" cy="2177.9" r="2.6" fill="#a8786a"/>
<circle cx="1126.4" cy="2177.1" r="2.6" fill="#a8786a"/>
<circle cx="1138.8" cy="2188.5" r="2.6" fill="#a8786a"/>
<line x1="1208.2" y1="2236.0" x2="1225.0" y2="2180.0" stroke="#7a4a1c" stroke-width="11.5"/>
<line x1="1208.2" y1="2236.0" x2="1225.0" y2="2180.0" stroke="#c98a3a" stroke-width="9" stroke-dasharray="3.2 1.2"/>
<circle cx="1191.0" cy="2224.0" r="16.5" fill="#333" opacity="0.25" filter="url(#blur2)"/>
<g filter="url(#rough2)"><circle cx="1189.0" cy="2221.0" r="16.5" fill="#6fae4a"/>
<circle cx="1189.0" cy="2221.0" r="10.2" fill="#4f9440" opacity="0.8"/></g>
<line x1="1189.0" y1="2221.0" x2="1202.4" y2="2222.6" stroke="#2f5a2a" stroke-width="1" opacity="0.75"/>
<line x1="1189.0" y1="2221.0" x2="1198.2" y2="2230.9" stroke="#2f5a2a" stroke-width="1" opacity="0.75"/>
<line x1="1189.0" y1="2221.0" x2="1189.7" y2="2234.5" stroke="#2f5a2a" stroke-width="1" opacity="0.75"/>
<line x1="1189.0" y1="2221.0" x2="1180.9" y2="2231.8" stroke="#2f5a2a" stroke-width="1" opacity="0.75"/>
<line x1="1189.0" y1="2221.0" x2="1175.8" y2="2224.0" stroke="#2f5a2a" stroke-width="1" opacity="0.75"/>
<line x1="1189.0" y1="2221.0" x2="1176.9" y2="2214.9" stroke="#2f5a2a" stroke-width="1" opacity="0.75"/>
<line x1="1189.0" y1="2221.0" x2="1183.7" y2="2208.5" stroke="#2f5a2a" stroke-width="1" opacity="0.75"/>
<line x1="1189.0" y1="2221.0" x2="1193.0" y2="2208.1" stroke="#2f5a2a" stroke-width="1" opacity="0.75"/>
<line x1="1189.0" y1="2221.0" x2="1200.3" y2="2213.6" stroke="#2f5a2a" stroke-width="1" opacity="0.75"/>
<circle cx="1189.0" cy="2221.0" r="2.5" fill="#b7dc8a" opacity="0.8"/>
<circle cx="1180.0" cy="2266.0" r="16.5" fill="#333" opacity="0.25" filter="url(#blur2)"/>
<g filter="url(#rough2)"><circle cx="1178.0" cy="2263.0" r="16.5" fill="#6fae4a"/>
<circle cx="1178.0" cy="2263.0" r="10.2" fill="#4f9440" opacity="0.8"/></g>
<line x1="1178.0" y1="2263.0" x2="1191.4" y2="2264.6" stroke="#2f5a2a" stroke-width="1" opacity="0.75"/>
<line x1="1178.0" y1="2263.0" x2="1187.2" y2="2272.9" stroke="#2f5a2a" stroke-width="1" opacity="0.75"/>
<line x1="1178.0" y1="2263.0" x2="1178.7" y2="2276.5" stroke="#2f5a2a" stroke-width="1" opacity="0.75"/>
<line x1="1178.0" y1="2263.0" x2="1169.9" y2="2273.8" stroke="#2f5a2a" stroke-width="1" opacity="0.75"/>
<line x1="1178.0" y1="2263.0" x2="1164.8" y2="2266.0" stroke="#2f5a2a" stroke-width="1" opacity="0.75"/>
<line x1="1178.0" y1="2263.0" x2="1165.9" y2="2256.9" stroke="#2f5a2a" stroke-width="1" opacity="0.75"/>
<line x1="1178.0" y1="2263.0" x2="1172.7" y2="2250.5" stroke="#2f5a2a" stroke-width="1" opacity="0.75"/>
<line x1="1178.0" y1="2263.0" x2="1182.0" y2="2250.1" stroke="#2f5a2a" stroke-width="1" opacity="0.75"/>
<line x1="1178.0" y1="2263.0" x2="1189.3" y2="2255.6" stroke="#2f5a2a" stroke-width="1" opacity="0.75"/>
<circle cx="1178.0" cy="2263.0" r="2.5" fill="#b7dc8a" opacity="0.8"/>
<circle cx="1200.0" cy="2293.0" r="16.5" fill="#333" opacity="0.25" filter="url(#blur2)"/>
<g filter="url(#rough2)"><circle cx="1198.0" cy="2290.0" r="16.5" fill="#6fae4a"/>
<circle cx="1198.0" cy="2290.0" r="10.2" fill="#4f9440" opacity="0.8"/></g>
<line x1="1198.0" y1="2290.0" x2="1211.4" y2="2291.6" stroke="#2f5a2a" stroke-width="1" opacity="0.75"/>
<line x1="1198.0" y1="2290.0" x2="1207.2" y2="2299.9" stroke="#2f5a2a" stroke-width="1" opacity="0.75"/>
<line x1="1198.0" y1="2290.0" x2="1198.7" y2="2303.5" stroke="#2f5a2a" stroke-width="1" opacity="0.75"/>
<line x1="1198.0" y1="2290.0" x2="1189.9" y2="2300.8" stroke="#2f5a2a" stroke-width="1" opacity="0.75"/>
<line x1="1198.0" y1="2290.0" x2="1184.8" y2="2293.0" stroke="#2f5a2a" stroke-width="1" opacity="0.75"/>
<line x1="1198.0" y1="2290.0" x2="1185.9" y2="2283.9" stroke="#2f5a2a" stroke-width="1" opacity="0.75"/>
<line x1="1198.0" y1="2290.0" x2="1192.7" y2="2277.5" stroke="#2f5a2a" stroke-width="1" opacity="0.75"/>
<line x1="1198.0" y1="2290.0" x2="1202.0" y2="2277.1" stroke="#2f5a2a" stroke-width="1" opacity="0.75"/>
<line x1="1198.0" y1="2290.0" x2="1209.3" y2="2282.6" stroke="#2f5a2a" stroke-width="1" opacity="0.75"/>
<circle cx="1198.0" cy="2290.0" r="2.5" fill="#b7dc8a" opacity="0.8"/>
<circle cx="1204.0" cy="2250.0" r="26.5" fill="#8fae4e" stroke="#2c3a1c" stroke-width="2.2"/>
<line x1="1189.3" y1="2229.0" x2="1218.7" y2="2229.0" stroke="#6f8c3c" stroke-width="1" transform="rotate(16 1204.0 2250.0)"/>
<line x1="1185.0" y1="2233.2" x2="1223.0" y2="2233.2" stroke="#6f8c3c" stroke-width="1" transform="rotate(16 1204.0 2250.0)"/>
<line x1="1182.2" y1="2237.4" x2="1225.8" y2="2237.4" stroke="#6f8c3c" stroke-width="1" transform="rotate(16 1204.0 2250.0)"/>
<line x1="1180.4" y1="2241.6" x2="1227.6" y2="2241.6" stroke="#6f8c3c" stroke-width="1" transform="rotate(16 1204.0 2250.0)"/>
<line x1="1179.3" y1="2245.8" x2="1228.7" y2="2245.8" stroke="#6f8c3c" stroke-width="1" transform="rotate(16 1204.0 2250.0)"/>
<line x1="1179.0" y1="2250.0" x2="1229.0" y2="2250.0" stroke="#6f8c3c" stroke-width="1" transform="rotate(16 1204.0 2250.0)"/>
<line x1="1179.3" y1="2254.2" x2="1228.7" y2="2254.2" stroke="#6f8c3c" stroke-width="1" transform="rotate(16 1204.0 2250.0)"/>
<line x1="1180.4" y1="2258.4" x2="1227.6" y2="2258.4" stroke="#6f8c3c" stroke-width="1" transform="rotate(16 1204.0 2250.0)"/>
<line x1="1182.2" y1="2262.6" x2="1225.8" y2="2262.6" stroke="#6f8c3c" stroke-width="1" transform="rotate(16 1204.0 2250.0)"/>
<line x1="1185.0" y1="2266.8" x2="1223.0" y2="2266.8" stroke="#6f8c3c" stroke-width="1" transform="rotate(16 1204.0 2250.0)"/>
<line x1="1189.3" y1="2271.0" x2="1218.7" y2="2271.0" stroke="#6f8c3c" stroke-width="1" transform="rotate(16 1204.0 2250.0)"/>
<circle cx="1224.7" cy="2257.5" r="2.6" fill="#a8786a"/>
<circle cx="1213.3" cy="2269.9" r="2.6" fill="#a8786a"/>
<circle cx="1196.5" cy="2270.7" r="2.6" fill="#a8786a"/>
<circle cx="1184.1" cy="2259.3" r="2.6" fill="#a8786a"/>
<circle cx="1183.3" cy="2242.5" r="2.6" fill="#a8786a"/>
<circle cx="1194.7" cy="2230.1" r="2.6" fill="#a8786a"/>
<circle cx="1211.5" cy="2229.3" r="2.6" fill="#a8786a"/>
<circle cx="1223.9" cy="2240.7" r="2.6" fill="#a8786a"/>
<circle cx="455.0" cy="352.0" r="14" fill="#444" opacity="0.35" filter="url(#blur2)" transform="translate(2.5,3)"/>
<circle cx="455.0" cy="352.0" r="14" fill="url(#bg)" filter="url(#bushf)"/>
<circle cx="439.5" cy="437.0" r="14" fill="#444" opacity="0.35" filter="url(#blur2)" transform="translate(2.5,3)"/>
<circle cx="439.5" cy="437.0" r="14" fill="url(#bg)" filter="url(#bushf)"/>
<circle cx="440.0" cy="535.0" r="14" fill="#444" opacity="0.35" filter="url(#blur2)" transform="translate(2.5,3)"/>
<circle cx="440.0" cy="535.0" r="14" fill="url(#bg)" filter="url(#bushf)"/>
<circle cx="437.0" cy="937.0" r="14" fill="#444" opacity="0.35" filter="url(#blur2)" transform="translate(2.5,3)"/>
<circle cx="437.0" cy="937.0" r="14" fill="url(#bg)" filter="url(#bushf)"/>
<circle cx="420.0" cy="1040.0" r="14" fill="#444" opacity="0.35" filter="url(#blur2)" transform="translate(2.5,3)"/>
<circle cx="420.0" cy="1040.0" r="14" fill="url(#bg)" filter="url(#bushf)"/>
<circle cx="418.0" cy="1133.0" r="14" fill="#444" opacity="0.35" filter="url(#blur2)" transform="translate(2.5,3)"/>
<circle cx="418.0" cy="1133.0" r="14" fill="url(#bg)" filter="url(#bushf)"/>
<circle cx="424.0" cy="1228.0" r="14" fill="#444" opacity="0.35" filter="url(#blur2)" transform="translate(2.5,3)"/>
<circle cx="424.0" cy="1228.0" r="14" fill="url(#bg)" filter="url(#bushf)"/>
<circle cx="397.0" cy="1349.0" r="14" fill="#444" opacity="0.35" filter="url(#blur2)" transform="translate(2.5,3)"/>
<circle cx="397.0" cy="1349.0" r="14" fill="url(#bg)" filter="url(#bushf)"/>
<circle cx="399.0" cy="1454.0" r="14" fill="#444" opacity="0.35" filter="url(#blur2)" transform="translate(2.5,3)"/>
<circle cx="399.0" cy="1454.0" r="14" fill="url(#bg)" filter="url(#bushf)"/>
<circle cx="405.0" cy="1546.0" r="14" fill="#444" opacity="0.35" filter="url(#blur2)" transform="translate(2.5,3)"/>
<circle cx="405.0" cy="1546.0" r="14" fill="url(#bg)" filter="url(#bushf)"/>
<circle cx="384.0" cy="1668.0" r="14" fill="#444" opacity="0.35" filter="url(#blur2)" transform="translate(2.5,3)"/>
<circle cx="384.0" cy="1668.0" r="14" fill="url(#bg)" filter="url(#bushf)"/>
<circle cx="385.0" cy="1789.0" r="14" fill="#444" opacity="0.35" filter="url(#blur2)" transform="translate(2.5,3)"/>
<circle cx="385.0" cy="1789.0" r="14" fill="url(#bg)" filter="url(#bushf)"/>
<path d="M1230,2362 L1230.0,2362.0C1205.2,2345.0 1180.7,2327.5 1155.6,2311.0C1104.1,2277.2 1052.3,2243.6 1000.0,2211.0C956.0,2183.6 912.0,2156.1 866.7,2131.0C829.0,2110.1 790.0,2091.4 751.0,2073.0C718.4,2057.7 685.4,2043.5 652.0,2030.0C635.0,2023.1 617.4,2017.8 600.0,2012.0C583.4,2006.5 566.7,2001.3 550.0,1996.0C515.4,1985.0 481.0,1973.5 446.3,1963.0C416.8,1954.1 387.0,1946.3 357.4,1938.0C334.6,1931.6 311.8,1925.3 289.0,1919.0 L289.5,1918.0 L307.5,1600.0 L317.0,1450.0 L332.5,1150.0 L343.3,960.0 L365.2,560.0 L376.7,328.3 L501.5,155 L1113.3,338.3 L1098,361.7 L1088,393 L1175,430 L1260,455" fill="none" stroke="#ff8f9c" stroke-width="8.5" opacity="0.55" filter="url(#blur1)" stroke-linejoin="round"/>
<path d="M1230,2362 L1230.0,2362.0C1205.2,2345.0 1180.7,2327.5 1155.6,2311.0C1104.1,2277.2 1052.3,2243.6 1000.0,2211.0C956.0,2183.6 912.0,2156.1 866.7,2131.0C829.0,2110.1 790.0,2091.4 751.0,2073.0C718.4,2057.7 685.4,2043.5 652.0,2030.0C635.0,2023.1 617.4,2017.8 600.0,2012.0C583.4,2006.5 566.7,2001.3 550.0,1996.0C515.4,1985.0 481.0,1973.5 446.3,1963.0C416.8,1954.1 387.0,1946.3 357.4,1938.0C334.6,1931.6 311.8,1925.3 289.0,1919.0 L289.5,1918.0 L307.5,1600.0 L317.0,1450.0 L332.5,1150.0 L343.3,960.0 L365.2,560.0 L376.7,328.3 L501.5,155 L1113.3,338.3 L1098,361.7 L1088,393 L1175,430 L1260,455" fill="none" stroke="#f2b36a" stroke-width="7" opacity="0.8" stroke-linejoin="miter" transform="translate(1.6,0.6)"/>
<path d="M1230,2362 L1230.0,2362.0C1205.2,2345.0 1180.7,2327.5 1155.6,2311.0C1104.1,2277.2 1052.3,2243.6 1000.0,2211.0C956.0,2183.6 912.0,2156.1 866.7,2131.0C829.0,2110.1 790.0,2091.4 751.0,2073.0C718.4,2057.7 685.4,2043.5 652.0,2030.0C635.0,2023.1 617.4,2017.8 600.0,2012.0C583.4,2006.5 566.7,2001.3 550.0,1996.0C515.4,1985.0 481.0,1973.5 446.3,1963.0C416.8,1954.1 387.0,1946.3 357.4,1938.0C334.6,1931.6 311.8,1925.3 289.0,1919.0 L289.5,1918.0 L307.5,1600.0 L317.0,1450.0 L332.5,1150.0 L343.3,960.0 L365.2,560.0 L376.7,328.3 L501.5,155 L1113.3,338.3 L1098,361.7 L1088,393 L1175,430 L1260,455" fill="none" stroke="#a3362a" stroke-width="4.6" stroke-linejoin="miter"/>
</g>
<polygon points="1177.8,420 1123,630 1065.7,850 1015.7,1016.7 950.9,1250 908.3,1390 859.3,1550 802.2,1750 723.5,2013.3 1400,2221.5 1400,440" fill="#fff"/>
<g clip-path="url(#clipx)">
<polyline points="150.0,87.0 177.8,113.3 157.0,134.5 157.0,141.0 266.7,228.9 351.1,278.9 349.9,310.0 264.8,1885.0" fill="none" stroke="#000" stroke-width="5.8" stroke-linejoin="miter"/>
<circle cx="285.7" cy="129.2" r="24.2" fill="#2a2a2a" opacity="0.62" filter="url(#blur3)"/>
<g filter="url(#leaf)">
<circle cx="276.7" cy="118.9" r="25.0" fill="url(#tg)"/>
<circle cx="282.5" cy="120.8" r="4.8" fill="#84b24e" opacity="0.45"/>
<circle cx="275.5" cy="123.6" r="3.4" fill="#5c8c32" opacity="0.45"/>
<circle cx="264.1" cy="113.9" r="3.3" fill="#36591f" opacity="0.45"/>
<circle cx="271.2" cy="112.3" r="4.8" fill="#3f6a22" opacity="0.45"/>
<circle cx="265.2" cy="114.0" r="4.6" fill="#36591f" opacity="0.45"/>
<circle cx="269.9" cy="122.2" r="4.9" fill="#466f28" opacity="0.45"/>
<circle cx="272.5" cy="123.9" r="3.6" fill="#84b24e" opacity="0.45"/>
<circle cx="283.1" cy="122.5" r="4.6" fill="#5c8c32" opacity="0.45"/>
<circle cx="275.8" cy="111.8" r="6.2" fill="#3f6a22" opacity="0.45"/>
<circle cx="271.5" cy="118.5" r="4.1" fill="#466f28" opacity="0.45"/>
<circle cx="276.7" cy="118.9" r="25.0" fill="url(#tsh)"/>
</g>
<circle cx="244.2" cy="165.5" r="23.3" fill="#2a2a2a" opacity="0.62" filter="url(#blur3)"/>
<g filter="url(#leaf)">
<circle cx="235.6" cy="155.6" r="24.0" fill="url(#tg)"/>
<circle cx="220.3" cy="163.8" r="3.1" fill="#36591f" opacity="0.45"/>
<circle cx="221.2" cy="148.5" r="3.9" fill="#7aa846" opacity="0.45"/>
<circle cx="229.6" cy="163.8" r="5.4" fill="#3f6a22" opacity="0.45"/>
<circle cx="244.8" cy="141.1" r="4.4" fill="#7aa846" opacity="0.45"/>
<circle cx="248.3" cy="161.1" r="3.8" fill="#36591f" opacity="0.45"/>
<circle cx="250.8" cy="154.9" r="3.8" fill="#466f28" opacity="0.45"/>
<circle cx="241.5" cy="150.5" r="5.8" fill="#5c8c32" opacity="0.45"/>
<circle cx="237.7" cy="159.3" r="3.1" fill="#5c8c32" opacity="0.45"/>
<circle cx="239.9" cy="160.1" r="4.1" fill="#466f28" opacity="0.45"/>
<circle cx="235.6" cy="155.6" r="24.0" fill="url(#tsh)"/>
</g>
<circle cx="292.3" cy="187.0" r="24.2" fill="#2a2a2a" opacity="0.62" filter="url(#blur3)"/>
<g filter="url(#leaf)">
<circle cx="283.3" cy="176.7" r="25.0" fill="url(#tg)"/>
<circle cx="291.9" cy="181.5" r="4.8" fill="#84b24e" opacity="0.45"/>
<circle cx="290.3" cy="161.7" r="3.9" fill="#466f28" opacity="0.45"/>
<circle cx="296.8" cy="175.5" r="4.2" fill="#84b24e" opacity="0.45"/>
<circle cx="286.4" cy="181.1" r="3.8" fill="#84b24e" opacity="0.45"/>
<circle cx="299.3" cy="177.9" r="3.6" fill="#5c8c32" opacity="0.45"/>
<circle cx="292.6" cy="176.9" r="4.2" fill="#36591f" opacity="0.45"/>
<circle cx="281.4" cy="180.8" r="5.8" fill="#36591f" opacity="0.45"/>
<circle cx="275.1" cy="164.7" r="4.5" fill="#7aa846" opacity="0.45"/>
<circle cx="285.9" cy="168.2" r="4.3" fill="#3f6a22" opacity="0.45"/>
<circle cx="274.4" cy="177.7" r="3.6" fill="#84b24e" opacity="0.45"/>
<circle cx="283.3" cy="176.7" r="25.0" fill="url(#tsh)"/>
</g>
<circle cx="355.8" cy="215.0" r="39.8" fill="#2a2a2a" opacity="0.62" filter="url(#blur3)"/>
<g filter="url(#leaf)">
<circle cx="341.0" cy="198.0" r="41.0" fill="url(#tg)"/>
<circle cx="334.5" cy="200.6" r="8.1" fill="#3f6a22" opacity="0.45"/>
<circle cx="349.1" cy="198.0" r="5.5" fill="#5c8c32" opacity="0.45"/>
<circle cx="336.5" cy="194.1" r="6.0" fill="#466f28" opacity="0.45"/>
<circle cx="347.4" cy="206.7" r="6.8" fill="#5c8c32" opacity="0.45"/>
<circle cx="333.9" cy="199.2" r="7.5" fill="#466f28" opacity="0.45"/>
<circle cx="328.7" cy="199.5" r="5.7" fill="#7aa846" opacity="0.45"/>
<circle cx="334.9" cy="207.3" r="9.3" fill="#84b24e" opacity="0.45"/>
<circle cx="331.5" cy="197.0" r="10.0" fill="#5c8c32" opacity="0.45"/>
<circle cx="352.2" cy="212.8" r="5.1" fill="#36591f" opacity="0.45"/>
<circle cx="334.7" cy="218.3" r="5.4" fill="#5c8c32" opacity="0.45"/>
<circle cx="312.9" cy="194.7" r="6.8" fill="#84b24e" opacity="0.45"/>
<circle cx="316.7" cy="192.9" r="6.7" fill="#84b24e" opacity="0.45"/>
<circle cx="322.0" cy="181.6" r="9.0" fill="#84b24e" opacity="0.45"/>
<circle cx="341.0" cy="198.0" r="41.0" fill="url(#tsh)"/>
</g>
<circle cx="428.6" cy="234.9" r="23.3" fill="#2a2a2a" opacity="0.62" filter="url(#blur3)"/>
<g filter="url(#leaf)">
<circle cx="420.0" cy="225.0" r="24.0" fill="url(#tg)"/>
<circle cx="425.2" cy="210.8" r="5.2" fill="#84b24e" opacity="0.45"/>
<circle cx="423.1" cy="234.6" r="5.2" fill="#3f6a22" opacity="0.45"/>
<circle cx="422.4" cy="215.5" r="3.5" fill="#36591f" opacity="0.45"/>
<circle cx="429.0" cy="222.5" r="5.8" fill="#5c8c32" opacity="0.45"/>
<circle cx="427.8" cy="222.7" r="3.6" fill="#84b24e" opacity="0.45"/>
<circle cx="412.5" cy="226.4" r="4.4" fill="#36591f" opacity="0.45"/>
<circle cx="425.3" cy="216.7" r="4.9" fill="#7aa846" opacity="0.45"/>
<circle cx="430.9" cy="231.5" r="5.7" fill="#7aa846" opacity="0.45"/>
<circle cx="420.0" cy="215.1" r="3.4" fill="#7aa846" opacity="0.45"/>
<circle cx="420.0" cy="225.0" r="24.0" fill="url(#tsh)"/>
</g>
<circle cx="380.0" cy="302.4" r="24.2" fill="#2a2a2a" opacity="0.62" filter="url(#blur3)"/>
<g filter="url(#leaf)">
<circle cx="371.0" cy="292.0" r="25.0" fill="url(#tg)"/>
<circle cx="363.3" cy="305.5" r="6.2" fill="#466f28" opacity="0.45"/>
<circle cx="356.8" cy="295.3" r="3.3" fill="#84b24e" opacity="0.45"/>
<circle cx="373.2" cy="296.0" r="3.5" fill="#466f28" opacity="0.45"/>
<circle cx="372.7" cy="287.4" r="5.7" fill="#466f28" opacity="0.45"/>
<circle cx="366.5" cy="285.2" r="4.8" fill="#84b24e" opacity="0.45"/>
<circle cx="386.3" cy="294.1" r="5.4" fill="#3f6a22" opacity="0.45"/>
<circle cx="353.6" cy="289.1" r="4.4" fill="#84b24e" opacity="0.45"/>
<circle cx="373.7" cy="286.7" r="3.8" fill="#5c8c32" opacity="0.45"/>
<circle cx="356.1" cy="291.9" r="4.1" fill="#36591f" opacity="0.45"/>
<circle cx="367.0" cy="294.3" r="6.0" fill="#5c8c32" opacity="0.45"/>
<circle cx="371.0" cy="292.0" r="25.0" fill="url(#tsh)"/>
</g>
<circle cx="433.0" cy="140.9" r="23.3" fill="#2a2a2a" opacity="0.62" filter="url(#blur3)"/>
<g filter="url(#leaf)">
<circle cx="424.4" cy="131.0" r="24.0" fill="url(#tg)"/>
<circle cx="434.6" cy="123.4" r="5.4" fill="#36591f" opacity="0.45"/>
<circle cx="409.7" cy="139.0" r="4.4" fill="#36591f" opacity="0.45"/>
<circle cx="430.4" cy="139.5" r="5.6" fill="#84b24e" opacity="0.45"/>
<circle cx="413.1" cy="121.9" r="3.3" fill="#84b24e" opacity="0.45"/>
<circle cx="410.9" cy="133.3" r="4.6" fill="#5c8c32" opacity="0.45"/>
<circle cx="420.0" cy="121.3" r="4.4" fill="#3f6a22" opacity="0.45"/>
<circle cx="426.8" cy="128.8" r="3.5" fill="#3f6a22" opacity="0.45"/>
<circle cx="425.8" cy="120.8" r="4.6" fill="#3f6a22" opacity="0.45"/>
<circle cx="413.2" cy="135.2" r="4.5" fill="#36591f" opacity="0.45"/>
<circle cx="424.4" cy="131.0" r="24.0" fill="url(#tsh)"/>
</g>
<circle cx="474.6" cy="108.4" r="23.3" fill="#2a2a2a" opacity="0.62" filter="url(#blur3)"/>
<g filter="url(#leaf)">
<circle cx="466.0" cy="98.5" r="24.0" fill="url(#tg)"/>
<circle cx="468.1" cy="104.9" r="4.5" fill="#466f28" opacity="0.45"/>
<circle cx="459.7" cy="98.2" r="4.5" fill="#5c8c32" opacity="0.45"/>
<circle cx="480.4" cy="90.9" r="3.5" fill="#466f28" opacity="0.45"/>
<circle cx="468.8" cy="101.8" r="4.3" fill="#3f6a22" opacity="0.45"/>
<circle cx="461.7" cy="90.5" r="3.5" fill="#5c8c32" opacity="0.45"/>
<circle cx="469.5" cy="82.5" r="3.4" fill="#7aa846" opacity="0.45"/>
<circle cx="461.0" cy="92.1" r="3.7" fill="#84b24e" opacity="0.45"/>
<circle cx="471.7" cy="97.3" r="5.9" fill="#466f28" opacity="0.45"/>
<circle cx="469.7" cy="95.2" r="5.0" fill="#84b24e" opacity="0.45"/>
<circle cx="466.0" cy="98.5" r="24.0" fill="url(#tsh)"/>
</g>
<circle cx="474.6" cy="161.9" r="23.3" fill="#2a2a2a" opacity="0.62" filter="url(#blur3)"/>
<g filter="url(#leaf)">
<circle cx="466.0" cy="152.0" r="24.0" fill="url(#tg)"/>
<circle cx="470.8" cy="159.8" r="4.5" fill="#5c8c32" opacity="0.45"/>
<circle cx="459.0" cy="155.8" r="3.2" fill="#5c8c32" opacity="0.45"/>
<circle cx="477.0" cy="153.3" r="4.3" fill="#3f6a22" opacity="0.45"/>
<circle cx="458.2" cy="159.0" r="3.8" fill="#3f6a22" opacity="0.45"/>
<circle cx="478.7" cy="162.9" r="3.6" fill="#3f6a22" opacity="0.45"/>
<circle cx="471.7" cy="155.3" r="5.7" fill="#84b24e" opacity="0.45"/>
<circle cx="465.4" cy="156.4" r="4.2" fill="#7aa846" opacity="0.45"/>
<circle cx="468.7" cy="146.2" r="3.3" fill="#36591f" opacity="0.45"/>
<circle cx="454.0" cy="146.3" r="3.2" fill="#3f6a22" opacity="0.45"/>
<circle cx="466.0" cy="152.0" r="24.0" fill="url(#tsh)"/>
</g>
<circle cx="515.3" cy="118.1" r="21.3" fill="#2a2a2a" opacity="0.62" filter="url(#blur3)"/>
<g filter="url(#leaf)">
<circle cx="507.4" cy="109.0" r="22.0" fill="url(#tg)"/>
<circle cx="508.9" cy="104.4" r="5.2" fill="#5c8c32" opacity="0.45"/>
<circle cx="517.8" cy="104.7" r="4.9" fill="#3f6a22" opacity="0.45"/>
<circle cx="503.2" cy="105.6" r="3.4" fill="#3f6a22" opacity="0.45"/>
<circle cx="500.6" cy="111.0" r="4.2" fill="#5c8c32" opacity="0.45"/>
<circle cx="505.4" cy="107.0" r="4.7" fill="#3f6a22" opacity="0.45"/>
<circle cx="513.2" cy="107.9" r="3.2" fill="#5c8c32" opacity="0.45"/>
<circle cx="500.6" cy="101.9" r="3.2" fill="#466f28" opacity="0.45"/>
<circle cx="502.7" cy="109.0" r="3.6" fill="#3f6a22" opacity="0.45"/>
<circle cx="510.1" cy="108.9" r="2.7" fill="#36591f" opacity="0.45"/>
<circle cx="507.4" cy="109.0" r="22.0" fill="url(#tsh)"/>
</g>
<circle cx="547.9" cy="143.1" r="21.3" fill="#2a2a2a" opacity="0.62" filter="url(#blur3)"/>
<g filter="url(#leaf)">
<circle cx="540.0" cy="134.0" r="22.0" fill="url(#tg)"/>
<circle cx="535.3" cy="132.5" r="4.0" fill="#466f28" opacity="0.45"/>
<circle cx="550.9" cy="142.6" r="3.9" fill="#466f28" opacity="0.45"/>
<circle cx="525.7" cy="129.8" r="5.4" fill="#5c8c32" opacity="0.45"/>
<circle cx="533.8" cy="119.0" r="3.6" fill="#7aa846" opacity="0.45"/>
<circle cx="539.4" cy="129.8" r="5.5" fill="#3f6a22" opacity="0.45"/>
<circle cx="541.2" cy="131.9" r="4.4" fill="#5c8c32" opacity="0.45"/>
<circle cx="537.3" cy="135.3" r="4.5" fill="#466f28" opacity="0.45"/>
<circle cx="548.1" cy="125.4" r="3.4" fill="#84b24e" opacity="0.45"/>
<circle cx="539.0" cy="131.3" r="3.2" fill="#5c8c32" opacity="0.45"/>
<circle cx="540.0" cy="134.0" r="22.0" fill="url(#tsh)"/>
</g>
<circle cx="639.3" cy="180.9" r="40.3" fill="#2a2a2a" opacity="0.62" filter="url(#blur3)"/>
<g filter="url(#leaf)">
<circle cx="624.4" cy="163.7" r="41.5" fill="url(#tg)"/>
<circle cx="613.8" cy="167.5" r="10.2" fill="#36591f" opacity="0.45"/>
<circle cx="622.1" cy="168.2" r="9.7" fill="#84b24e" opacity="0.45"/>
<circle cx="621.8" cy="167.0" r="7.0" fill="#466f28" opacity="0.45"/>
<circle cx="620.5" cy="185.2" r="6.3" fill="#3f6a22" opacity="0.45"/>
<circle cx="646.4" cy="177.9" r="5.8" fill="#36591f" opacity="0.45"/>
<circle cx="629.0" cy="164.9" r="6.6" fill="#84b24e" opacity="0.45"/>
<circle cx="650.3" cy="178.9" r="9.6" fill="#84b24e" opacity="0.45"/>
<circle cx="611.5" cy="144.1" r="9.7" fill="#466f28" opacity="0.45"/>
<circle cx="626.5" cy="140.2" r="7.6" fill="#5c8c32" opacity="0.45"/>
<circle cx="620.9" cy="142.5" r="5.2" fill="#7aa846" opacity="0.45"/>
<circle cx="640.8" cy="150.5" r="8.9" fill="#36591f" opacity="0.45"/>
<circle cx="636.1" cy="177.7" r="7.7" fill="#3f6a22" opacity="0.45"/>
<circle cx="633.6" cy="146.0" r="9.8" fill="#7aa846" opacity="0.45"/>
<circle cx="624.4" cy="163.7" r="41.5" fill="url(#tsh)"/>
</g>
<circle cx="697.0" cy="194.8" r="24.2" fill="#2a2a2a" opacity="0.62" filter="url(#blur3)"/>
<g filter="url(#leaf)">
<circle cx="688.0" cy="184.4" r="25.0" fill="url(#tg)"/>
<circle cx="700.5" cy="180.9" r="3.3" fill="#3f6a22" opacity="0.45"/>
<circle cx="693.6" cy="190.6" r="3.3" fill="#466f28" opacity="0.45"/>
<circle cx="676.1" cy="179.8" r="5.0" fill="#7aa846" opacity="0.45"/>
<circle cx="688.2" cy="191.2" r="4.5" fill="#3f6a22" opacity="0.45"/>
<circle cx="687.9" cy="173.7" r="4.7" fill="#7aa846" opacity="0.45"/>
<circle cx="673.6" cy="182.0" r="4.5" fill="#3f6a22" opacity="0.45"/>
<circle cx="691.6" cy="179.2" r="5.5" fill="#84b24e" opacity="0.45"/>
<circle cx="686.8" cy="166.1" r="4.6" fill="#466f28" opacity="0.45"/>
<circle cx="703.3" cy="192.4" r="3.9" fill="#3f6a22" opacity="0.45"/>
<circle cx="678.4" cy="175.7" r="3.3" fill="#84b24e" opacity="0.45"/>
<circle cx="688.0" cy="184.4" r="25.0" fill="url(#tsh)"/>
</g>
<circle cx="735.9" cy="181.7" r="21.3" fill="#2a2a2a" opacity="0.62" filter="url(#blur3)"/>
<g filter="url(#leaf)">
<circle cx="728.0" cy="172.6" r="22.0" fill="url(#tg)"/>
<circle cx="722.3" cy="182.6" r="4.6" fill="#36591f" opacity="0.45"/>
<circle cx="725.8" cy="171.6" r="2.8" fill="#5c8c32" opacity="0.45"/>
<circle cx="731.6" cy="172.0" r="3.3" fill="#466f28" opacity="0.45"/>
<circle cx="725.6" cy="181.9" r="4.0" fill="#466f28" opacity="0.45"/>
<circle cx="729.8" cy="156.3" r="4.2" fill="#5c8c32" opacity="0.45"/>
<circle cx="743.4" cy="170.5" r="2.7" fill="#466f28" opacity="0.45"/>
<circle cx="736.4" cy="177.0" r="5.5" fill="#5c8c32" opacity="0.45"/>
<circle cx="716.4" cy="182.6" r="5.3" fill="#3f6a22" opacity="0.45"/>
<circle cx="724.3" cy="170.5" r="4.1" fill="#5c8c32" opacity="0.45"/>
<circle cx="728.0" cy="172.6" r="22.0" fill="url(#tsh)"/>
</g>
<circle cx="757.6" cy="214.9" r="23.3" fill="#2a2a2a" opacity="0.62" filter="url(#blur3)"/>
<g filter="url(#leaf)">
<circle cx="749.0" cy="205.0" r="24.0" fill="url(#tg)"/>
<circle cx="759.2" cy="216.2" r="4.5" fill="#3f6a22" opacity="0.45"/>
<circle cx="747.3" cy="199.2" r="5.7" fill="#466f28" opacity="0.45"/>
<circle cx="745.2" cy="208.0" r="5.8" fill="#7aa846" opacity="0.45"/>
<circle cx="742.2" cy="207.2" r="3.3" fill="#5c8c32" opacity="0.45"/>
<circle cx="745.9" cy="208.0" r="3.9" fill="#5c8c32" opacity="0.45"/>
<circle cx="749.1" cy="189.5" r="3.3" fill="#84b24e" opacity="0.45"/>
<circle cx="745.2" cy="189.0" r="3.8" fill="#5c8c32" opacity="0.45"/>
<circle cx="756.8" cy="208.4" r="5.6" fill="#3f6a22" opacity="0.45"/>
<circle cx="743.2" cy="212.0" r="3.7" fill="#3f6a22" opacity="0.45"/>
<circle cx="749.0" cy="205.0" r="24.0" fill="url(#tsh)"/>
</g>
<circle cx="784.6" cy="159.9" r="23.3" fill="#2a2a2a" opacity="0.62" filter="url(#blur3)"/>
<g filter="url(#leaf)">
<circle cx="776.0" cy="150.0" r="24.0" fill="url(#tg)"/>
<circle cx="775.4" cy="153.1" r="4.9" fill="#7aa846" opacity="0.45"/>
<circle cx="781.8" cy="147.5" r="3.7" fill="#36591f" opacity="0.45"/>
<circle cx="770.2" cy="163.3" r="5.3" fill="#466f28" opacity="0.45"/>
<circle cx="787.3" cy="140.0" r="4.8" fill="#36591f" opacity="0.45"/>
<circle cx="763.0" cy="145.9" r="3.0" fill="#7aa846" opacity="0.45"/>
<circle cx="765.8" cy="156.4" r="3.3" fill="#5c8c32" opacity="0.45"/>
<circle cx="759.4" cy="151.5" r="4.6" fill="#84b24e" opacity="0.45"/>
<circle cx="768.4" cy="151.3" r="3.8" fill="#7aa846" opacity="0.45"/>
<circle cx="775.1" cy="137.4" r="4.1" fill="#84b24e" opacity="0.45"/>
<circle cx="776.0" cy="150.0" r="24.0" fill="url(#tsh)"/>
</g>
<circle cx="811.6" cy="206.9" r="23.3" fill="#2a2a2a" opacity="0.62" filter="url(#blur3)"/>
<g filter="url(#leaf)">
<circle cx="803.0" cy="197.0" r="24.0" fill="url(#tg)"/>
<circle cx="799.5" cy="207.5" r="4.1" fill="#84b24e" opacity="0.45"/>
<circle cx="800.8" cy="194.2" r="4.4" fill="#466f28" opacity="0.45"/>
<circle cx="794.0" cy="194.1" r="3.9" fill="#466f28" opacity="0.45"/>
<circle cx="793.2" cy="201.8" r="3.6" fill="#84b24e" opacity="0.45"/>
<circle cx="800.9" cy="200.2" r="3.6" fill="#5c8c32" opacity="0.45"/>
<circle cx="805.0" cy="191.8" r="2.9" fill="#466f28" opacity="0.45"/>
<circle cx="792.6" cy="206.4" r="3.5" fill="#5c8c32" opacity="0.45"/>
<circle cx="801.2" cy="199.9" r="3.7" fill="#5c8c32" opacity="0.45"/>
<circle cx="810.2" cy="204.3" r="4.8" fill="#84b24e" opacity="0.45"/>
<circle cx="803.0" cy="197.0" r="24.0" fill="url(#tsh)"/>
</g>
<circle cx="904.5" cy="231.9" r="43.6" fill="#2a2a2a" opacity="0.62" filter="url(#blur3)"/>
<g filter="url(#leaf)">
<circle cx="888.3" cy="213.3" r="45.0" fill="url(#tg)"/>
<circle cx="914.0" cy="230.2" r="7.6" fill="#7aa846" opacity="0.45"/>
<circle cx="857.8" cy="224.1" r="10.4" fill="#3f6a22" opacity="0.45"/>
<circle cx="900.1" cy="225.4" r="9.9" fill="#466f28" opacity="0.45"/>
<circle cx="906.8" cy="209.6" r="5.8" fill="#36591f" opacity="0.45"/>
<circle cx="908.6" cy="187.3" r="6.9" fill="#3f6a22" opacity="0.45"/>
<circle cx="889.8" cy="222.1" r="11.1" fill="#3f6a22" opacity="0.45"/>
<circle cx="912.2" cy="204.1" r="9.2" fill="#466f28" opacity="0.45"/>
<circle cx="911.7" cy="227.2" r="5.4" fill="#84b24e" opacity="0.45"/>
<circle cx="891.7" cy="244.5" r="9.2" fill="#5c8c32" opacity="0.45"/>
<circle cx="910.5" cy="208.0" r="8.5" fill="#466f28" opacity="0.45"/>
<circle cx="885.8" cy="205.9" r="5.8" fill="#36591f" opacity="0.45"/>
<circle cx="897.8" cy="209.8" r="6.9" fill="#36591f" opacity="0.45"/>
<circle cx="908.5" cy="213.4" r="11.2" fill="#5c8c32" opacity="0.45"/>
<circle cx="910.9" cy="207.3" r="10.6" fill="#466f28" opacity="0.45"/>
<circle cx="888.3" cy="213.3" r="45.0" fill="url(#tsh)"/>
</g>
<circle cx="995.0" cy="289.5" r="22.3" fill="#2a2a2a" opacity="0.62" filter="url(#blur3)"/>
<g filter="url(#leaf)">
<circle cx="986.7" cy="280.0" r="23.0" fill="url(#tg)"/>
<circle cx="976.4" cy="278.3" r="2.8" fill="#466f28" opacity="0.45"/>
<circle cx="984.8" cy="273.4" r="2.8" fill="#466f28" opacity="0.45"/>
<circle cx="995.7" cy="272.1" r="3.0" fill="#84b24e" opacity="0.45"/>
<circle cx="978.7" cy="266.0" r="3.4" fill="#3f6a22" opacity="0.45"/>
<circle cx="982.3" cy="267.7" r="3.8" fill="#466f28" opacity="0.45"/>
<circle cx="991.3" cy="293.5" r="5.0" fill="#36591f" opacity="0.45"/>
<circle cx="995.6" cy="284.0" r="3.4" fill="#84b24e" opacity="0.45"/>
<circle cx="987.4" cy="285.6" r="5.0" fill="#5c8c32" opacity="0.45"/>
<circle cx="995.7" cy="287.4" r="4.6" fill="#84b24e" opacity="0.45"/>
<circle cx="986.7" cy="280.0" r="23.0" fill="url(#tsh)"/>
</g>
<circle cx="1034.0" cy="255.3" r="24.2" fill="#2a2a2a" opacity="0.62" filter="url(#blur3)"/>
<g filter="url(#leaf)">
<circle cx="1025.0" cy="245.0" r="25.0" fill="url(#tg)"/>
<circle cx="1007.8" cy="246.6" r="3.2" fill="#36591f" opacity="0.45"/>
<circle cx="1030.4" cy="252.1" r="3.7" fill="#36591f" opacity="0.45"/>
<circle cx="1027.1" cy="247.6" r="3.2" fill="#466f28" opacity="0.45"/>
<circle cx="1011.6" cy="249.4" r="4.0" fill="#3f6a22" opacity="0.45"/>
<circle cx="1042.6" cy="244.7" r="4.1" fill="#84b24e" opacity="0.45"/>
<circle cx="1018.7" cy="236.0" r="4.5" fill="#5c8c32" opacity="0.45"/>
<circle cx="1020.6" cy="237.6" r="4.2" fill="#5c8c32" opacity="0.45"/>
<circle cx="1021.0" cy="246.5" r="3.3" fill="#3f6a22" opacity="0.45"/>
<circle cx="1014.3" cy="259.5" r="3.4" fill="#84b24e" opacity="0.45"/>
<circle cx="1014.1" cy="255.3" r="4.0" fill="#466f28" opacity="0.45"/>
<circle cx="1025.0" cy="245.0" r="25.0" fill="url(#tsh)"/>
</g>
<circle cx="1070.3" cy="278.2" r="23.3" fill="#2a2a2a" opacity="0.62" filter="url(#blur3)"/>
<g filter="url(#leaf)">
<circle cx="1061.7" cy="268.3" r="24.0" fill="url(#tg)"/>
<circle cx="1073.1" cy="275.3" r="3.5" fill="#36591f" opacity="0.45"/>
<circle cx="1066.4" cy="265.7" r="4.0" fill="#466f28" opacity="0.45"/>
<circle cx="1070.3" cy="270.0" r="5.4" fill="#466f28" opacity="0.45"/>
<circle cx="1064.5" cy="269.0" r="3.1" fill="#3f6a22" opacity="0.45"/>
<circle cx="1061.1" cy="282.3" r="5.7" fill="#5c8c32" opacity="0.45"/>
<circle cx="1056.7" cy="274.1" r="5.9" fill="#3f6a22" opacity="0.45"/>
<circle cx="1060.7" cy="281.8" r="3.9" fill="#5c8c32" opacity="0.45"/>
<circle cx="1057.7" cy="281.4" r="4.7" fill="#7aa846" opacity="0.45"/>
<circle cx="1064.9" cy="267.2" r="5.5" fill="#3f6a22" opacity="0.45"/>
<circle cx="1061.7" cy="268.3" r="24.0" fill="url(#tsh)"/>
</g>
<circle cx="1100.7" cy="310.4" r="24.2" fill="#2a2a2a" opacity="0.62" filter="url(#blur3)"/>
<g filter="url(#leaf)">
<circle cx="1091.7" cy="300.0" r="25.0" fill="url(#tg)"/>
<circle cx="1073.9" cy="302.8" r="6.1" fill="#466f28" opacity="0.45"/>
<circle cx="1096.0" cy="283.2" r="5.6" fill="#84b24e" opacity="0.45"/>
<circle cx="1096.6" cy="297.6" r="5.6" fill="#7aa846" opacity="0.45"/>
<circle cx="1087.2" cy="313.0" r="3.5" fill="#84b24e" opacity="0.45"/>
<circle cx="1088.1" cy="306.8" r="4.2" fill="#36591f" opacity="0.45"/>
<circle cx="1096.7" cy="302.7" r="5.4" fill="#84b24e" opacity="0.45"/>
<circle cx="1080.8" cy="307.1" r="4.6" fill="#36591f" opacity="0.45"/>
<circle cx="1083.3" cy="316.4" r="5.9" fill="#3f6a22" opacity="0.45"/>
<circle cx="1091.3" cy="303.8" r="3.3" fill="#466f28" opacity="0.45"/>
<circle cx="1109.9" cy="298.7" r="3.6" fill="#84b24e" opacity="0.45"/>
<circle cx="1091.7" cy="300.0" r="25.0" fill="url(#tsh)"/>
</g>
<circle cx="1168.0" cy="377.7" r="48.5" fill="#2a2a2a" opacity="0.62" filter="url(#blur3)"/>
<g filter="url(#leaf)">
<circle cx="1150.0" cy="357.0" r="50.0" fill="url(#tg)"/>
<circle cx="1128.2" cy="369.6" r="10.4" fill="#7aa846" opacity="0.45"/>
<circle cx="1120.7" cy="349.8" r="10.9" fill="#5c8c32" opacity="0.45"/>
<circle cx="1143.6" cy="379.5" r="8.4" fill="#7aa846" opacity="0.45"/>
<circle cx="1148.7" cy="376.2" r="7.2" fill="#84b24e" opacity="0.45"/>
<circle cx="1169.3" cy="384.7" r="9.8" fill="#5c8c32" opacity="0.45"/>
<circle cx="1162.1" cy="362.2" r="7.6" fill="#36591f" opacity="0.45"/>
<circle cx="1153.7" cy="388.1" r="10.2" fill="#3f6a22" opacity="0.45"/>
<circle cx="1166.4" cy="369.2" r="11.3" fill="#466f28" opacity="0.45"/>
<circle cx="1155.4" cy="353.8" r="7.9" fill="#3f6a22" opacity="0.45"/>
<circle cx="1173.3" cy="364.6" r="11.4" fill="#84b24e" opacity="0.45"/>
<circle cx="1165.5" cy="349.7" r="11.6" fill="#466f28" opacity="0.45"/>
<circle cx="1125.9" cy="338.8" r="10.3" fill="#3f6a22" opacity="0.45"/>
<circle cx="1169.2" cy="372.0" r="10.0" fill="#84b24e" opacity="0.45"/>
<circle cx="1165.6" cy="360.7" r="6.3" fill="#5c8c32" opacity="0.45"/>
<circle cx="1178.0" cy="363.9" r="11.9" fill="#3f6a22" opacity="0.45"/>
<circle cx="1150.0" cy="357.0" r="50.0" fill="url(#tsh)"/>
</g>
<circle cx="1193.2" cy="185.6" r="43.6" fill="#2a2a2a" opacity="0.62" filter="url(#blur3)"/>
<g filter="url(#leaf)">
<circle cx="1177.0" cy="167.0" r="45.0" fill="url(#tg)"/>
<circle cx="1183.9" cy="152.1" r="7.6" fill="#36591f" opacity="0.45"/>
<circle cx="1173.0" cy="176.7" r="10.1" fill="#36591f" opacity="0.45"/>
<circle cx="1160.6" cy="168.7" r="10.1" fill="#7aa846" opacity="0.45"/>
<circle cx="1154.9" cy="159.8" r="5.9" fill="#84b24e" opacity="0.45"/>
<circle cx="1167.0" cy="174.4" r="11.2" fill="#7aa846" opacity="0.45"/>
<circle cx="1165.5" cy="197.3" r="7.2" fill="#36591f" opacity="0.45"/>
<circle cx="1189.4" cy="155.9" r="5.5" fill="#5c8c32" opacity="0.45"/>
<circle cx="1167.2" cy="154.4" r="7.8" fill="#3f6a22" opacity="0.45"/>
<circle cx="1168.7" cy="170.6" r="6.1" fill="#3f6a22" opacity="0.45"/>
<circle cx="1151.8" cy="183.9" r="8.1" fill="#84b24e" opacity="0.45"/>
<circle cx="1181.1" cy="171.4" r="6.2" fill="#466f28" opacity="0.45"/>
<circle cx="1196.2" cy="179.0" r="7.6" fill="#36591f" opacity="0.45"/>
<circle cx="1183.9" cy="179.9" r="6.3" fill="#84b24e" opacity="0.45"/>
<circle cx="1183.9" cy="163.5" r="8.3" fill="#84b24e" opacity="0.45"/>
<circle cx="1177.0" cy="167.0" r="45.0" fill="url(#tsh)"/>
</g>
<circle cx="1238.1" cy="300.4" r="40.7" fill="#2a2a2a" opacity="0.62" filter="url(#blur3)"/>
<g filter="url(#leaf)">
<circle cx="1223.0" cy="283.0" r="42.0" fill="url(#tg)"/>
<circle cx="1214.4" cy="308.6" r="5.3" fill="#466f28" opacity="0.45"/>
<circle cx="1214.8" cy="302.1" r="8.5" fill="#3f6a22" opacity="0.45"/>
<circle cx="1240.4" cy="271.0" r="9.5" fill="#84b24e" opacity="0.45"/>
<circle cx="1205.5" cy="261.7" r="8.4" fill="#36591f" opacity="0.45"/>
<circle cx="1238.3" cy="260.9" r="6.0" fill="#84b24e" opacity="0.45"/>
<circle cx="1251.8" cy="290.7" r="5.9" fill="#5c8c32" opacity="0.45"/>
<circle cx="1230.8" cy="290.6" r="9.0" fill="#84b24e" opacity="0.45"/>
<circle cx="1241.9" cy="288.0" r="9.2" fill="#3f6a22" opacity="0.45"/>
<circle cx="1216.6" cy="271.6" r="7.2" fill="#466f28" opacity="0.45"/>
<circle cx="1202.7" cy="276.4" r="6.7" fill="#466f28" opacity="0.45"/>
<circle cx="1219.1" cy="293.3" r="7.2" fill="#5c8c32" opacity="0.45"/>
<circle cx="1207.7" cy="288.3" r="5.2" fill="#36591f" opacity="0.45"/>
<circle cx="1239.8" cy="281.5" r="7.5" fill="#36591f" opacity="0.45"/>
<circle cx="1223.0" cy="283.0" r="42.0" fill="url(#tsh)"/>
</g>
<circle cx="1216.0" cy="412.4" r="24.2" fill="#2a2a2a" opacity="0.62" filter="url(#blur3)"/>
<g filter="url(#leaf)">
<circle cx="1207.0" cy="402.0" r="25.0" fill="url(#tg)"/>
<circle cx="1208.9" cy="392.2" r="3.6" fill="#466f28" opacity="0.45"/>
<circle cx="1204.1" cy="404.1" r="4.2" fill="#5c8c32" opacity="0.45"/>
<circle cx="1215.1" cy="407.3" r="4.7" fill="#3f6a22" opacity="0.45"/>
<circle cx="1211.5" cy="403.2" r="6.0" fill="#5c8c32" opacity="0.45"/>
<circle cx="1208.9" cy="391.4" r="3.2" fill="#36591f" opacity="0.45"/>
<circle cx="1217.3" cy="394.0" r="5.5" fill="#3f6a22" opacity="0.45"/>
<circle cx="1218.6" cy="387.4" r="5.4" fill="#3f6a22" opacity="0.45"/>
<circle cx="1213.4" cy="419.3" r="4.6" fill="#84b24e" opacity="0.45"/>
<circle cx="1201.4" cy="388.9" r="3.7" fill="#5c8c32" opacity="0.45"/>
<circle cx="1201.9" cy="397.8" r="4.1" fill="#36591f" opacity="0.45"/>
<circle cx="1207.0" cy="402.0" r="25.0" fill="url(#tsh)"/>
</g>
<circle cx="367.9" cy="421.1" r="22.3" fill="#2a2a2a" opacity="0.62" filter="url(#blur3)"/>
<g filter="url(#leaf)">
<circle cx="359.6" cy="411.6" r="23.0" fill="url(#tg)"/>
<circle cx="357.3" cy="425.9" r="3.2" fill="#36591f" opacity="0.45"/>
<circle cx="368.8" cy="409.5" r="4.5" fill="#36591f" opacity="0.45"/>
<circle cx="352.5" cy="411.3" r="2.9" fill="#84b24e" opacity="0.45"/>
<circle cx="349.9" cy="418.3" r="3.6" fill="#5c8c32" opacity="0.45"/>
<circle cx="363.4" cy="408.7" r="5.1" fill="#3f6a22" opacity="0.45"/>
<circle cx="359.9" cy="408.6" r="5.3" fill="#466f28" opacity="0.45"/>
<circle cx="349.3" cy="407.9" r="5.4" fill="#3f6a22" opacity="0.45"/>
<circle cx="359.5" cy="421.9" r="5.3" fill="#7aa846" opacity="0.45"/>
<circle cx="361.4" cy="405.6" r="5.7" fill="#36591f" opacity="0.45"/>
<circle cx="359.6" cy="411.6" r="23.0" fill="url(#tsh)"/>
</g>
<circle cx="355.9" cy="626.5" r="22.3" fill="#2a2a2a" opacity="0.62" filter="url(#blur3)"/>
<g filter="url(#leaf)">
<circle cx="347.6" cy="617.0" r="23.0" fill="url(#tg)"/>
<circle cx="352.0" cy="622.8" r="3.0" fill="#84b24e" opacity="0.45"/>
<circle cx="353.6" cy="629.0" r="2.9" fill="#36591f" opacity="0.45"/>
<circle cx="347.3" cy="628.9" r="5.7" fill="#36591f" opacity="0.45"/>
<circle cx="361.7" cy="610.2" r="5.0" fill="#7aa846" opacity="0.45"/>
<circle cx="352.0" cy="618.0" r="4.6" fill="#466f28" opacity="0.45"/>
<circle cx="340.9" cy="620.8" r="2.9" fill="#466f28" opacity="0.45"/>
<circle cx="349.3" cy="628.9" r="2.8" fill="#3f6a22" opacity="0.45"/>
<circle cx="341.4" cy="614.2" r="4.3" fill="#36591f" opacity="0.45"/>
<circle cx="349.4" cy="627.9" r="4.5" fill="#84b24e" opacity="0.45"/>
<circle cx="347.6" cy="617.0" r="23.0" fill="url(#tsh)"/>
</g>
<circle cx="343.9" cy="852.5" r="22.3" fill="#2a2a2a" opacity="0.62" filter="url(#blur3)"/>
<g filter="url(#leaf)">
<circle cx="335.6" cy="843.0" r="23.0" fill="url(#tg)"/>
<circle cx="325.8" cy="853.9" r="3.2" fill="#3f6a22" opacity="0.45"/>
<circle cx="341.1" cy="840.7" r="3.2" fill="#3f6a22" opacity="0.45"/>
<circle cx="339.7" cy="844.7" r="4.7" fill="#5c8c32" opacity="0.45"/>
<circle cx="330.5" cy="846.6" r="2.8" fill="#7aa846" opacity="0.45"/>
<circle cx="342.3" cy="828.9" r="4.5" fill="#36591f" opacity="0.45"/>
<circle cx="320.3" cy="848.6" r="5.0" fill="#84b24e" opacity="0.45"/>
<circle cx="336.8" cy="845.0" r="2.9" fill="#3f6a22" opacity="0.45"/>
<circle cx="330.7" cy="846.3" r="2.9" fill="#3f6a22" opacity="0.45"/>
<circle cx="346.1" cy="843.8" r="5.6" fill="#84b24e" opacity="0.45"/>
<circle cx="335.6" cy="843.0" r="23.0" fill="url(#tsh)"/>
</g>
<circle cx="335.3" cy="1030.5" r="22.3" fill="#2a2a2a" opacity="0.62" filter="url(#blur3)"/>
<g filter="url(#leaf)">
<circle cx="327.0" cy="1021.0" r="23.0" fill="url(#tg)"/>
<circle cx="318.4" cy="1026.2" r="4.7" fill="#7aa846" opacity="0.45"/>
<circle cx="317.9" cy="1009.8" r="3.3" fill="#5c8c32" opacity="0.45"/>
<circle cx="337.7" cy="1025.5" r="5.7" fill="#7aa846" opacity="0.45"/>
<circle cx="329.7" cy="1008.3" r="2.8" fill="#466f28" opacity="0.45"/>
<circle cx="326.7" cy="1011.7" r="5.0" fill="#466f28" opacity="0.45"/>
<circle cx="334.8" cy="1036.3" r="3.5" fill="#7aa846" opacity="0.45"/>
<circle cx="334.1" cy="1022.8" r="5.0" fill="#7aa846" opacity="0.45"/>
<circle cx="332.8" cy="1018.8" r="2.9" fill="#7aa846" opacity="0.45"/>
<circle cx="318.7" cy="1018.1" r="5.1" fill="#36591f" opacity="0.45"/>
<circle cx="327.0" cy="1021.0" r="23.0" fill="url(#tsh)"/>
</g>
<circle cx="320.9" cy="1261.8" r="21.3" fill="#2a2a2a" opacity="0.62" filter="url(#blur3)"/>
<g filter="url(#leaf)">
<circle cx="313.0" cy="1252.7" r="22.0" fill="url(#tg)"/>
<circle cx="319.3" cy="1251.6" r="5.3" fill="#84b24e" opacity="0.45"/>
<circle cx="321.1" cy="1257.5" r="3.1" fill="#84b24e" opacity="0.45"/>
<circle cx="315.8" cy="1248.4" r="3.1" fill="#5c8c32" opacity="0.45"/>
<circle cx="315.8" cy="1259.9" r="4.4" fill="#466f28" opacity="0.45"/>
<circle cx="322.4" cy="1246.5" r="4.6" fill="#7aa846" opacity="0.45"/>
<circle cx="318.4" cy="1244.4" r="4.0" fill="#36591f" opacity="0.45"/>
<circle cx="308.3" cy="1239.0" r="3.9" fill="#7aa846" opacity="0.45"/>
<circle cx="314.5" cy="1267.5" r="4.9" fill="#466f28" opacity="0.45"/>
<circle cx="310.6" cy="1250.4" r="5.2" fill="#84b24e" opacity="0.45"/>
<circle cx="313.0" cy="1252.7" r="22.0" fill="url(#tsh)"/>
</g>
<circle cx="310.6" cy="1482.7" r="21.3" fill="#2a2a2a" opacity="0.62" filter="url(#blur3)"/>
<g filter="url(#leaf)">
<circle cx="302.7" cy="1473.6" r="22.0" fill="url(#tg)"/>
<circle cx="306.4" cy="1474.4" r="4.4" fill="#84b24e" opacity="0.45"/>
<circle cx="300.3" cy="1477.1" r="2.7" fill="#3f6a22" opacity="0.45"/>
<circle cx="310.1" cy="1482.3" r="2.8" fill="#3f6a22" opacity="0.45"/>
<circle cx="302.4" cy="1470.5" r="4.3" fill="#5c8c32" opacity="0.45"/>
<circle cx="307.7" cy="1488.7" r="4.2" fill="#7aa846" opacity="0.45"/>
<circle cx="316.1" cy="1479.5" r="5.3" fill="#466f28" opacity="0.45"/>
<circle cx="306.7" cy="1476.8" r="3.0" fill="#3f6a22" opacity="0.45"/>
<circle cx="317.2" cy="1468.8" r="4.8" fill="#3f6a22" opacity="0.45"/>
<circle cx="307.8" cy="1463.6" r="3.5" fill="#3f6a22" opacity="0.45"/>
<circle cx="302.7" cy="1473.6" r="22.0" fill="url(#tsh)"/>
</g>
<circle cx="299.1" cy="1698.9" r="22.3" fill="#2a2a2a" opacity="0.62" filter="url(#blur3)"/>
<g filter="url(#leaf)">
<circle cx="290.8" cy="1689.4" r="23.0" fill="url(#tg)"/>
<circle cx="300.3" cy="1699.9" r="4.7" fill="#5c8c32" opacity="0.45"/>
<circle cx="287.2" cy="1697.2" r="2.8" fill="#5c8c32" opacity="0.45"/>
<circle cx="293.5" cy="1688.1" r="5.0" fill="#5c8c32" opacity="0.45"/>
<circle cx="292.2" cy="1678.2" r="4.2" fill="#5c8c32" opacity="0.45"/>
<circle cx="288.8" cy="1687.5" r="4.0" fill="#466f28" opacity="0.45"/>
<circle cx="287.1" cy="1689.0" r="4.2" fill="#3f6a22" opacity="0.45"/>
<circle cx="285.4" cy="1688.1" r="5.3" fill="#3f6a22" opacity="0.45"/>
<circle cx="284.9" cy="1686.4" r="4.1" fill="#36591f" opacity="0.45"/>
<circle cx="294.9" cy="1702.5" r="5.7" fill="#3f6a22" opacity="0.45"/>
<circle cx="290.8" cy="1689.4" r="23.0" fill="url(#tsh)"/>
</g>
<circle cx="287.4" cy="1901.3" r="23.3" fill="#2a2a2a" opacity="0.62" filter="url(#blur3)"/>
<g filter="url(#leaf)">
<circle cx="278.8" cy="1891.4" r="24.0" fill="url(#tg)"/>
<circle cx="276.6" cy="1894.6" r="5.0" fill="#84b24e" opacity="0.45"/>
<circle cx="290.2" cy="1889.0" r="5.9" fill="#36591f" opacity="0.45"/>
<circle cx="277.7" cy="1908.5" r="3.8" fill="#84b24e" opacity="0.45"/>
<circle cx="284.4" cy="1889.1" r="3.4" fill="#7aa846" opacity="0.45"/>
<circle cx="279.9" cy="1881.4" r="6.0" fill="#36591f" opacity="0.45"/>
<circle cx="281.6" cy="1879.5" r="4.0" fill="#466f28" opacity="0.45"/>
<circle cx="293.5" cy="1884.3" r="5.2" fill="#466f28" opacity="0.45"/>
<circle cx="280.9" cy="1889.6" r="3.5" fill="#5c8c32" opacity="0.45"/>
<circle cx="269.0" cy="1896.2" r="3.4" fill="#7aa846" opacity="0.45"/>
<circle cx="278.8" cy="1891.4" r="24.0" fill="url(#tsh)"/>
</g>
<circle cx="697.2" cy="2107.3" r="69.6" fill="#2a2a2a" opacity="0.6" filter="url(#blur5)"/>
<g filter="url(#rough)">
<circle cx="683.0" cy="2086.0" r="68.9" fill="url(#tg2)"/>
<line x1="687.1" y1="2125.9" x2="689.7" y2="2151.1" stroke="#8aa24a" stroke-width="1.7" opacity="0.7"/>
<line x1="659.9" y1="2055.7" x2="645.3" y2="2036.6" stroke="#86a244" stroke-width="1.7" opacity="0.7"/>
<line x1="710.0" y1="2056.5" x2="727.5" y2="2037.4" stroke="#9a6038" stroke-width="1.7" opacity="0.7"/>
<line x1="702.2" y1="2120.8" x2="716.6" y2="2146.7" stroke="#8aa24a" stroke-width="1.7" opacity="0.7"/>
<line x1="687.5" y1="2123.6" x2="691.0" y2="2152.8" stroke="#807434" stroke-width="1.7" opacity="0.7"/>
<line x1="646.3" y1="2084.2" x2="614.0" y2="2082.7" stroke="#8aa24a" stroke-width="1.7" opacity="0.7"/>
<line x1="702.6" y1="2114.7" x2="717.3" y2="2136.2" stroke="#9a6038" stroke-width="1.7" opacity="0.7"/>
<line x1="652.6" y1="2063.0" x2="634.6" y2="2049.5" stroke="#807434" stroke-width="1.7" opacity="0.7"/>
<line x1="680.3" y1="2134.8" x2="679.0" y2="2158.9" stroke="#86a244" stroke-width="1.7" opacity="0.7"/>
<line x1="715.8" y1="2078.1" x2="744.3" y2="2071.2" stroke="#86a244" stroke-width="1.7" opacity="0.7"/>
<line x1="695.5" y1="2042.8" x2="700.8" y2="2024.6" stroke="#807434" stroke-width="1.7" opacity="0.7"/>
<line x1="720.2" y1="2116.5" x2="730.5" y2="2124.9" stroke="#7a963c" stroke-width="1.7" opacity="0.7"/>
<line x1="651.6" y1="2093.2" x2="614.1" y2="2101.9" stroke="#7a963c" stroke-width="1.7" opacity="0.7"/>
<line x1="668.8" y1="2047.7" x2="659.6" y2="2023.1" stroke="#5a7f33" stroke-width="1.7" opacity="0.7"/>
<line x1="719.2" y1="2091.1" x2="751.2" y2="2095.5" stroke="#557a30" stroke-width="1.7" opacity="0.7"/>
<line x1="680.3" y1="2038.0" x2="679.4" y2="2022.3" stroke="#8aa24a" stroke-width="1.7" opacity="0.7"/>
<line x1="646.0" y1="2063.3" x2="622.8" y2="2049.1" stroke="#8aa24a" stroke-width="1.7" opacity="0.7"/>
<line x1="709.4" y1="2050.8" x2="723.4" y2="2032.2" stroke="#5a7f33" stroke-width="1.7" opacity="0.7"/>
<line x1="649.7" y1="2101.0" x2="620.8" y2="2114.1" stroke="#7a963c" stroke-width="1.7" opacity="0.7"/>
<line x1="684.9" y1="2125.0" x2="686.3" y2="2154.4" stroke="#86a244" stroke-width="1.7" opacity="0.7"/>
<line x1="683.0" y1="2125.5" x2="683.0" y2="2150.2" stroke="#8aa24a" stroke-width="1.7" opacity="0.7"/>
<line x1="708.9" y1="2054.1" x2="725.6" y2="2033.5" stroke="#86a244" stroke-width="1.7" opacity="0.7"/>
<line x1="712.8" y1="2062.8" x2="727.9" y2="2050.9" stroke="#5a7f33" stroke-width="1.7" opacity="0.7"/>
<line x1="711.4" y1="2067.5" x2="734.0" y2="2052.8" stroke="#807434" stroke-width="1.7" opacity="0.7"/>
<line x1="707.4" y1="2124.8" x2="721.3" y2="2147.1" stroke="#6d903c" stroke-width="1.7" opacity="0.7"/>
<line x1="655.8" y1="2124.3" x2="645.8" y2="2138.4" stroke="#807434" stroke-width="1.7" opacity="0.7"/>
<line x1="674.6" y1="2045.8" x2="669.3" y2="2020.2" stroke="#9a6038" stroke-width="1.7" opacity="0.7"/>
<line x1="644.1" y1="2080.7" x2="611.4" y2="2076.2" stroke="#807434" stroke-width="1.7" opacity="0.7"/>
<line x1="718.1" y1="2083.9" x2="748.1" y2="2082.0" stroke="#6f943c" stroke-width="1.7" opacity="0.7"/>
<line x1="677.4" y1="2043.5" x2="674.2" y2="2019.4" stroke="#62863a" stroke-width="1.7" opacity="0.7"/>
<line x1="677.0" y1="2124.6" x2="674.3" y2="2142.4" stroke="#7a963c" stroke-width="1.7" opacity="0.7"/>
<line x1="720.2" y1="2064.2" x2="741.5" y2="2051.6" stroke="#8aa24a" stroke-width="1.7" opacity="0.7"/>
<line x1="679.6" y1="2121.8" x2="676.4" y2="2154.6" stroke="#6d903c" stroke-width="1.7" opacity="0.7"/>
<line x1="731.8" y1="2077.2" x2="754.3" y2="2073.1" stroke="#5a7f33" stroke-width="1.7" opacity="0.7"/>
<line x1="691.1" y1="2119.3" x2="699.4" y2="2153.5" stroke="#807434" stroke-width="1.7" opacity="0.7"/>
<line x1="641.9" y1="2094.1" x2="623.6" y2="2097.6" stroke="#86a244" stroke-width="1.7" opacity="0.7"/>
<line x1="656.9" y1="2120.5" x2="640.6" y2="2141.9" stroke="#7a963c" stroke-width="1.7" opacity="0.7"/>
<line x1="646.6" y1="2093.4" x2="618.6" y2="2099.1" stroke="#86a244" stroke-width="1.7" opacity="0.7"/>
<line x1="690.5" y1="2046.4" x2="696.0" y2="2017.6" stroke="#807434" stroke-width="1.7" opacity="0.7"/>
<line x1="678.8" y1="2124.4" x2="676.3" y2="2146.6" stroke="#7a963c" stroke-width="1.7" opacity="0.7"/>
<line x1="665.5" y1="2049.5" x2="652.7" y2="2022.9" stroke="#62863a" stroke-width="1.7" opacity="0.7"/>
<line x1="655.7" y1="2119.9" x2="644.1" y2="2134.3" stroke="#5a7f33" stroke-width="1.7" opacity="0.7"/>
<line x1="644.0" y1="2104.8" x2="622.1" y2="2115.3" stroke="#9a6038" stroke-width="1.7" opacity="0.7"/>
<line x1="704.4" y1="2116.6" x2="719.2" y2="2137.7" stroke="#6f943c" stroke-width="1.7" opacity="0.7"/>
<line x1="705.6" y1="2043.6" x2="715.7" y2="2024.6" stroke="#86a244" stroke-width="1.7" opacity="0.7"/>
<line x1="645.6" y1="2078.7" x2="617.9" y2="2073.3" stroke="#557a30" stroke-width="1.7" opacity="0.7"/>
<line x1="691.3" y1="2118.2" x2="698.4" y2="2145.6" stroke="#8aa24a" stroke-width="1.7" opacity="0.7"/>
<line x1="710.7" y1="2106.5" x2="731.7" y2="2122.1" stroke="#5a7f33" stroke-width="1.7" opacity="0.7"/>
<line x1="663.3" y1="2114.5" x2="642.2" y2="2144.8" stroke="#6d903c" stroke-width="1.7" opacity="0.7"/>
<line x1="706.6" y1="2127.6" x2="715.9" y2="2144.1" stroke="#6f943c" stroke-width="1.7" opacity="0.7"/>
<line x1="659.6" y1="2044.3" x2="648.8" y2="2025.3" stroke="#62863a" stroke-width="1.7" opacity="0.7"/>
<line x1="697.4" y1="2127.8" x2="704.3" y2="2147.9" stroke="#5a7f33" stroke-width="1.7" opacity="0.7"/>
<line x1="666.8" y1="2056.1" x2="655.1" y2="2034.3" stroke="#7a963c" stroke-width="1.7" opacity="0.7"/>
<line x1="686.4" y1="2120.3" x2="689.4" y2="2150.5" stroke="#557a30" stroke-width="1.7" opacity="0.7"/>
<line x1="635.2" y1="2090.7" x2="615.1" y2="2092.7" stroke="#807434" stroke-width="1.7" opacity="0.7"/>
<line x1="641.5" y1="2086.5" x2="612.1" y2="2086.8" stroke="#557a30" stroke-width="1.7" opacity="0.7"/>
<line x1="703.1" y1="2117.8" x2="719.4" y2="2143.6" stroke="#5a7f33" stroke-width="1.7" opacity="0.7"/>
<line x1="659.2" y1="2045.6" x2="651.1" y2="2031.8" stroke="#7a963c" stroke-width="1.7" opacity="0.7"/>
<line x1="726.9" y1="2086.0" x2="742.7" y2="2086.0" stroke="#9a6038" stroke-width="1.7" opacity="0.7"/>
<line x1="661.7" y1="2061.5" x2="639.2" y2="2035.6" stroke="#9a6038" stroke-width="1.7" opacity="0.7"/>
<line x1="695.1" y1="2054.6" x2="706.3" y2="2025.6" stroke="#86a244" stroke-width="1.7" opacity="0.7"/>
<line x1="726.7" y1="2095.4" x2="748.5" y2="2100.2" stroke="#9a6038" stroke-width="1.7" opacity="0.7"/>
<line x1="719.2" y1="2110.4" x2="734.7" y2="2120.9" stroke="#6d903c" stroke-width="1.7" opacity="0.7"/>
<line x1="637.6" y1="2069.9" x2="625.1" y2="2065.5" stroke="#9a6038" stroke-width="1.7" opacity="0.7"/>
<line x1="646.1" y1="2105.6" x2="620.9" y2="2118.9" stroke="#62863a" stroke-width="1.7" opacity="0.7"/>
<line x1="658.0" y1="2118.1" x2="644.8" y2="2135.1" stroke="#62863a" stroke-width="1.7" opacity="0.7"/>
<line x1="709.6" y1="2058.7" x2="725.0" y2="2042.9" stroke="#5a7f33" stroke-width="1.7" opacity="0.7"/>
<line x1="692.9" y1="2049.5" x2="699.1" y2="2026.2" stroke="#62863a" stroke-width="1.7" opacity="0.7"/>
<line x1="717.2" y1="2121.4" x2="723.5" y2="2127.8" stroke="#557a30" stroke-width="1.7" opacity="0.7"/>
<line x1="649.4" y1="2110.8" x2="631.9" y2="2123.6" stroke="#8aa24a" stroke-width="1.7" opacity="0.7"/>
<line x1="685.0" y1="2086.7" x2="710.2" y2="2094.8" stroke="#4a4650" stroke-width="1.5" opacity="0.7"/>
<line x1="684.5" y1="2083.0" x2="703.7" y2="2043.3" stroke="#3a3a3c" stroke-width="1.5" opacity="0.7"/>
<line x1="684.6" y1="2079.7" x2="693.6" y2="2043.7" stroke="#4a4650" stroke-width="1.5" opacity="0.7"/>
<line x1="679.5" y1="2082.5" x2="652.8" y2="2055.1" stroke="#3a3a3c" stroke-width="1.5" opacity="0.7"/>
<line x1="684.1" y1="2090.6" x2="692.3" y2="2124.7" stroke="#4a4650" stroke-width="1.5" opacity="0.7"/>
<line x1="684.0" y1="2086.8" x2="706.6" y2="2103.4" stroke="#3a3a3c" stroke-width="1.5" opacity="0.7"/>
<line x1="687.0" y1="2083.6" x2="715.2" y2="2066.7" stroke="#4a4650" stroke-width="1.5" opacity="0.7"/>
<line x1="683.9" y1="2082.1" x2="690.9" y2="2052.1" stroke="#40463a" stroke-width="1.5" opacity="0.7"/>
<line x1="683.1" y1="2086.2" x2="694.5" y2="2112.5" stroke="#3a3a3c" stroke-width="1.5" opacity="0.7"/>
<line x1="679.3" y1="2086.1" x2="634.1" y2="2086.7" stroke="#55505a" stroke-width="1.5" opacity="0.7"/>
<line x1="677.2" y1="2083.0" x2="647.8" y2="2068.0" stroke="#3a3a3c" stroke-width="1.5" opacity="0.7"/>
<line x1="681.2" y1="2082.2" x2="660.4" y2="2038.0" stroke="#4a4650" stroke-width="1.5" opacity="0.7"/>
<line x1="680.1" y1="2086.4" x2="652.4" y2="2090.8" stroke="#55505a" stroke-width="1.5" opacity="0.7"/>
<line x1="683.3" y1="2087.0" x2="689.8" y2="2114.0" stroke="#3a3a3c" stroke-width="1.5" opacity="0.7"/>
<line x1="687.7" y1="2086.3" x2="735.8" y2="2089.1" stroke="#3a3a3c" stroke-width="1.5" opacity="0.7"/>
<line x1="683.2" y1="2086.8" x2="691.0" y2="2125.3" stroke="#40463a" stroke-width="1.5" opacity="0.7"/>
<line x1="682.7" y1="2084.3" x2="674.1" y2="2040.2" stroke="#4a4650" stroke-width="1.5" opacity="0.7"/>
<line x1="685.3" y1="2084.8" x2="724.6" y2="2064.1" stroke="#4a4650" stroke-width="1.5" opacity="0.7"/>
<line x1="682.9" y1="2085.4" x2="677.4" y2="2042.3" stroke="#55505a" stroke-width="1.5" opacity="0.7"/>
<line x1="676.6" y1="2087.6" x2="649.3" y2="2094.5" stroke="#3a3a3c" stroke-width="1.5" opacity="0.7"/>
<line x1="683.0" y1="2085.9" x2="677.1" y2="2057.8" stroke="#3a3a3c" stroke-width="1.5" opacity="0.7"/>
<line x1="681.3" y1="2087.4" x2="649.8" y2="2113.8" stroke="#55505a" stroke-width="1.5" opacity="0.7"/>
<line x1="681.3" y1="2084.6" x2="642.7" y2="2053.1" stroke="#55505a" stroke-width="1.5" opacity="0.7"/>
<line x1="681.8" y1="2086.2" x2="631.5" y2="2095.9" stroke="#3a3a3c" stroke-width="1.5" opacity="0.7"/>
<line x1="680.0" y1="2089.5" x2="654.2" y2="2119.4" stroke="#55505a" stroke-width="1.5" opacity="0.7"/>
<line x1="677.5" y1="2086.8" x2="643.8" y2="2091.7" stroke="#40463a" stroke-width="1.5" opacity="0.7"/>
<line x1="683.9" y1="2082.1" x2="690.7" y2="2051.2" stroke="#3a3a3c" stroke-width="1.5" opacity="0.7"/>
<line x1="679.7" y1="2082.8" x2="648.2" y2="2052.5" stroke="#40463a" stroke-width="1.5" opacity="0.7"/>
<line x1="686.5" y1="2082.2" x2="702.6" y2="2065.0" stroke="#4a4650" stroke-width="1.5" opacity="0.7"/>
<line x1="681.2" y1="2084.7" x2="651.6" y2="2062.8" stroke="#4a4650" stroke-width="1.5" opacity="0.7"/>
<line x1="679.5" y1="2089.4" x2="652.0" y2="2116.3" stroke="#4a4650" stroke-width="1.5" opacity="0.7"/>
<line x1="683.7" y1="2084.1" x2="693.1" y2="2059.4" stroke="#40463a" stroke-width="1.5" opacity="0.7"/>
<line x1="682.9" y1="2087.1" x2="677.2" y2="2136.9" stroke="#3a3a3c" stroke-width="1.5" opacity="0.7"/>
<line x1="682.8" y1="2087.0" x2="670.9" y2="2135.1" stroke="#4a4650" stroke-width="1.5" opacity="0.7"/>
<line x1="682.1" y1="2092.0" x2="675.8" y2="2133.9" stroke="#55505a" stroke-width="1.5" opacity="0.7"/>
<line x1="682.7" y1="2086.5" x2="658.9" y2="2120.6" stroke="#55505a" stroke-width="1.5" opacity="0.7"/>
</g>
<circle cx="614.2" cy="2335.3" r="69.6" fill="#2a2a2a" opacity="0.6" filter="url(#blur5)"/>
<g filter="url(#rough)">
<circle cx="600.0" cy="2314.0" r="68.9" fill="url(#tg2)"/>
<line x1="613.9" y1="2357.1" x2="622.1" y2="2382.6" stroke="#807434" stroke-width="1.7" opacity="0.7"/>
<line x1="588.0" y1="2344.7" x2="576.9" y2="2372.9" stroke="#807434" stroke-width="1.7" opacity="0.7"/>
<line x1="637.9" y1="2295.0" x2="650.9" y2="2288.5" stroke="#7a963c" stroke-width="1.7" opacity="0.7"/>
<line x1="567.6" y1="2322.4" x2="532.3" y2="2331.5" stroke="#6f943c" stroke-width="1.7" opacity="0.7"/>
<line x1="604.5" y1="2356.0" x2="607.7" y2="2385.0" stroke="#6d903c" stroke-width="1.7" opacity="0.7"/>
<line x1="582.3" y1="2350.9" x2="574.1" y2="2368.2" stroke="#807434" stroke-width="1.7" opacity="0.7"/>
<line x1="612.5" y1="2346.9" x2="624.2" y2="2377.8" stroke="#9a6038" stroke-width="1.7" opacity="0.7"/>
<line x1="566.2" y1="2296.0" x2="538.6" y2="2281.3" stroke="#86a244" stroke-width="1.7" opacity="0.7"/>
<line x1="601.1" y1="2362.3" x2="601.5" y2="2378.8" stroke="#6f943c" stroke-width="1.7" opacity="0.7"/>
<line x1="572.2" y1="2343.0" x2="559.8" y2="2356.0" stroke="#9a6038" stroke-width="1.7" opacity="0.7"/>
<line x1="568.8" y1="2292.2" x2="546.5" y2="2276.6" stroke="#557a30" stroke-width="1.7" opacity="0.7"/>
<line x1="629.5" y1="2333.8" x2="659.0" y2="2353.6" stroke="#8aa24a" stroke-width="1.7" opacity="0.7"/>
<line x1="558.1" y1="2317.6" x2="539.2" y2="2319.2" stroke="#62863a" stroke-width="1.7" opacity="0.7"/>
<line x1="556.4" y1="2335.9" x2="538.0" y2="2345.1" stroke="#8aa24a" stroke-width="1.7" opacity="0.7"/>
<line x1="635.5" y1="2305.7" x2="655.9" y2="2300.9" stroke="#807434" stroke-width="1.7" opacity="0.7"/>
<line x1="638.6" y1="2312.7" x2="657.2" y2="2312.1" stroke="#557a30" stroke-width="1.7" opacity="0.7"/>
<line x1="555.6" y1="2297.3" x2="539.8" y2="2291.3" stroke="#6f943c" stroke-width="1.7" opacity="0.7"/>
<line x1="628.2" y1="2281.2" x2="646.8" y2="2259.5" stroke="#6f943c" stroke-width="1.7" opacity="0.7"/>
<line x1="598.1" y1="2355.9" x2="597.0" y2="2381.2" stroke="#6d903c" stroke-width="1.7" opacity="0.7"/>
<line x1="568.8" y1="2338.8" x2="553.5" y2="2351.0" stroke="#807434" stroke-width="1.7" opacity="0.7"/>
<line x1="635.8" y1="2312.1" x2="657.4" y2="2311.0" stroke="#62863a" stroke-width="1.7" opacity="0.7"/>
<line x1="630.8" y1="2302.1" x2="661.4" y2="2290.2" stroke="#557a30" stroke-width="1.7" opacity="0.7"/>
<line x1="617.1" y1="2286.0" x2="636.3" y2="2254.6" stroke="#5a7f33" stroke-width="1.7" opacity="0.7"/>
<line x1="632.4" y1="2325.8" x2="664.9" y2="2337.7" stroke="#807434" stroke-width="1.7" opacity="0.7"/>
<line x1="583.5" y1="2280.6" x2="570.5" y2="2254.4" stroke="#6f943c" stroke-width="1.7" opacity="0.7"/>
<line x1="562.1" y1="2321.1" x2="537.9" y2="2325.6" stroke="#9a6038" stroke-width="1.7" opacity="0.7"/>
<line x1="565.3" y1="2318.1" x2="539.7" y2="2321.1" stroke="#86a244" stroke-width="1.7" opacity="0.7"/>
<line x1="641.0" y1="2289.5" x2="655.3" y2="2281.0" stroke="#807434" stroke-width="1.7" opacity="0.7"/>
<line x1="610.5" y1="2280.9" x2="621.3" y2="2246.9" stroke="#6f943c" stroke-width="1.7" opacity="0.7"/>
<line x1="643.3" y1="2294.9" x2="665.3" y2="2285.3" stroke="#86a244" stroke-width="1.7" opacity="0.7"/>
<line x1="608.7" y1="2265.8" x2="612.7" y2="2243.2" stroke="#7a963c" stroke-width="1.7" opacity="0.7"/>
<line x1="623.6" y1="2277.9" x2="635.2" y2="2260.3" stroke="#9a6038" stroke-width="1.7" opacity="0.7"/>
<line x1="584.1" y1="2346.4" x2="574.2" y2="2366.7" stroke="#9a6038" stroke-width="1.7" opacity="0.7"/>
<line x1="622.4" y1="2342.0" x2="636.0" y2="2359.1" stroke="#5a7f33" stroke-width="1.7" opacity="0.7"/>
<line x1="567.4" y1="2302.6" x2="532.9" y2="2290.6" stroke="#62863a" stroke-width="1.7" opacity="0.7"/>
<line x1="568.4" y1="2331.8" x2="550.2" y2="2342.1" stroke="#8aa24a" stroke-width="1.7" opacity="0.7"/>
<line x1="620.2" y1="2282.0" x2="631.8" y2="2263.6" stroke="#5a7f33" stroke-width="1.7" opacity="0.7"/>
<line x1="631.0" y1="2339.4" x2="650.0" y2="2355.0" stroke="#86a244" stroke-width="1.7" opacity="0.7"/>
<line x1="632.7" y1="2309.6" x2="670.8" y2="2304.4" stroke="#807434" stroke-width="1.7" opacity="0.7"/>
<line x1="556.5" y1="2296.8" x2="545.4" y2="2292.4" stroke="#807434" stroke-width="1.7" opacity="0.7"/>
<line x1="638.9" y1="2306.7" x2="660.0" y2="2302.8" stroke="#807434" stroke-width="1.7" opacity="0.7"/>
<line x1="630.0" y1="2298.7" x2="654.8" y2="2286.1" stroke="#86a244" stroke-width="1.7" opacity="0.7"/>
<line x1="642.0" y1="2329.8" x2="657.6" y2="2335.8" stroke="#557a30" stroke-width="1.7" opacity="0.7"/>
<line x1="561.7" y1="2328.6" x2="539.1" y2="2337.2" stroke="#5a7f33" stroke-width="1.7" opacity="0.7"/>
<line x1="646.7" y1="2314.6" x2="665.4" y2="2314.8" stroke="#86a244" stroke-width="1.7" opacity="0.7"/>
<line x1="579.2" y1="2339.2" x2="559.5" y2="2362.9" stroke="#62863a" stroke-width="1.7" opacity="0.7"/>
<line x1="569.0" y1="2299.1" x2="546.2" y2="2288.1" stroke="#807434" stroke-width="1.7" opacity="0.7"/>
<line x1="591.5" y1="2279.6" x2="586.1" y2="2257.6" stroke="#6f943c" stroke-width="1.7" opacity="0.7"/>
<line x1="634.5" y1="2285.2" x2="653.2" y2="2269.6" stroke="#86a244" stroke-width="1.7" opacity="0.7"/>
<line x1="611.7" y1="2355.2" x2="618.6" y2="2379.8" stroke="#807434" stroke-width="1.7" opacity="0.7"/>
<line x1="569.2" y1="2296.3" x2="549.8" y2="2285.2" stroke="#6d903c" stroke-width="1.7" opacity="0.7"/>
<line x1="562.5" y1="2338.4" x2="551.6" y2="2345.5" stroke="#9a6038" stroke-width="1.7" opacity="0.7"/>
<line x1="576.1" y1="2354.3" x2="563.8" y2="2375.0" stroke="#5a7f33" stroke-width="1.7" opacity="0.7"/>
<line x1="633.1" y1="2335.1" x2="658.4" y2="2351.2" stroke="#86a244" stroke-width="1.7" opacity="0.7"/>
<line x1="625.4" y1="2287.6" x2="641.5" y2="2270.9" stroke="#9a6038" stroke-width="1.7" opacity="0.7"/>
<line x1="643.2" y1="2324.1" x2="664.4" y2="2329.1" stroke="#557a30" stroke-width="1.7" opacity="0.7"/>
<line x1="570.0" y1="2352.1" x2="555.1" y2="2371.1" stroke="#6f943c" stroke-width="1.7" opacity="0.7"/>
<line x1="632.4" y1="2344.7" x2="650.9" y2="2362.3" stroke="#9a6038" stroke-width="1.7" opacity="0.7"/>
<line x1="608.6" y1="2267.4" x2="612.0" y2="2248.9" stroke="#557a30" stroke-width="1.7" opacity="0.7"/>
<line x1="591.3" y1="2346.7" x2="582.3" y2="2380.4" stroke="#5a7f33" stroke-width="1.7" opacity="0.7"/>
<line x1="558.8" y1="2310.5" x2="534.7" y2="2308.5" stroke="#557a30" stroke-width="1.7" opacity="0.7"/>
<line x1="601.4" y1="2347.5" x2="602.7" y2="2380.9" stroke="#86a244" stroke-width="1.7" opacity="0.7"/>
<line x1="629.1" y1="2335.9" x2="656.0" y2="2356.2" stroke="#557a30" stroke-width="1.7" opacity="0.7"/>
<line x1="648.0" y1="2319.9" x2="668.4" y2="2322.4" stroke="#62863a" stroke-width="1.7" opacity="0.7"/>
<line x1="642.3" y1="2318.7" x2="665.8" y2="2321.3" stroke="#6d903c" stroke-width="1.7" opacity="0.7"/>
<line x1="602.9" y1="2353.7" x2="604.6" y2="2376.4" stroke="#6f943c" stroke-width="1.7" opacity="0.7"/>
<line x1="593.3" y1="2281.9" x2="587.9" y2="2256.4" stroke="#5a7f33" stroke-width="1.7" opacity="0.7"/>
<line x1="561.0" y1="2290.6" x2="549.7" y2="2283.9" stroke="#6f943c" stroke-width="1.7" opacity="0.7"/>
<line x1="571.5" y1="2333.2" x2="544.9" y2="2351.1" stroke="#807434" stroke-width="1.7" opacity="0.7"/>
<line x1="625.3" y1="2347.6" x2="641.5" y2="2369.1" stroke="#86a244" stroke-width="1.7" opacity="0.7"/>
<line x1="600.1" y1="2314.0" x2="641.9" y2="2299.9" stroke="#55505a" stroke-width="1.5" opacity="0.7"/>
<line x1="596.5" y1="2311.5" x2="576.0" y2="2297.2" stroke="#3a3a3c" stroke-width="1.5" opacity="0.7"/>
<line x1="600.4" y1="2311.6" x2="605.8" y2="2280.1" stroke="#40463a" stroke-width="1.5" opacity="0.7"/>
<line x1="598.7" y1="2308.2" x2="590.9" y2="2272.6" stroke="#40463a" stroke-width="1.5" opacity="0.7"/>
<line x1="602.4" y1="2308.5" x2="611.8" y2="2286.7" stroke="#4a4650" stroke-width="1.5" opacity="0.7"/>
<line x1="606.4" y1="2312.3" x2="633.4" y2="2304.9" stroke="#55505a" stroke-width="1.5" opacity="0.7"/>
<line x1="600.0" y1="2313.9" x2="583.8" y2="2287.4" stroke="#4a4650" stroke-width="1.5" opacity="0.7"/>
<line x1="602.8" y1="2315.3" x2="637.1" y2="2331.3" stroke="#3a3a3c" stroke-width="1.5" opacity="0.7"/>
<line x1="600.5" y1="2317.0" x2="605.9" y2="2351.8" stroke="#55505a" stroke-width="1.5" opacity="0.7"/>
<line x1="596.2" y1="2309.7" x2="566.3" y2="2276.6" stroke="#3a3a3c" stroke-width="1.5" opacity="0.7"/>
<line x1="604.4" y1="2315.0" x2="634.2" y2="2321.5" stroke="#40463a" stroke-width="1.5" opacity="0.7"/>
<line x1="596.0" y1="2309.9" x2="579.7" y2="2292.9" stroke="#3a3a3c" stroke-width="1.5" opacity="0.7"/>
<line x1="600.0" y1="2317.7" x2="599.9" y2="2353.2" stroke="#3a3a3c" stroke-width="1.5" opacity="0.7"/>
<line x1="599.5" y1="2316.1" x2="589.6" y2="2357.3" stroke="#3a3a3c" stroke-width="1.5" opacity="0.7"/>
<line x1="606.3" y1="2316.5" x2="647.6" y2="2333.0" stroke="#40463a" stroke-width="1.5" opacity="0.7"/>
<line x1="603.6" y1="2316.1" x2="644.5" y2="2340.1" stroke="#55505a" stroke-width="1.5" opacity="0.7"/>
<line x1="600.7" y1="2314.7" x2="625.4" y2="2339.1" stroke="#55505a" stroke-width="1.5" opacity="0.7"/>
<line x1="598.3" y1="2313.1" x2="558.7" y2="2292.2" stroke="#40463a" stroke-width="1.5" opacity="0.7"/>
<line x1="602.3" y1="2310.3" x2="622.8" y2="2278.0" stroke="#55505a" stroke-width="1.5" opacity="0.7"/>
<line x1="601.5" y1="2318.8" x2="612.0" y2="2352.0" stroke="#40463a" stroke-width="1.5" opacity="0.7"/>
<line x1="597.5" y1="2311.8" x2="572.6" y2="2290.5" stroke="#4a4650" stroke-width="1.5" opacity="0.7"/>
<line x1="599.3" y1="2315.2" x2="578.9" y2="2350.3" stroke="#55505a" stroke-width="1.5" opacity="0.7"/>
<line x1="602.5" y1="2314.2" x2="649.7" y2="2317.7" stroke="#4a4650" stroke-width="1.5" opacity="0.7"/>
<line x1="599.0" y1="2316.1" x2="584.3" y2="2345.4" stroke="#4a4650" stroke-width="1.5" opacity="0.7"/>
<line x1="598.5" y1="2319.3" x2="590.9" y2="2345.0" stroke="#3a3a3c" stroke-width="1.5" opacity="0.7"/>
<line x1="598.1" y1="2312.5" x2="564.8" y2="2286.4" stroke="#55505a" stroke-width="1.5" opacity="0.7"/>
<line x1="601.3" y1="2311.8" x2="623.9" y2="2273.1" stroke="#4a4650" stroke-width="1.5" opacity="0.7"/>
<line x1="604.8" y1="2313.7" x2="651.5" y2="2310.5" stroke="#55505a" stroke-width="1.5" opacity="0.7"/>
<line x1="598.7" y1="2316.1" x2="576.5" y2="2352.6" stroke="#40463a" stroke-width="1.5" opacity="0.7"/>
<line x1="601.6" y1="2310.7" x2="620.2" y2="2271.8" stroke="#55505a" stroke-width="1.5" opacity="0.7"/>
<line x1="599.5" y1="2318.4" x2="594.8" y2="2357.8" stroke="#4a4650" stroke-width="1.5" opacity="0.7"/>
<line x1="599.4" y1="2314.4" x2="567.0" y2="2334.1" stroke="#3a3a3c" stroke-width="1.5" opacity="0.7"/>
<line x1="593.2" y1="2314.1" x2="557.4" y2="2314.6" stroke="#55505a" stroke-width="1.5" opacity="0.7"/>
<line x1="601.2" y1="2312.4" x2="625.8" y2="2278.5" stroke="#3a3a3c" stroke-width="1.5" opacity="0.7"/>
<line x1="597.7" y1="2316.2" x2="571.1" y2="2341.3" stroke="#40463a" stroke-width="1.5" opacity="0.7"/>
<line x1="599.3" y1="2316.7" x2="588.8" y2="2354.7" stroke="#55505a" stroke-width="1.5" opacity="0.7"/>
</g>
<circle cx="149.4" cy="1928.6" r="60.8" fill="#2a2a2a" opacity="0.6" filter="url(#blur5)"/>
<g filter="url(#rough)">
<circle cx="137.0" cy="1910.0" r="60.1" fill="url(#tg2)"/>
<line x1="120.3" y1="1887.5" x2="101.0" y2="1861.7" stroke="#5a7f33" stroke-width="1.7" opacity="0.7"/>
<line x1="113.2" y1="1932.2" x2="95.1" y2="1949.0" stroke="#86a244" stroke-width="1.7" opacity="0.7"/>
<line x1="106.0" y1="1923.3" x2="88.4" y2="1930.8" stroke="#9a6038" stroke-width="1.7" opacity="0.7"/>
<line x1="118.7" y1="1946.6" x2="109.4" y2="1965.0" stroke="#9a6038" stroke-width="1.7" opacity="0.7"/>
<line x1="146.8" y1="1943.1" x2="154.7" y2="1970.0" stroke="#557a30" stroke-width="1.7" opacity="0.7"/>
<line x1="168.5" y1="1915.1" x2="198.6" y2="1920.0" stroke="#62863a" stroke-width="1.7" opacity="0.7"/>
<line x1="172.0" y1="1890.9" x2="187.2" y2="1882.5" stroke="#7a963c" stroke-width="1.7" opacity="0.7"/>
<line x1="101.3" y1="1906.1" x2="78.0" y2="1903.5" stroke="#7a963c" stroke-width="1.7" opacity="0.7"/>
<line x1="109.2" y1="1916.4" x2="79.2" y2="1923.2" stroke="#5a7f33" stroke-width="1.7" opacity="0.7"/>
<line x1="173.3" y1="1897.7" x2="191.1" y2="1891.6" stroke="#6f943c" stroke-width="1.7" opacity="0.7"/>
<line x1="106.9" y1="1929.2" x2="87.4" y2="1941.7" stroke="#8aa24a" stroke-width="1.7" opacity="0.7"/>
<line x1="154.4" y1="1935.4" x2="168.5" y2="1955.8" stroke="#7a963c" stroke-width="1.7" opacity="0.7"/>
<line x1="102.0" y1="1923.8" x2="77.7" y2="1933.4" stroke="#9a6038" stroke-width="1.7" opacity="0.7"/>
<line x1="122.8" y1="1873.2" x2="118.7" y2="1862.5" stroke="#9a6038" stroke-width="1.7" opacity="0.7"/>
<line x1="119.1" y1="1949.2" x2="111.5" y2="1965.8" stroke="#6d903c" stroke-width="1.7" opacity="0.7"/>
<line x1="154.2" y1="1944.0" x2="161.3" y2="1958.0" stroke="#9a6038" stroke-width="1.7" opacity="0.7"/>
<line x1="155.6" y1="1870.9" x2="163.7" y2="1853.8" stroke="#7a963c" stroke-width="1.7" opacity="0.7"/>
<line x1="112.5" y1="1883.6" x2="95.4" y2="1865.1" stroke="#807434" stroke-width="1.7" opacity="0.7"/>
<line x1="106.2" y1="1909.1" x2="84.8" y2="1908.4" stroke="#8aa24a" stroke-width="1.7" opacity="0.7"/>
<line x1="110.4" y1="1889.9" x2="86.2" y2="1871.5" stroke="#557a30" stroke-width="1.7" opacity="0.7"/>
<line x1="127.0" y1="1883.8" x2="119.2" y2="1863.6" stroke="#6d903c" stroke-width="1.7" opacity="0.7"/>
<line x1="169.6" y1="1910.8" x2="198.6" y2="1911.5" stroke="#8aa24a" stroke-width="1.7" opacity="0.7"/>
<line x1="165.2" y1="1912.7" x2="188.9" y2="1915.0" stroke="#6d903c" stroke-width="1.7" opacity="0.7"/>
<line x1="99.2" y1="1893.1" x2="80.1" y2="1884.5" stroke="#6d903c" stroke-width="1.7" opacity="0.7"/>
<line x1="173.8" y1="1909.3" x2="192.5" y2="1909.0" stroke="#6f943c" stroke-width="1.7" opacity="0.7"/>
<line x1="159.0" y1="1938.4" x2="171.8" y2="1955.0" stroke="#557a30" stroke-width="1.7" opacity="0.7"/>
<line x1="161.7" y1="1928.0" x2="183.1" y2="1943.6" stroke="#5a7f33" stroke-width="1.7" opacity="0.7"/>
<line x1="106.4" y1="1883.7" x2="98.7" y2="1877.1" stroke="#557a30" stroke-width="1.7" opacity="0.7"/>
<line x1="122.3" y1="1876.2" x2="116.4" y2="1862.7" stroke="#807434" stroke-width="1.7" opacity="0.7"/>
<line x1="118.5" y1="1934.3" x2="104.6" y2="1952.4" stroke="#6f943c" stroke-width="1.7" opacity="0.7"/>
<line x1="164.0" y1="1877.1" x2="169.0" y2="1871.0" stroke="#807434" stroke-width="1.7" opacity="0.7"/>
<line x1="104.8" y1="1920.5" x2="89.1" y2="1925.6" stroke="#7a963c" stroke-width="1.7" opacity="0.7"/>
<line x1="99.9" y1="1888.8" x2="88.5" y2="1882.3" stroke="#8aa24a" stroke-width="1.7" opacity="0.7"/>
<line x1="139.3" y1="1941.3" x2="140.8" y2="1961.7" stroke="#8aa24a" stroke-width="1.7" opacity="0.7"/>
<line x1="157.0" y1="1884.1" x2="175.2" y2="1860.6" stroke="#5a7f33" stroke-width="1.7" opacity="0.7"/>
<line x1="124.7" y1="1945.1" x2="116.1" y2="1969.7" stroke="#5a7f33" stroke-width="1.7" opacity="0.7"/>
<line x1="165.7" y1="1906.3" x2="195.8" y2="1902.4" stroke="#8aa24a" stroke-width="1.7" opacity="0.7"/>
<line x1="142.8" y1="1942.2" x2="148.1" y2="1971.1" stroke="#5a7f33" stroke-width="1.7" opacity="0.7"/>
<line x1="177.9" y1="1915.8" x2="187.3" y2="1917.1" stroke="#86a244" stroke-width="1.7" opacity="0.7"/>
<line x1="117.6" y1="1933.9" x2="97.0" y2="1959.3" stroke="#62863a" stroke-width="1.7" opacity="0.7"/>
<line x1="110.4" y1="1930.4" x2="93.8" y2="1943.1" stroke="#7a963c" stroke-width="1.7" opacity="0.7"/>
<line x1="117.5" y1="1942.6" x2="104.5" y2="1964.3" stroke="#7a963c" stroke-width="1.7" opacity="0.7"/>
<line x1="152.3" y1="1880.4" x2="161.3" y2="1862.8" stroke="#807434" stroke-width="1.7" opacity="0.7"/>
<line x1="104.5" y1="1916.8" x2="82.4" y2="1921.5" stroke="#62863a" stroke-width="1.7" opacity="0.7"/>
<line x1="120.0" y1="1881.5" x2="110.4" y2="1865.5" stroke="#86a244" stroke-width="1.7" opacity="0.7"/>
<line x1="163.8" y1="1927.6" x2="188.4" y2="1943.8" stroke="#86a244" stroke-width="1.7" opacity="0.7"/>
<line x1="103.9" y1="1898.1" x2="79.7" y2="1889.4" stroke="#807434" stroke-width="1.7" opacity="0.7"/>
<line x1="155.0" y1="1938.1" x2="169.3" y2="1960.4" stroke="#7a963c" stroke-width="1.7" opacity="0.7"/>
<line x1="111.6" y1="1883.2" x2="100.0" y2="1870.9" stroke="#5a7f33" stroke-width="1.7" opacity="0.7"/>
<line x1="105.6" y1="1909.0" x2="81.0" y2="1908.3" stroke="#86a244" stroke-width="1.7" opacity="0.7"/>
<line x1="177.5" y1="1894.6" x2="191.3" y2="1889.3" stroke="#5a7f33" stroke-width="1.7" opacity="0.7"/>
<line x1="108.4" y1="1892.4" x2="91.7" y2="1882.2" stroke="#8aa24a" stroke-width="1.7" opacity="0.7"/>
<line x1="107.2" y1="1908.1" x2="76.8" y2="1906.1" stroke="#6d903c" stroke-width="1.7" opacity="0.7"/>
<line x1="171.5" y1="1932.3" x2="187.4" y2="1942.7" stroke="#7a963c" stroke-width="1.7" opacity="0.7"/>
<line x1="175.4" y1="1917.0" x2="187.8" y2="1919.3" stroke="#557a30" stroke-width="1.7" opacity="0.7"/>
<line x1="114.5" y1="1928.6" x2="96.9" y2="1943.2" stroke="#807434" stroke-width="1.7" opacity="0.7"/>
<line x1="120.5" y1="1944.4" x2="114.9" y2="1956.1" stroke="#6d903c" stroke-width="1.7" opacity="0.7"/>
<line x1="171.6" y1="1889.2" x2="188.8" y2="1878.9" stroke="#807434" stroke-width="1.7" opacity="0.7"/>
<line x1="167.0" y1="1923.2" x2="185.4" y2="1931.3" stroke="#86a244" stroke-width="1.7" opacity="0.7"/>
<line x1="150.9" y1="1878.9" x2="159.3" y2="1860.1" stroke="#5a7f33" stroke-width="1.7" opacity="0.7"/>
<line x1="143.5" y1="1868.9" x2="146.7" y2="1848.9" stroke="#86a244" stroke-width="1.7" opacity="0.7"/>
<line x1="165.2" y1="1898.1" x2="187.6" y2="1888.8" stroke="#9a6038" stroke-width="1.7" opacity="0.7"/>
<line x1="159.6" y1="1892.9" x2="184.6" y2="1874.0" stroke="#5a7f33" stroke-width="1.7" opacity="0.7"/>
<line x1="137.4" y1="1951.0" x2="137.5" y2="1964.6" stroke="#6f943c" stroke-width="1.7" opacity="0.7"/>
<line x1="149.4" y1="1937.0" x2="163.1" y2="1966.9" stroke="#807434" stroke-width="1.7" opacity="0.7"/>
<line x1="130.4" y1="1882.3" x2="125.3" y2="1861.2" stroke="#86a244" stroke-width="1.7" opacity="0.7"/>
<line x1="101.1" y1="1926.7" x2="90.0" y2="1931.9" stroke="#557a30" stroke-width="1.7" opacity="0.7"/>
<line x1="101.4" y1="1897.8" x2="77.4" y2="1889.6" stroke="#8aa24a" stroke-width="1.7" opacity="0.7"/>
<line x1="156.6" y1="1878.9" x2="168.9" y2="1859.4" stroke="#62863a" stroke-width="1.7" opacity="0.7"/>
<line x1="171.2" y1="1892.8" x2="188.6" y2="1884.0" stroke="#557a30" stroke-width="1.7" opacity="0.7"/>
<line x1="140.6" y1="1913.1" x2="166.8" y2="1935.2" stroke="#3a3a3c" stroke-width="1.5" opacity="0.7"/>
<line x1="139.6" y1="1907.4" x2="165.2" y2="1881.8" stroke="#4a4650" stroke-width="1.5" opacity="0.7"/>
<line x1="136.9" y1="1909.8" x2="123.7" y2="1881.2" stroke="#40463a" stroke-width="1.5" opacity="0.7"/>
<line x1="137.0" y1="1909.5" x2="136.9" y2="1870.1" stroke="#55505a" stroke-width="1.5" opacity="0.7"/>
<line x1="140.8" y1="1910.0" x2="166.6" y2="1909.6" stroke="#3a3a3c" stroke-width="1.5" opacity="0.7"/>
<line x1="133.6" y1="1914.8" x2="116.9" y2="1938.0" stroke="#40463a" stroke-width="1.5" opacity="0.7"/>
<line x1="135.4" y1="1905.7" x2="121.6" y2="1870.0" stroke="#55505a" stroke-width="1.5" opacity="0.7"/>
<line x1="132.8" y1="1909.8" x2="107.8" y2="1908.4" stroke="#4a4650" stroke-width="1.5" opacity="0.7"/>
<line x1="135.8" y1="1910.1" x2="91.6" y2="1913.0" stroke="#40463a" stroke-width="1.5" opacity="0.7"/>
<line x1="137.5" y1="1910.9" x2="156.1" y2="1947.1" stroke="#4a4650" stroke-width="1.5" opacity="0.7"/>
<line x1="135.5" y1="1909.6" x2="111.9" y2="1902.9" stroke="#40463a" stroke-width="1.5" opacity="0.7"/>
<line x1="136.7" y1="1910.5" x2="114.9" y2="1941.6" stroke="#4a4650" stroke-width="1.5" opacity="0.7"/>
<line x1="139.9" y1="1913.3" x2="162.7" y2="1939.8" stroke="#4a4650" stroke-width="1.5" opacity="0.7"/>
<line x1="137.0" y1="1910.0" x2="126.0" y2="1871.7" stroke="#4a4650" stroke-width="1.5" opacity="0.7"/>
<line x1="139.0" y1="1909.1" x2="165.8" y2="1897.7" stroke="#4a4650" stroke-width="1.5" opacity="0.7"/>
<line x1="135.7" y1="1909.2" x2="104.2" y2="1889.9" stroke="#3a3a3c" stroke-width="1.5" opacity="0.7"/>
<line x1="132.5" y1="1908.6" x2="109.8" y2="1901.5" stroke="#4a4650" stroke-width="1.5" opacity="0.7"/>
<line x1="134.7" y1="1908.3" x2="103.3" y2="1885.9" stroke="#4a4650" stroke-width="1.5" opacity="0.7"/>
<line x1="138.3" y1="1911.2" x2="161.5" y2="1931.5" stroke="#4a4650" stroke-width="1.5" opacity="0.7"/>
<line x1="142.3" y1="1911.5" x2="167.2" y2="1918.5" stroke="#3a3a3c" stroke-width="1.5" opacity="0.7"/>
<line x1="136.2" y1="1907.3" x2="128.8" y2="1884.0" stroke="#40463a" stroke-width="1.5" opacity="0.7"/>
<line x1="133.7" y1="1911.2" x2="107.8" y2="1920.5" stroke="#3a3a3c" stroke-width="1.5" opacity="0.7"/>
<line x1="139.8" y1="1910.8" x2="181.2" y2="1923.0" stroke="#55505a" stroke-width="1.5" opacity="0.7"/>
<line x1="140.8" y1="1912.2" x2="176.8" y2="1933.2" stroke="#40463a" stroke-width="1.5" opacity="0.7"/>
<line x1="139.3" y1="1911.9" x2="163.5" y2="1931.6" stroke="#4a4650" stroke-width="1.5" opacity="0.7"/>
<line x1="137.4" y1="1908.0" x2="143.9" y2="1878.1" stroke="#3a3a3c" stroke-width="1.5" opacity="0.7"/>
<line x1="134.6" y1="1906.9" x2="109.3" y2="1874.5" stroke="#40463a" stroke-width="1.5" opacity="0.7"/>
<line x1="136.7" y1="1909.6" x2="113.5" y2="1876.4" stroke="#3a3a3c" stroke-width="1.5" opacity="0.7"/>
<line x1="137.8" y1="1904.9" x2="141.8" y2="1879.1" stroke="#4a4650" stroke-width="1.5" opacity="0.7"/>
<line x1="140.2" y1="1909.2" x2="180.0" y2="1899.5" stroke="#4a4650" stroke-width="1.5" opacity="0.7"/>
<line x1="140.6" y1="1912.7" x2="162.3" y2="1928.9" stroke="#40463a" stroke-width="1.5" opacity="0.7"/>
<line x1="134.1" y1="1912.8" x2="113.4" y2="1932.4" stroke="#4a4650" stroke-width="1.5" opacity="0.7"/>
<line x1="134.7" y1="1912.5" x2="114.8" y2="1934.1" stroke="#40463a" stroke-width="1.5" opacity="0.7"/>
<line x1="137.0" y1="1910.3" x2="139.5" y2="1947.0" stroke="#55505a" stroke-width="1.5" opacity="0.7"/>
<line x1="141.8" y1="1906.7" x2="166.4" y2="1890.1" stroke="#55505a" stroke-width="1.5" opacity="0.7"/>
<line x1="136.3" y1="1903.9" x2="132.4" y2="1872.4" stroke="#3a3a3c" stroke-width="1.5" opacity="0.7"/>
</g>
<circle cx="1202.8" cy="2369.2" r="62.7" fill="#2a2a2a" opacity="0.6" filter="url(#blur5)"/>
<g filter="url(#rough)">
<circle cx="1190.0" cy="2350.0" r="62.1" fill="url(#tg2)"/>
<line x1="1210.4" y1="2375.2" x2="1223.4" y2="2391.4" stroke="#7a963c" stroke-width="1.7" opacity="0.7"/>
<line x1="1214.9" y1="2365.7" x2="1238.8" y2="2380.8" stroke="#807434" stroke-width="1.7" opacity="0.7"/>
<line x1="1196.9" y1="2384.1" x2="1200.2" y2="2400.6" stroke="#8aa24a" stroke-width="1.7" opacity="0.7"/>
<line x1="1215.4" y1="2317.3" x2="1225.3" y2="2304.7" stroke="#62863a" stroke-width="1.7" opacity="0.7"/>
<line x1="1216.7" y1="2363.0" x2="1245.5" y2="2377.0" stroke="#9a6038" stroke-width="1.7" opacity="0.7"/>
<line x1="1216.7" y1="2361.1" x2="1250.3" y2="2375.1" stroke="#86a244" stroke-width="1.7" opacity="0.7"/>
<line x1="1215.9" y1="2332.2" x2="1235.7" y2="2318.5" stroke="#5a7f33" stroke-width="1.7" opacity="0.7"/>
<line x1="1203.2" y1="2312.7" x2="1209.9" y2="2293.9" stroke="#5a7f33" stroke-width="1.7" opacity="0.7"/>
<line x1="1219.2" y1="2367.3" x2="1239.9" y2="2379.5" stroke="#6d903c" stroke-width="1.7" opacity="0.7"/>
<line x1="1225.8" y1="2326.9" x2="1245.1" y2="2314.4" stroke="#8aa24a" stroke-width="1.7" opacity="0.7"/>
<line x1="1159.5" y1="2321.4" x2="1152.0" y2="2314.4" stroke="#9a6038" stroke-width="1.7" opacity="0.7"/>
<line x1="1164.0" y1="2328.8" x2="1143.9" y2="2312.3" stroke="#9a6038" stroke-width="1.7" opacity="0.7"/>
<line x1="1151.1" y1="2354.7" x2="1134.8" y2="2356.7" stroke="#9a6038" stroke-width="1.7" opacity="0.7"/>
<line x1="1151.8" y1="2342.6" x2="1127.5" y2="2337.9" stroke="#807434" stroke-width="1.7" opacity="0.7"/>
<line x1="1174.4" y1="2317.6" x2="1167.3" y2="2302.7" stroke="#8aa24a" stroke-width="1.7" opacity="0.7"/>
<line x1="1163.6" y1="2377.4" x2="1150.2" y2="2391.3" stroke="#6d903c" stroke-width="1.7" opacity="0.7"/>
<line x1="1192.2" y1="2385.8" x2="1193.4" y2="2404.9" stroke="#807434" stroke-width="1.7" opacity="0.7"/>
<line x1="1208.2" y1="2389.0" x2="1215.1" y2="2403.7" stroke="#6f943c" stroke-width="1.7" opacity="0.7"/>
<line x1="1197.6" y1="2391.5" x2="1200.9" y2="2409.8" stroke="#807434" stroke-width="1.7" opacity="0.7"/>
<line x1="1157.8" y1="2343.7" x2="1132.7" y2="2338.8" stroke="#6d903c" stroke-width="1.7" opacity="0.7"/>
<line x1="1153.8" y1="2359.7" x2="1130.7" y2="2366.0" stroke="#6d903c" stroke-width="1.7" opacity="0.7"/>
<line x1="1221.9" y1="2329.6" x2="1243.7" y2="2315.6" stroke="#6f943c" stroke-width="1.7" opacity="0.7"/>
<line x1="1199.6" y1="2320.6" x2="1208.2" y2="2294.3" stroke="#6d903c" stroke-width="1.7" opacity="0.7"/>
<line x1="1181.0" y1="2310.1" x2="1178.3" y2="2298.4" stroke="#6d903c" stroke-width="1.7" opacity="0.7"/>
<line x1="1223.7" y1="2375.2" x2="1235.6" y2="2384.1" stroke="#86a244" stroke-width="1.7" opacity="0.7"/>
<line x1="1221.2" y1="2343.6" x2="1247.0" y2="2338.4" stroke="#6f943c" stroke-width="1.7" opacity="0.7"/>
<line x1="1216.9" y1="2381.2" x2="1224.0" y2="2389.4" stroke="#807434" stroke-width="1.7" opacity="0.7"/>
<line x1="1218.2" y1="2358.6" x2="1248.8" y2="2368.0" stroke="#807434" stroke-width="1.7" opacity="0.7"/>
<line x1="1160.3" y1="2357.7" x2="1138.5" y2="2363.3" stroke="#6f943c" stroke-width="1.7" opacity="0.7"/>
<line x1="1159.0" y1="2320.5" x2="1146.9" y2="2309.0" stroke="#9a6038" stroke-width="1.7" opacity="0.7"/>
<line x1="1210.1" y1="2385.4" x2="1217.7" y2="2398.9" stroke="#557a30" stroke-width="1.7" opacity="0.7"/>
<line x1="1204.1" y1="2322.6" x2="1215.9" y2="2299.6" stroke="#6d903c" stroke-width="1.7" opacity="0.7"/>
<line x1="1228.2" y1="2337.1" x2="1239.1" y2="2333.4" stroke="#8aa24a" stroke-width="1.7" opacity="0.7"/>
<line x1="1169.1" y1="2377.5" x2="1156.1" y2="2394.6" stroke="#8aa24a" stroke-width="1.7" opacity="0.7"/>
<line x1="1223.1" y1="2378.4" x2="1236.4" y2="2389.8" stroke="#62863a" stroke-width="1.7" opacity="0.7"/>
<line x1="1165.7" y1="2381.6" x2="1158.6" y2="2390.8" stroke="#8aa24a" stroke-width="1.7" opacity="0.7"/>
<line x1="1151.5" y1="2365.3" x2="1135.7" y2="2371.5" stroke="#6f943c" stroke-width="1.7" opacity="0.7"/>
<line x1="1199.9" y1="2319.8" x2="1208.6" y2="2293.6" stroke="#62863a" stroke-width="1.7" opacity="0.7"/>
<line x1="1217.7" y1="2321.8" x2="1234.6" y2="2304.7" stroke="#8aa24a" stroke-width="1.7" opacity="0.7"/>
<line x1="1216.5" y1="2323.6" x2="1233.5" y2="2306.7" stroke="#62863a" stroke-width="1.7" opacity="0.7"/>
<line x1="1217.5" y1="2340.8" x2="1243.4" y2="2332.2" stroke="#86a244" stroke-width="1.7" opacity="0.7"/>
<line x1="1153.6" y1="2352.9" x2="1138.5" y2="2354.2" stroke="#557a30" stroke-width="1.7" opacity="0.7"/>
<line x1="1224.5" y1="2367.5" x2="1244.1" y2="2377.4" stroke="#8aa24a" stroke-width="1.7" opacity="0.7"/>
<line x1="1161.6" y1="2372.8" x2="1148.2" y2="2383.5" stroke="#5a7f33" stroke-width="1.7" opacity="0.7"/>
<line x1="1156.5" y1="2376.5" x2="1142.8" y2="2387.4" stroke="#6f943c" stroke-width="1.7" opacity="0.7"/>
<line x1="1166.1" y1="2378.6" x2="1154.2" y2="2392.8" stroke="#86a244" stroke-width="1.7" opacity="0.7"/>
<line x1="1165.0" y1="2334.3" x2="1144.5" y2="2321.4" stroke="#9a6038" stroke-width="1.7" opacity="0.7"/>
<line x1="1185.1" y1="2316.2" x2="1181.7" y2="2292.5" stroke="#9a6038" stroke-width="1.7" opacity="0.7"/>
<line x1="1176.6" y1="2381.4" x2="1167.1" y2="2403.6" stroke="#807434" stroke-width="1.7" opacity="0.7"/>
<line x1="1225.9" y1="2354.6" x2="1255.2" y2="2358.4" stroke="#557a30" stroke-width="1.7" opacity="0.7"/>
<line x1="1162.5" y1="2320.4" x2="1153.7" y2="2310.9" stroke="#7a963c" stroke-width="1.7" opacity="0.7"/>
<line x1="1184.6" y1="2386.4" x2="1182.0" y2="2404.5" stroke="#8aa24a" stroke-width="1.7" opacity="0.7"/>
<line x1="1155.8" y1="2333.0" x2="1142.3" y2="2326.3" stroke="#557a30" stroke-width="1.7" opacity="0.7"/>
<line x1="1227.2" y1="2328.0" x2="1235.3" y2="2323.2" stroke="#807434" stroke-width="1.7" opacity="0.7"/>
<line x1="1195.9" y1="2311.5" x2="1199.2" y2="2290.2" stroke="#9a6038" stroke-width="1.7" opacity="0.7"/>
<line x1="1200.8" y1="2309.9" x2="1204.2" y2="2297.2" stroke="#86a244" stroke-width="1.7" opacity="0.7"/>
<line x1="1175.9" y1="2319.4" x2="1163.9" y2="2293.3" stroke="#9a6038" stroke-width="1.7" opacity="0.7"/>
<line x1="1151.1" y1="2347.8" x2="1133.7" y2="2346.8" stroke="#6d903c" stroke-width="1.7" opacity="0.7"/>
<line x1="1182.7" y1="2316.6" x2="1176.8" y2="2289.9" stroke="#9a6038" stroke-width="1.7" opacity="0.7"/>
<line x1="1220.8" y1="2322.4" x2="1233.6" y2="2310.9" stroke="#807434" stroke-width="1.7" opacity="0.7"/>
<line x1="1206.3" y1="2308.3" x2="1209.4" y2="2300.2" stroke="#807434" stroke-width="1.7" opacity="0.7"/>
<line x1="1232.7" y1="2351.9" x2="1247.8" y2="2352.6" stroke="#5a7f33" stroke-width="1.7" opacity="0.7"/>
<line x1="1157.3" y1="2375.0" x2="1138.5" y2="2389.4" stroke="#8aa24a" stroke-width="1.7" opacity="0.7"/>
<line x1="1220.7" y1="2363.6" x2="1241.0" y2="2372.6" stroke="#8aa24a" stroke-width="1.7" opacity="0.7"/>
<line x1="1148.5" y1="2336.1" x2="1136.7" y2="2332.2" stroke="#807434" stroke-width="1.7" opacity="0.7"/>
<line x1="1164.0" y1="2335.0" x2="1143.4" y2="2323.1" stroke="#8aa24a" stroke-width="1.7" opacity="0.7"/>
<line x1="1168.0" y1="2378.9" x2="1150.4" y2="2402.1" stroke="#7a963c" stroke-width="1.7" opacity="0.7"/>
<line x1="1182.2" y1="2307.2" x2="1178.6" y2="2287.5" stroke="#9a6038" stroke-width="1.7" opacity="0.7"/>
<line x1="1216.8" y1="2330.3" x2="1234.3" y2="2317.4" stroke="#557a30" stroke-width="1.7" opacity="0.7"/>
<line x1="1192.1" y1="2311.2" x2="1192.9" y2="2295.4" stroke="#557a30" stroke-width="1.7" opacity="0.7"/>
<line x1="1190.5" y1="2352.5" x2="1196.0" y2="2379.5" stroke="#40463a" stroke-width="1.5" opacity="0.7"/>
<line x1="1192.7" y1="2346.9" x2="1209.7" y2="2327.4" stroke="#3a3a3c" stroke-width="1.5" opacity="0.7"/>
<line x1="1193.7" y1="2349.1" x2="1216.6" y2="2343.7" stroke="#40463a" stroke-width="1.5" opacity="0.7"/>
<line x1="1190.0" y1="2350.0" x2="1183.9" y2="2318.9" stroke="#3a3a3c" stroke-width="1.5" opacity="0.7"/>
<line x1="1186.2" y1="2345.5" x2="1170.6" y2="2326.6" stroke="#40463a" stroke-width="1.5" opacity="0.7"/>
<line x1="1190.1" y1="2349.9" x2="1214.6" y2="2323.0" stroke="#40463a" stroke-width="1.5" opacity="0.7"/>
<line x1="1192.5" y1="2354.9" x2="1209.8" y2="2388.6" stroke="#3a3a3c" stroke-width="1.5" opacity="0.7"/>
<line x1="1188.5" y1="2348.5" x2="1164.3" y2="2323.9" stroke="#55505a" stroke-width="1.5" opacity="0.7"/>
<line x1="1189.9" y1="2353.0" x2="1188.9" y2="2375.9" stroke="#40463a" stroke-width="1.5" opacity="0.7"/>
<line x1="1184.2" y1="2347.5" x2="1165.3" y2="2339.5" stroke="#40463a" stroke-width="1.5" opacity="0.7"/>
<line x1="1190.1" y1="2350.1" x2="1206.8" y2="2375.3" stroke="#3a3a3c" stroke-width="1.5" opacity="0.7"/>
<line x1="1188.5" y1="2351.8" x2="1169.1" y2="2375.9" stroke="#4a4650" stroke-width="1.5" opacity="0.7"/>
<line x1="1187.9" y1="2346.8" x2="1171.9" y2="2322.4" stroke="#40463a" stroke-width="1.5" opacity="0.7"/>
<line x1="1191.2" y1="2347.2" x2="1200.2" y2="2325.8" stroke="#40463a" stroke-width="1.5" opacity="0.7"/>
<line x1="1188.0" y1="2347.1" x2="1166.0" y2="2316.2" stroke="#40463a" stroke-width="1.5" opacity="0.7"/>
<line x1="1187.8" y1="2352.6" x2="1169.6" y2="2374.3" stroke="#40463a" stroke-width="1.5" opacity="0.7"/>
<line x1="1193.0" y1="2350.2" x2="1230.2" y2="2352.3" stroke="#40463a" stroke-width="1.5" opacity="0.7"/>
<line x1="1192.4" y1="2353.3" x2="1210.2" y2="2378.1" stroke="#3a3a3c" stroke-width="1.5" opacity="0.7"/>
<line x1="1193.7" y1="2348.5" x2="1216.1" y2="2339.1" stroke="#4a4650" stroke-width="1.5" opacity="0.7"/>
<line x1="1188.9" y1="2349.6" x2="1146.1" y2="2334.1" stroke="#40463a" stroke-width="1.5" opacity="0.7"/>
<line x1="1189.6" y1="2344.2" x2="1186.5" y2="2305.0" stroke="#4a4650" stroke-width="1.5" opacity="0.7"/>
<line x1="1187.8" y1="2349.6" x2="1149.2" y2="2342.6" stroke="#55505a" stroke-width="1.5" opacity="0.7"/>
<line x1="1193.2" y1="2349.6" x2="1229.6" y2="2345.6" stroke="#40463a" stroke-width="1.5" opacity="0.7"/>
<line x1="1192.0" y1="2348.5" x2="1214.7" y2="2332.3" stroke="#3a3a3c" stroke-width="1.5" opacity="0.7"/>
<line x1="1193.7" y1="2352.9" x2="1211.1" y2="2367.0" stroke="#55505a" stroke-width="1.5" opacity="0.7"/>
<line x1="1189.0" y1="2348.0" x2="1175.9" y2="2322.7" stroke="#55505a" stroke-width="1.5" opacity="0.7"/>
<line x1="1185.0" y1="2353.2" x2="1150.5" y2="2375.1" stroke="#4a4650" stroke-width="1.5" opacity="0.7"/>
<line x1="1190.1" y1="2350.0" x2="1230.7" y2="2358.0" stroke="#4a4650" stroke-width="1.5" opacity="0.7"/>
<line x1="1190.2" y1="2351.3" x2="1195.0" y2="2392.3" stroke="#40463a" stroke-width="1.5" opacity="0.7"/>
<line x1="1188.1" y1="2356.1" x2="1180.9" y2="2379.1" stroke="#4a4650" stroke-width="1.5" opacity="0.7"/>
<line x1="1184.1" y1="2350.8" x2="1147.6" y2="2356.1" stroke="#4a4650" stroke-width="1.5" opacity="0.7"/>
<line x1="1190.8" y1="2348.4" x2="1204.6" y2="2320.4" stroke="#55505a" stroke-width="1.5" opacity="0.7"/>
<line x1="1191.1" y1="2348.8" x2="1212.7" y2="2326.4" stroke="#55505a" stroke-width="1.5" opacity="0.7"/>
<line x1="1190.1" y1="2350.3" x2="1200.2" y2="2391.9" stroke="#40463a" stroke-width="1.5" opacity="0.7"/>
<line x1="1194.7" y1="2351.4" x2="1224.0" y2="2360.1" stroke="#55505a" stroke-width="1.5" opacity="0.7"/>
<line x1="1194.2" y1="2345.2" x2="1211.2" y2="2325.7" stroke="#3a3a3c" stroke-width="1.5" opacity="0.7"/>
</g>
<circle cx="149.8" cy="2177.7" r="18.6" fill="#2a2a2a" opacity="0.6" filter="url(#blur5)"/>
<g filter="url(#rough)">
<circle cx="146.0" cy="2172.0" r="18.4" fill="url(#tg2)"/>
<line x1="149.1" y1="2163.3" x2="152.5" y2="2153.9" stroke="#86a244" stroke-width="1.7" opacity="0.7"/>
<line x1="153.9" y1="2167.1" x2="161.6" y2="2162.3" stroke="#6f943c" stroke-width="1.7" opacity="0.7"/>
<line x1="146.1" y1="2161.2" x2="146.1" y2="2155.1" stroke="#7a963c" stroke-width="1.7" opacity="0.7"/>
<line x1="139.1" y1="2182.9" x2="136.2" y2="2187.5" stroke="#9a6038" stroke-width="1.7" opacity="0.7"/>
<line x1="154.6" y1="2170.9" x2="162.1" y2="2169.9" stroke="#557a30" stroke-width="1.7" opacity="0.7"/>
<line x1="156.6" y1="2174.6" x2="161.8" y2="2175.8" stroke="#7a963c" stroke-width="1.7" opacity="0.7"/>
<line x1="142.2" y1="2160.6" x2="141.1" y2="2157.4" stroke="#9a6038" stroke-width="1.7" opacity="0.7"/>
<line x1="154.3" y1="2175.6" x2="163.8" y2="2179.6" stroke="#86a244" stroke-width="1.7" opacity="0.7"/>
<line x1="137.5" y1="2170.6" x2="130.0" y2="2169.4" stroke="#6d903c" stroke-width="1.7" opacity="0.7"/>
<line x1="153.2" y1="2181.7" x2="156.4" y2="2185.9" stroke="#6f943c" stroke-width="1.7" opacity="0.7"/>
<line x1="133.7" y1="2169.7" x2="127.0" y2="2168.4" stroke="#6f943c" stroke-width="1.7" opacity="0.7"/>
<line x1="140.4" y1="2179.8" x2="134.6" y2="2187.8" stroke="#807434" stroke-width="1.7" opacity="0.7"/>
<line x1="144.9" y1="2162.2" x2="144.1" y2="2156.1" stroke="#62863a" stroke-width="1.7" opacity="0.7"/>
<line x1="144.4" y1="2185.0" x2="144.1" y2="2187.9" stroke="#557a30" stroke-width="1.7" opacity="0.7"/>
<line x1="136.6" y1="2178.1" x2="131.9" y2="2181.2" stroke="#557a30" stroke-width="1.7" opacity="0.7"/>
<line x1="142.0" y1="2179.8" x2="138.1" y2="2187.3" stroke="#62863a" stroke-width="1.7" opacity="0.7"/>
<line x1="134.7" y1="2168.4" x2="127.4" y2="2166.1" stroke="#62863a" stroke-width="1.7" opacity="0.7"/>
<line x1="137.9" y1="2178.0" x2="132.3" y2="2182.1" stroke="#86a244" stroke-width="1.7" opacity="0.7"/>
<line x1="138.1" y1="2178.8" x2="133.1" y2="2183.1" stroke="#86a244" stroke-width="1.7" opacity="0.7"/>
<line x1="155.3" y1="2165.1" x2="159.0" y2="2162.3" stroke="#6d903c" stroke-width="1.7" opacity="0.7"/>
<line x1="154.7" y1="2167.6" x2="162.0" y2="2164.0" stroke="#7a963c" stroke-width="1.7" opacity="0.7"/>
<line x1="158.5" y1="2171.3" x2="164.1" y2="2171.0" stroke="#6f943c" stroke-width="1.7" opacity="0.7"/>
<line x1="152.8" y1="2161.8" x2="156.6" y2="2156.0" stroke="#557a30" stroke-width="1.7" opacity="0.7"/>
<line x1="136.7" y1="2178.2" x2="130.9" y2="2182.1" stroke="#5a7f33" stroke-width="1.7" opacity="0.7"/>
<line x1="136.4" y1="2169.0" x2="127.5" y2="2166.1" stroke="#557a30" stroke-width="1.7" opacity="0.7"/>
<line x1="134.5" y1="2173.9" x2="129.0" y2="2174.9" stroke="#9a6038" stroke-width="1.7" opacity="0.7"/>
<line x1="134.9" y1="2164.7" x2="132.4" y2="2163.1" stroke="#7a963c" stroke-width="1.7" opacity="0.7"/>
<line x1="140.6" y1="2179.0" x2="134.1" y2="2187.4" stroke="#62863a" stroke-width="1.7" opacity="0.7"/>
<line x1="137.1" y1="2164.3" x2="133.4" y2="2161.2" stroke="#6d903c" stroke-width="1.7" opacity="0.7"/>
<line x1="139.4" y1="2160.9" x2="136.5" y2="2156.1" stroke="#62863a" stroke-width="1.7" opacity="0.7"/>
<line x1="155.1" y1="2166.1" x2="161.4" y2="2162.0" stroke="#6d903c" stroke-width="1.7" opacity="0.7"/>
<line x1="136.5" y1="2166.0" x2="129.4" y2="2161.6" stroke="#6f943c" stroke-width="1.7" opacity="0.7"/>
<line x1="155.9" y1="2167.1" x2="161.7" y2="2164.3" stroke="#6d903c" stroke-width="1.7" opacity="0.7"/>
<line x1="151.0" y1="2181.0" x2="154.8" y2="2187.9" stroke="#86a244" stroke-width="1.7" opacity="0.7"/>
<line x1="150.7" y1="2162.3" x2="153.9" y2="2155.8" stroke="#557a30" stroke-width="1.7" opacity="0.7"/>
<line x1="141.5" y1="2181.2" x2="137.7" y2="2189.1" stroke="#7a963c" stroke-width="1.7" opacity="0.7"/>
<line x1="152.6" y1="2178.5" x2="157.7" y2="2183.4" stroke="#6f943c" stroke-width="1.7" opacity="0.7"/>
<line x1="138.3" y1="2180.8" x2="134.5" y2="2185.1" stroke="#62863a" stroke-width="1.7" opacity="0.7"/>
<line x1="137.4" y1="2174.6" x2="129.8" y2="2176.9" stroke="#5a7f33" stroke-width="1.7" opacity="0.7"/>
<line x1="142.4" y1="2161.9" x2="140.1" y2="2155.7" stroke="#86a244" stroke-width="1.7" opacity="0.7"/>
<line x1="146.5" y1="2162.8" x2="147.0" y2="2153.9" stroke="#9a6038" stroke-width="1.7" opacity="0.7"/>
<line x1="134.3" y1="2172.8" x2="128.1" y2="2173.3" stroke="#6d903c" stroke-width="1.7" opacity="0.7"/>
<line x1="140.4" y1="2180.7" x2="137.8" y2="2184.9" stroke="#807434" stroke-width="1.7" opacity="0.7"/>
<line x1="155.8" y1="2172.0" x2="163.8" y2="2172.1" stroke="#62863a" stroke-width="1.7" opacity="0.7"/>
<line x1="144.0" y1="2162.3" x2="142.7" y2="2155.7" stroke="#807434" stroke-width="1.7" opacity="0.7"/>
<line x1="145.0" y1="2182.6" x2="144.3" y2="2189.4" stroke="#5a7f33" stroke-width="1.7" opacity="0.7"/>
<line x1="152.0" y1="2164.6" x2="156.8" y2="2158.8" stroke="#62863a" stroke-width="1.7" opacity="0.7"/>
<line x1="138.4" y1="2165.0" x2="134.6" y2="2161.6" stroke="#5a7f33" stroke-width="1.7" opacity="0.7"/>
<line x1="139.8" y1="2178.2" x2="132.9" y2="2185.0" stroke="#7a963c" stroke-width="1.7" opacity="0.7"/>
<line x1="135.6" y1="2176.8" x2="131.2" y2="2178.9" stroke="#807434" stroke-width="1.7" opacity="0.7"/>
<line x1="137.5" y1="2179.5" x2="131.5" y2="2184.7" stroke="#807434" stroke-width="1.7" opacity="0.7"/>
<line x1="158.5" y1="2170.2" x2="163.6" y2="2169.5" stroke="#6f943c" stroke-width="1.7" opacity="0.7"/>
<line x1="140.9" y1="2163.3" x2="138.2" y2="2158.6" stroke="#5a7f33" stroke-width="1.7" opacity="0.7"/>
<line x1="138.0" y1="2179.6" x2="133.4" y2="2183.9" stroke="#557a30" stroke-width="1.7" opacity="0.7"/>
<line x1="154.7" y1="2179.0" x2="161.0" y2="2184.1" stroke="#7a963c" stroke-width="1.7" opacity="0.7"/>
<line x1="136.7" y1="2177.5" x2="129.6" y2="2181.7" stroke="#5a7f33" stroke-width="1.7" opacity="0.7"/>
<line x1="138.6" y1="2177.5" x2="131.2" y2="2183.1" stroke="#557a30" stroke-width="1.7" opacity="0.7"/>
<line x1="140.2" y1="2161.4" x2="137.9" y2="2157.1" stroke="#557a30" stroke-width="1.7" opacity="0.7"/>
<line x1="154.9" y1="2167.5" x2="160.9" y2="2164.5" stroke="#7a963c" stroke-width="1.7" opacity="0.7"/>
<line x1="147.1" y1="2163.0" x2="148.0" y2="2156.0" stroke="#6f943c" stroke-width="1.7" opacity="0.7"/>
<line x1="138.2" y1="2168.3" x2="130.3" y2="2164.5" stroke="#807434" stroke-width="1.7" opacity="0.7"/>
<line x1="137.9" y1="2168.5" x2="129.3" y2="2164.8" stroke="#9a6038" stroke-width="1.7" opacity="0.7"/>
<line x1="137.2" y1="2173.0" x2="127.9" y2="2174.0" stroke="#7a963c" stroke-width="1.7" opacity="0.7"/>
<line x1="151.1" y1="2164.3" x2="155.4" y2="2157.9" stroke="#557a30" stroke-width="1.7" opacity="0.7"/>
<line x1="152.4" y1="2165.3" x2="157.6" y2="2160.0" stroke="#6d903c" stroke-width="1.7" opacity="0.7"/>
<line x1="155.4" y1="2170.9" x2="163.4" y2="2170.0" stroke="#6d903c" stroke-width="1.7" opacity="0.7"/>
<line x1="145.2" y1="2182.0" x2="144.7" y2="2188.3" stroke="#62863a" stroke-width="1.7" opacity="0.7"/>
<line x1="135.7" y1="2168.2" x2="130.0" y2="2166.2" stroke="#557a30" stroke-width="1.7" opacity="0.7"/>
<line x1="142.6" y1="2181.1" x2="140.1" y2="2187.8" stroke="#7a963c" stroke-width="1.7" opacity="0.7"/>
<line x1="152.1" y1="2164.3" x2="156.0" y2="2159.4" stroke="#557a30" stroke-width="1.7" opacity="0.7"/>
<line x1="146.3" y1="2173.2" x2="149.6" y2="2185.3" stroke="#55505a" stroke-width="1.5" opacity="0.7"/>
<line x1="145.9" y1="2171.7" x2="142.6" y2="2158.6" stroke="#40463a" stroke-width="1.5" opacity="0.7"/>
<line x1="146.5" y1="2173.7" x2="149.5" y2="2182.8" stroke="#3a3a3c" stroke-width="1.5" opacity="0.7"/>
<line x1="146.0" y1="2172.0" x2="145.0" y2="2164.0" stroke="#40463a" stroke-width="1.5" opacity="0.7"/>
<line x1="146.4" y1="2172.1" x2="156.3" y2="2174.3" stroke="#4a4650" stroke-width="1.5" opacity="0.7"/>
<line x1="145.6" y1="2170.5" x2="143.2" y2="2160.8" stroke="#55505a" stroke-width="1.5" opacity="0.7"/>
<line x1="144.9" y1="2172.8" x2="138.6" y2="2177.0" stroke="#4a4650" stroke-width="1.5" opacity="0.7"/>
<line x1="146.8" y1="2172.3" x2="157.1" y2="2176.2" stroke="#3a3a3c" stroke-width="1.5" opacity="0.7"/>
<line x1="147.1" y1="2173.3" x2="154.5" y2="2181.9" stroke="#55505a" stroke-width="1.5" opacity="0.7"/>
<line x1="146.7" y1="2173.6" x2="150.8" y2="2182.3" stroke="#4a4650" stroke-width="1.5" opacity="0.7"/>
<line x1="144.7" y1="2172.0" x2="133.9" y2="2172.1" stroke="#40463a" stroke-width="1.5" opacity="0.7"/>
<line x1="146.3" y1="2171.0" x2="148.8" y2="2163.8" stroke="#4a4650" stroke-width="1.5" opacity="0.7"/>
<line x1="145.1" y1="2171.9" x2="137.1" y2="2171.1" stroke="#3a3a3c" stroke-width="1.5" opacity="0.7"/>
<line x1="146.8" y1="2171.8" x2="157.4" y2="2168.4" stroke="#40463a" stroke-width="1.5" opacity="0.7"/>
<line x1="145.8" y1="2171.2" x2="143.2" y2="2162.0" stroke="#3a3a3c" stroke-width="1.5" opacity="0.7"/>
<line x1="146.2" y1="2171.9" x2="153.7" y2="2168.0" stroke="#55505a" stroke-width="1.5" opacity="0.7"/>
<line x1="145.9" y1="2172.4" x2="142.9" y2="2183.0" stroke="#40463a" stroke-width="1.5" opacity="0.7"/>
<line x1="145.6" y1="2170.7" x2="143.4" y2="2162.7" stroke="#40463a" stroke-width="1.5" opacity="0.7"/>
<line x1="145.3" y1="2173.4" x2="142.1" y2="2179.7" stroke="#4a4650" stroke-width="1.5" opacity="0.7"/>
<line x1="146.0" y1="2172.0" x2="138.1" y2="2178.4" stroke="#40463a" stroke-width="1.5" opacity="0.7"/>
<line x1="146.2" y1="2173.0" x2="147.4" y2="2180.1" stroke="#55505a" stroke-width="1.5" opacity="0.7"/>
<line x1="146.2" y1="2172.3" x2="151.8" y2="2179.9" stroke="#55505a" stroke-width="1.5" opacity="0.7"/>
<line x1="147.2" y1="2173.0" x2="152.3" y2="2177.5" stroke="#4a4650" stroke-width="1.5" opacity="0.7"/>
<line x1="147.8" y1="2172.0" x2="157.1" y2="2171.7" stroke="#40463a" stroke-width="1.5" opacity="0.7"/>
<line x1="146.0" y1="2172.0" x2="133.2" y2="2172.8" stroke="#3a3a3c" stroke-width="1.5" opacity="0.7"/>
<line x1="146.2" y1="2172.5" x2="148.9" y2="2181.2" stroke="#3a3a3c" stroke-width="1.5" opacity="0.7"/>
<line x1="146.3" y1="2172.9" x2="149.8" y2="2184.1" stroke="#4a4650" stroke-width="1.5" opacity="0.7"/>
<line x1="145.5" y1="2171.7" x2="135.9" y2="2166.6" stroke="#3a3a3c" stroke-width="1.5" opacity="0.7"/>
<line x1="146.6" y1="2171.9" x2="159.6" y2="2169.2" stroke="#40463a" stroke-width="1.5" opacity="0.7"/>
<line x1="146.6" y1="2172.2" x2="156.1" y2="2175.3" stroke="#4a4650" stroke-width="1.5" opacity="0.7"/>
<line x1="145.7" y1="2172.6" x2="142.0" y2="2179.3" stroke="#40463a" stroke-width="1.5" opacity="0.7"/>
<line x1="146.5" y1="2170.7" x2="149.9" y2="2162.1" stroke="#3a3a3c" stroke-width="1.5" opacity="0.7"/>
<line x1="146.3" y1="2170.9" x2="148.5" y2="2161.6" stroke="#3a3a3c" stroke-width="1.5" opacity="0.7"/>
<line x1="147.1" y1="2172.3" x2="156.0" y2="2174.5" stroke="#4a4650" stroke-width="1.5" opacity="0.7"/>
<line x1="144.6" y1="2172.8" x2="139.0" y2="2176.1" stroke="#4a4650" stroke-width="1.5" opacity="0.7"/>
<line x1="145.2" y1="2173.0" x2="140.8" y2="2178.3" stroke="#3a3a3c" stroke-width="1.5" opacity="0.7"/>
</g>
</g>
<g font-family="'Liberation Sans', sans-serif" fill="#000">
<text transform="matrix(0.7794 0.2205 -0.2723 0.9622 691.0 262.0)" font-size="56.0" stroke="#000" stroke-width="1.6" >C19</text>
<text transform="matrix(0.6736 0.1906 -0.2723 0.9622 783.0 288.0)" font-size="42.0" font-style="italic" stroke="#000" stroke-width="1.5" word-spacing="5.4" >3 x 10</text>
<text transform="matrix(0.7794 0.2205 -0.2723 0.9622 710.0 502.0)" font-size="56.0" stroke="#000" stroke-width="1.6" >C18</text>
<text transform="matrix(0.6736 0.1906 -0.2723 0.9622 800.0 524.5)" font-size="42.0" font-style="italic" stroke="#000" stroke-width="1.5" word-spacing="5.4" >3 x 10</text>
<text transform="matrix(0.7794 0.2205 -0.2723 0.9622 699.0 571.0)" font-size="56.0" stroke="#000" stroke-width="1.6" >C16</text>
<text transform="matrix(0.6736 0.1906 -0.2723 0.9622 783.0 588.0)" font-size="42.0" font-style="italic" stroke="#000" stroke-width="1.5" word-spacing="5.4" >3 x 10</text>
<text transform="matrix(0.7794 0.2205 -0.2723 0.9622 659.0 785.0)" font-size="56.0" stroke="#000" stroke-width="1.6" >C12</text>
<text transform="matrix(0.6736 0.1906 -0.2723 0.9622 740.0 808.0)" font-size="42.0" font-style="italic" stroke="#000" stroke-width="1.5" word-spacing="5.4" >3 x 10</text>
<text transform="matrix(0.7794 0.2205 -0.2723 0.9622 636.0 855.0)" font-size="56.0" stroke="#000" stroke-width="1.6" >C10</text>
<text transform="matrix(0.6736 0.1906 -0.2723 0.9622 720.0 869.0)" font-size="42.0" font-style="italic" stroke="#000" stroke-width="1.5" word-spacing="5.4" >3 x 10</text>
<text transform="matrix(0.7794 0.2205 -0.2723 0.9622 607.0 1069.0)" font-size="56.0" stroke="#000" stroke-width="1.6" >C7</text>
<text transform="matrix(0.6736 0.1906 -0.2723 0.9622 679.0 1087.0)" font-size="42.0" font-style="italic" stroke="#000" stroke-width="1.5" word-spacing="5.4" >3 x 10</text>
<text transform="matrix(0.7794 0.2205 -0.2723 0.9622 587.0 1140.0)" font-size="56.0" stroke="#000" stroke-width="1.6" >C6</text>
<text transform="matrix(0.6736 0.1906 -0.2723 0.9622 659.0 1153.0)" font-size="42.0" font-style="italic" stroke="#000" stroke-width="1.5" word-spacing="5.4" >3 x 10</text>
<text transform="matrix(0.7794 0.2205 -0.2723 0.9622 534.0 1347.0)" font-size="56.0" stroke="#000" stroke-width="1.6" >C5</text>
<text transform="matrix(0.6736 0.1906 -0.2723 0.9622 605.0 1367.0)" font-size="42.0" font-style="italic" stroke="#000" stroke-width="1.5" word-spacing="5.4" >3 x 10</text>
<text transform="matrix(0.7794 0.2205 -0.2723 0.9622 513.0 1418.5)" font-size="56.0" stroke="#000" stroke-width="1.6" >C3</text>
<text transform="matrix(0.6736 0.1906 -0.2723 0.9622 585.0 1431.0)" font-size="42.0" font-style="italic" stroke="#000" stroke-width="1.5" word-spacing="5.4" >3 x 12</text>
<text transform="matrix(0.7794 0.2205 -0.2723 0.9622 523.0 1688.0)" font-size="56.0" stroke="#000" stroke-width="1.6" >C2</text>
<text transform="matrix(0.6736 0.1906 -0.2723 0.9622 594.5 1708.0)" font-size="42.0" font-style="italic" stroke="#000" stroke-width="1.5" word-spacing="5.4" >3 x 12</text>
<text transform="matrix(0.7794 0.2205 -0.2723 0.9622 505.5 1760.0)" font-size="56.0" stroke="#000" stroke-width="1.6" >C1</text>
<text transform="matrix(0.6736 0.1906 -0.2723 0.9622 575.0 1773.0)" font-size="42.0" font-style="italic" stroke="#000" stroke-width="1.5" word-spacing="5.4" >3 x 12</text>
<text transform="matrix(0.8050 0.2400 -0.2857 0.9583 791.0 403.0)" font-size="28.0" stroke="#000" stroke-width="0.5" >ROW 7</text>
<text transform="matrix(0.8050 0.2400 -0.2857 0.9583 709.0 679.0)" font-size="28.0" stroke="#000" stroke-width="0.5" >ROW 7</text>
<text transform="matrix(0.8050 0.2400 -0.2857 0.9583 672.0 965.0)" font-size="28.0" stroke="#000" stroke-width="0.5" >ROW 7</text>
<text transform="matrix(0.8050 0.2400 -0.2857 0.9583 627.0 1255.0)" font-size="28.0" stroke="#000" stroke-width="0.5" >ROW 7</text>
<text transform="matrix(0.8050 0.2400 -0.2857 0.9583 584.0 1563.0)" font-size="28.0" stroke="#000" stroke-width="0.5" >ROW 7</text>
<text transform="matrix(0.8050 0.2400 -0.2857 0.9583 471.0 1873.0)" font-size="28.0" stroke="#000" stroke-width="0.5" >ROW 7</text>
</g>
<circle cx="760" cy="466" r="6.6" fill="#000"/>
<circle cx="600" cy="549" r="6.6" fill="#000"/>
<circle cx="727" cy="590" r="6.6" fill="#000"/>
<circle cx="816" cy="614" r="6.6" fill="#000"/>
<circle cx="937" cy="649" r="6.6" fill="#000"/>
<circle cx="587" cy="715" r="6.6" fill="#000"/>
<circle cx="647" cy="733" r="6.6" fill="#000"/>
<circle cx="741" cy="759" r="6.6" fill="#000"/>
<circle cx="703" cy="883" r="6.6" fill="#000"/>
<circle cx="824" cy="914" r="6.6" fill="#000"/>
<circle cx="551" cy="1131" r="6.6" fill="#000"/>
<circle cx="603" cy="1320" r="6.6" fill="#000"/>
<circle cx="639.3" cy="323.7" r="10.0" fill="none" stroke="#8a8a96" stroke-width="0.9"/>
<circle cx="622.0" cy="697.0" r="9.0" fill="none" stroke="#8a8a96" stroke-width="0.9"/>
<circle cx="713.0" cy="1023.0" r="9.0" fill="none" stroke="#8a8a96" stroke-width="0.9"/>
<circle cx="38.0" cy="1478.0" r="12.0" fill="none" stroke="#8a8a96" stroke-width="0.9"/>
<circle cx="954.5" cy="1657.5" r="25.7" fill="#000"/>
<text x="991" y="1677" font-family="'Liberation Sans', sans-serif" font-size="42" fill="#0a0a0a" textLength="20" lengthAdjust="spacingAndGlyphs">=</text>
<text x="1029.5" y="1675.5" font-family="'Liberation Sans', sans-serif" font-size="45" fill="#0a0a0a" textLength="125" lengthAdjust="spacingAndGlyphs">STOCK</text>
</svg>
</body></html>
